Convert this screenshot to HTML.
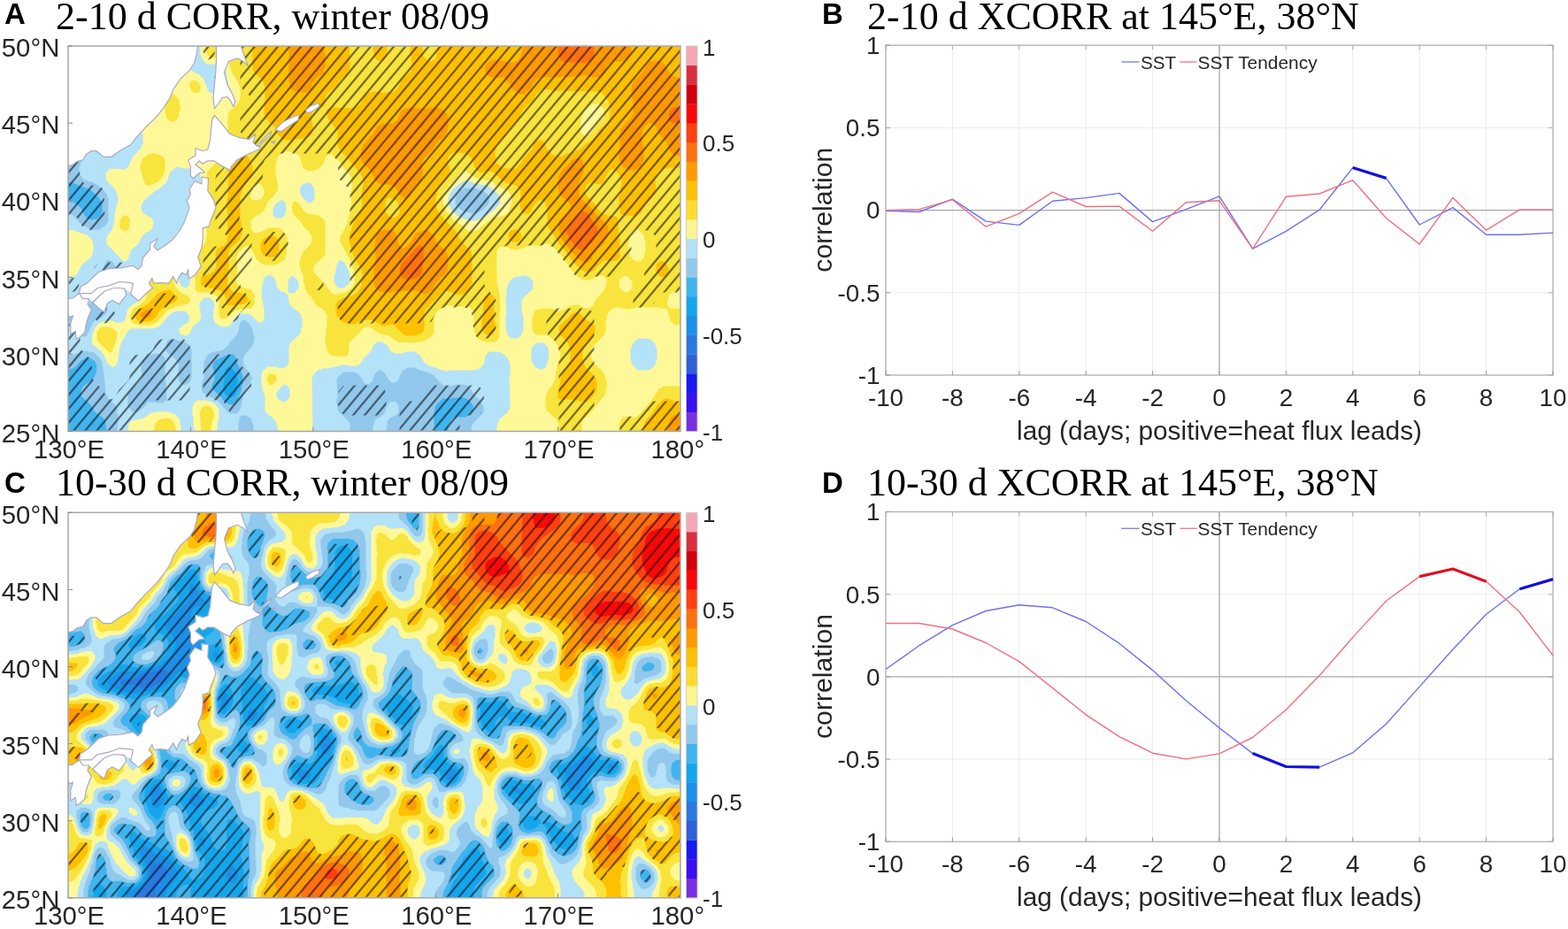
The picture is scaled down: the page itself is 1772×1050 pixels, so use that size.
<!DOCTYPE html><html><head><meta charset="utf-8"><style>html,body{margin:0;padding:0;background:#fff;}svg{display:block}</style></head><body>
<svg width="1772" height="1050" viewBox="0 0 1772 1050">
<rect width="100%" height="100%" fill="#fff"/>
<text x="5" y="27.0" font-family="Liberation Sans, Arial, sans-serif" font-weight="bold" font-size="33" fill="#000">A</text>
<text x="63" y="32.5" font-family="Liberation Serif, Times New Roman, serif" font-size="44" fill="#000">2-10 d CORR, winter 08/09</text>
<clipPath id="clipA"><rect x="77.0" y="52.0" width="692.0" height="435.5"/></clipPath>
<g clip-path="url(#clipA)">
<rect x="77.0" y="52.0" width="692.0" height="435.5" fill="#14a6ec"/>
<path d="M257.5,414.5 261.5,415.5 266.5,421.5 268.5,426.5 268.5,430.5 269.5,431.5 268.5,432.5 268.5,439.5 267.5,440.5 267.5,442.5 265.5,446.5 261.5,449.5 257.5,448.5 254.5,445.5 252.5,441.5 252.5,432.5 253.5,431.5 253.5,427.5 254.5,426.5 254.5,418.5ZM77.5,52.5 77.5,487.5 768.5,487.5 768.5,52.5Z" fill="#40b4ee" fill-rule="evenodd"/>
<path d="M258.5,400.5 263.5,400.5 266.5,403.5 268.5,411.5 274.5,424.5 274.5,433.5 273.5,434.5 272.5,441.5 268.5,452.5 263.5,457.5 259.5,457.5 254.5,454.5 250.5,450.5 250.5,449.5 241.5,441.5 239.5,437.5 239.5,435.5 242.5,428.5 242.5,422.5 241.5,421.5 241.5,417.5 240.5,416.5 240.5,412.5 242.5,408.5 244.5,406.5ZM77.5,52.5 77.5,206.5 81.5,206.5 102.5,214.5 112.5,224.5 115.5,230.5 115.5,240.5 113.5,244.5 109.5,247.5 102.5,248.5 101.5,247.5 99.5,247.5 95.5,243.5 91.5,235.5 86.5,230.5 82.5,228.5 78.5,228.5 77.5,227.5 77.5,417.5 82.5,416.5 85.5,414.5 91.5,407.5 97.5,404.5 101.5,404.5 107.5,408.5 109.5,413.5 108.5,422.5 104.5,429.5 96.5,434.5 92.5,438.5 92.5,440.5 91.5,441.5 91.5,446.5 92.5,448.5 103.5,458.5 106.5,464.5 111.5,469.5 114.5,470.5 118.5,474.5 119.5,476.5 119.5,481.5 120.5,482.5 120.5,487.5 490.5,487.5 490.5,465.5 491.5,464.5 491.5,460.5 493.5,456.5 500.5,450.5 510.5,450.5 511.5,449.5 518.5,449.5 519.5,448.5 527.5,450.5 533.5,456.5 534.5,458.5 534.5,463.5 533.5,465.5 526.5,471.5 514.5,471.5 510.5,473.5 506.5,481.5 506.5,487.5 768.5,487.5 768.5,52.5Z" fill="#92c8ec" fill-rule="evenodd"/>
<path d="M447.5,454.5 445.5,453.5 440.5,454.5 436.5,460.5 434.5,467.5 429.5,471.5 426.5,472.5 423.5,475.5 422.5,480.5 421.5,481.5 421.5,487.5 436.5,487.5 436.5,482.5 437.5,481.5 437.5,476.5 440.5,472.5 448.5,468.5 450.5,465.5 450.5,458.5ZM182.5,400.5 186.5,404.5 186.5,430.5 187.5,431.5 188.5,451.5 184.5,455.5 168.5,454.5 166.5,455.5 163.5,459.5 156.5,465.5 150.5,465.5 148.5,464.5 144.5,458.5 144.5,445.5 146.5,441.5 152.5,435.5 153.5,435.5 159.5,428.5 159.5,424.5 160.5,423.5 160.5,421.5 159.5,420.5 159.5,412.5 160.5,411.5 161.5,406.5 168.5,400.5 172.5,400.5 173.5,399.5ZM191.5,383.5 198.5,383.5 199.5,384.5 210.5,387.5 214.5,390.5 216.5,394.5 216.5,426.5 214.5,431.5 211.5,434.5 209.5,434.5 208.5,435.5 204.5,433.5 201.5,429.5 201.5,426.5 200.5,425.5 200.5,421.5 201.5,420.5 201.5,411.5 200.5,410.5 200.5,408.5 194.5,402.5 191.5,401.5 187.5,396.5 188.5,386.5ZM276.5,361.5 282.5,366.5 285.5,372.5 286.5,378.5 287.5,379.5 286.5,388.5 284.5,392.5 277.5,399.5 274.5,405.5 275.5,412.5 277.5,416.5 282.5,421.5 284.5,425.5 284.5,429.5 276.5,441.5 276.5,443.5 274.5,447.5 274.5,451.5 273.5,452.5 272.5,459.5 271.5,460.5 271.5,463.5 267.5,467.5 260.5,467.5 256.5,465.5 250.5,457.5 244.5,451.5 231.5,445.5 228.5,442.5 227.5,435.5 230.5,427.5 230.5,409.5 233.5,402.5 236.5,399.5 241.5,397.5 249.5,396.5 253.5,394.5 258.5,389.5 258.5,388.5 267.5,378.5 269.5,374.5 270.5,367.5 272.5,363.5ZM514.5,222.5 521.5,214.5 525.5,212.5 536.5,212.5 547.5,216.5 551.5,220.5 553.5,226.5 551.5,231.5 545.5,237.5 539.5,240.5 532.5,241.5 531.5,240.5 524.5,239.5 516.5,233.5 514.5,229.5ZM243.5,84.5 245.5,87.5 242.5,89.5 241.5,88.5 241.5,86.5ZM92.5,52.5 92.5,65.5 91.5,66.5 91.5,183.5 89.5,188.5 89.5,196.5 95.5,203.5 97.5,203.5 101.5,205.5 104.5,205.5 112.5,210.5 120.5,219.5 122.5,224.5 122.5,249.5 119.5,254.5 112.5,259.5 104.5,259.5 94.5,255.5 91.5,253.5 81.5,242.5 78.5,242.5 77.5,241.5 77.5,346.5 83.5,346.5 91.5,349.5 96.5,348.5 99.5,345.5 103.5,338.5 108.5,333.5 114.5,330.5 116.5,328.5 117.5,300.5 120.5,294.5 124.5,294.5 126.5,295.5 133.5,303.5 135.5,308.5 135.5,316.5 132.5,323.5 126.5,329.5 120.5,332.5 121.5,352.5 115.5,358.5 108.5,361.5 104.5,365.5 99.5,377.5 96.5,380.5 92.5,380.5 89.5,377.5 84.5,368.5 81.5,366.5 77.5,366.5 77.5,401.5 82.5,401.5 85.5,399.5 87.5,399.5 91.5,397.5 98.5,396.5 99.5,397.5 106.5,398.5 113.5,405.5 115.5,410.5 115.5,413.5 116.5,414.5 116.5,419.5 117.5,420.5 119.5,444.5 122.5,450.5 129.5,456.5 132.5,462.5 132.5,467.5 133.5,468.5 132.5,487.5 269.5,487.5 269.5,477.5 270.5,476.5 270.5,472.5 273.5,469.5 278.5,469.5 283.5,472.5 286.5,480.5 286.5,487.5 395.5,487.5 395.5,479.5 393.5,475.5 383.5,466.5 381.5,462.5 381.5,458.5 380.5,457.5 380.5,451.5 381.5,450.5 380.5,429.5 382.5,425.5 388.5,420.5 399.5,420.5 404.5,422.5 407.5,425.5 410.5,431.5 412.5,433.5 416.5,434.5 420.5,431.5 423.5,422.5 427.5,418.5 430.5,418.5 435.5,422.5 438.5,428.5 442.5,432.5 446.5,432.5 449.5,430.5 454.5,419.5 460.5,415.5 468.5,415.5 474.5,418.5 485.5,421.5 490.5,424.5 499.5,434.5 504.5,436.5 513.5,435.5 514.5,434.5 524.5,434.5 525.5,435.5 527.5,435.5 532.5,440.5 535.5,445.5 542.5,452.5 546.5,459.5 546.5,464.5 544.5,468.5 534.5,478.5 532.5,483.5 532.5,487.5 768.5,487.5 768.5,52.5Z" fill="#b4e2f8" fill-rule="evenodd"/>
<path d="M204.5,480.5 203.5,479.5 203.5,475.5 201.5,471.5 198.5,468.5 190.5,465.5 176.5,465.5 175.5,466.5 171.5,466.5 160.5,473.5 156.5,473.5 155.5,474.5 148.5,475.5 145.5,479.5 144.5,487.5 204.5,487.5ZM221.5,453.5 218.5,456.5 218.5,458.5 217.5,459.5 217.5,470.5 218.5,471.5 218.5,483.5 219.5,484.5 219.5,487.5 245.5,487.5 245.5,479.5 246.5,478.5 246.5,474.5 247.5,473.5 247.5,463.5 245.5,459.5 241.5,455.5 237.5,453.5 234.5,453.5 233.5,452.5 223.5,452.5ZM322.5,434.5 324.5,435.5 327.5,439.5 327.5,448.5 323.5,453.5 319.5,454.5 313.5,450.5 312.5,448.5 312.5,443.5 319.5,435.5ZM606.5,387.5 614.5,387.5 618.5,391.5 620.5,396.5 619.5,408.5 618.5,409.5 617.5,414.5 613.5,417.5 609.5,417.5 605.5,415.5 603.5,413.5 600.5,407.5 600.5,394.5 602.5,390.5ZM722.5,382.5 732.5,382.5 736.5,384.5 739.5,387.5 742.5,394.5 742.5,406.5 741.5,407.5 740.5,412.5 736.5,416.5 732.5,418.5 721.5,418.5 719.5,417.5 713.5,410.5 713.5,407.5 712.5,406.5 712.5,394.5 715.5,387.5 718.5,384.5ZM594.5,311.5 595.5,312.5 597.5,312.5 601.5,316.5 602.5,318.5 602.5,325.5 601.5,327.5 592.5,335.5 589.5,340.5 589.5,352.5 591.5,357.5 591.5,373.5 588.5,379.5 584.5,382.5 577.5,382.5 573.5,378.5 572.5,373.5 571.5,372.5 571.5,357.5 572.5,356.5 571.5,334.5 572.5,333.5 572.5,326.5 575.5,318.5 579.5,314.5 584.5,312.5 587.5,312.5 588.5,311.5ZM330.5,311.5 336.5,316.5 336.5,318.5 337.5,319.5 337.5,325.5 333.5,330.5 331.5,331.5 326.5,331.5 325.5,330.5 325.5,317.5 326.5,316.5 326.5,314.5ZM383.5,294.5 386.5,294.5 389.5,297.5 394.5,306.5 394.5,309.5 395.5,310.5 395.5,316.5 394.5,317.5 394.5,319.5 393.5,321.5 388.5,325.5 383.5,325.5 381.5,324.5 378.5,321.5 378.5,319.5 377.5,318.5 377.5,311.5 378.5,310.5 380.5,299.5ZM77.5,259.5 77.5,313.5 80.5,313.5 86.5,310.5 92.5,299.5 96.5,295.5 102.5,291.5 105.5,284.5 105.5,275.5 103.5,270.5 98.5,265.5 85.5,261.5 84.5,260.5ZM316.5,226.5 319.5,226.5 322.5,229.5 323.5,238.5 322.5,239.5 322.5,242.5 318.5,246.5 312.5,246.5 308.5,243.5 308.5,236.5 311.5,230.5ZM342.5,207.5 349.5,206.5 351.5,207.5 354.5,211.5 354.5,214.5 355.5,215.5 355.5,224.5 351.5,229.5 348.5,229.5 341.5,222.5 339.5,218.5 338.5,213.5ZM506.5,224.5 509.5,216.5 516.5,209.5 524.5,204.5 529.5,204.5 537.5,207.5 549.5,209.5 555.5,212.5 559.5,216.5 560.5,216.5 565.5,222.5 565.5,229.5 558.5,237.5 549.5,243.5 546.5,244.5 544.5,246.5 537.5,249.5 529.5,249.5 523.5,246.5 521.5,246.5 519.5,244.5 516.5,243.5 510.5,237.5 507.5,231.5ZM103.5,52.5 103.5,58.5 104.5,59.5 105.5,64.5 108.5,67.5 112.5,69.5 117.5,74.5 122.5,83.5 130.5,91.5 136.5,101.5 143.5,107.5 149.5,117.5 158.5,126.5 160.5,131.5 160.5,150.5 161.5,151.5 161.5,162.5 160.5,163.5 160.5,165.5 149.5,178.5 145.5,187.5 142.5,190.5 140.5,191.5 125.5,190.5 123.5,191.5 119.5,196.5 120.5,203.5 130.5,214.5 133.5,222.5 133.5,227.5 132.5,228.5 132.5,231.5 130.5,235.5 130.5,240.5 129.5,241.5 129.5,250.5 128.5,251.5 128.5,254.5 126.5,259.5 120.5,268.5 120.5,274.5 121.5,276.5 138.5,294.5 140.5,295.5 143.5,294.5 145.5,291.5 145.5,289.5 148.5,282.5 156.5,275.5 160.5,267.5 165.5,262.5 169.5,260.5 172.5,257.5 172.5,255.5 173.5,254.5 173.5,250.5 171.5,246.5 162.5,241.5 159.5,236.5 159.5,232.5 162.5,226.5 174.5,216.5 182.5,211.5 188.5,205.5 192.5,194.5 199.5,188.5 205.5,189.5 206.5,190.5 220.5,190.5 224.5,193.5 226.5,198.5 226.5,257.5 227.5,258.5 227.5,265.5 226.5,266.5 225.5,271.5 214.5,280.5 212.5,285.5 212.5,302.5 214.5,307.5 214.5,321.5 210.5,325.5 206.5,324.5 203.5,321.5 202.5,319.5 202.5,301.5 199.5,295.5 193.5,291.5 182.5,291.5 177.5,293.5 174.5,296.5 171.5,304.5 165.5,310.5 162.5,311.5 158.5,315.5 157.5,317.5 157.5,323.5 158.5,324.5 158.5,328.5 159.5,329.5 159.5,335.5 154.5,341.5 145.5,347.5 143.5,351.5 142.5,358.5 140.5,362.5 138.5,364.5 131.5,364.5 127.5,362.5 120.5,362.5 119.5,363.5 116.5,363.5 110.5,366.5 106.5,371.5 106.5,373.5 104.5,377.5 103.5,386.5 105.5,390.5 106.5,390.5 114.5,397.5 118.5,403.5 121.5,410.5 125.5,414.5 127.5,415.5 132.5,411.5 132.5,409.5 133.5,408.5 133.5,402.5 134.5,401.5 134.5,394.5 135.5,393.5 136.5,388.5 144.5,374.5 148.5,371.5 173.5,371.5 174.5,370.5 179.5,369.5 186.5,362.5 188.5,358.5 194.5,353.5 199.5,351.5 208.5,351.5 212.5,354.5 214.5,360.5 213.5,361.5 213.5,363.5 211.5,365.5 208.5,366.5 202.5,371.5 202.5,375.5 205.5,378.5 207.5,378.5 208.5,379.5 212.5,378.5 214.5,376.5 217.5,369.5 226.5,361.5 227.5,354.5 226.5,353.5 226.5,349.5 225.5,348.5 225.5,342.5 230.5,336.5 236.5,336.5 241.5,340.5 242.5,347.5 241.5,348.5 240.5,358.5 241.5,359.5 242.5,364.5 248.5,368.5 256.5,369.5 260.5,367.5 263.5,363.5 264.5,360.5 271.5,354.5 280.5,354.5 284.5,356.5 289.5,361.5 289.5,362.5 292.5,364.5 295.5,364.5 297.5,362.5 297.5,360.5 298.5,359.5 298.5,347.5 297.5,346.5 296.5,337.5 295.5,336.5 296.5,321.5 297.5,320.5 297.5,316.5 298.5,314.5 301.5,311.5 304.5,310.5 305.5,311.5 307.5,311.5 309.5,313.5 311.5,317.5 313.5,325.5 317.5,329.5 322.5,330.5 325.5,333.5 326.5,341.5 328.5,345.5 339.5,354.5 340.5,359.5 341.5,360.5 341.5,369.5 340.5,370.5 339.5,376.5 327.5,388.5 327.5,390.5 326.5,391.5 326.5,410.5 325.5,412.5 320.5,416.5 313.5,415.5 312.5,414.5 302.5,414.5 296.5,419.5 296.5,421.5 295.5,422.5 295.5,435.5 296.5,436.5 296.5,439.5 299.5,447.5 299.5,463.5 302.5,468.5 307.5,471.5 312.5,477.5 314.5,487.5 353.5,487.5 352.5,427.5 354.5,422.5 360.5,417.5 363.5,417.5 364.5,416.5 372.5,416.5 373.5,415.5 383.5,413.5 384.5,412.5 392.5,412.5 393.5,413.5 402.5,413.5 403.5,412.5 405.5,412.5 408.5,409.5 410.5,405.5 419.5,396.5 422.5,389.5 426.5,386.5 432.5,386.5 437.5,390.5 442.5,397.5 446.5,399.5 454.5,399.5 459.5,397.5 469.5,397.5 475.5,402.5 478.5,408.5 481.5,411.5 487.5,414.5 489.5,414.5 499.5,418.5 502.5,418.5 503.5,419.5 506.5,419.5 507.5,418.5 535.5,418.5 536.5,417.5 540.5,417.5 545.5,413.5 547.5,409.5 548.5,402.5 551.5,398.5 553.5,397.5 563.5,397.5 569.5,400.5 573.5,404.5 576.5,411.5 576.5,423.5 575.5,424.5 576.5,460.5 573.5,466.5 564.5,473.5 561.5,481.5 561.5,487.5 768.5,487.5 768.5,52.5 225.5,52.5 226.5,61.5 228.5,66.5 231.5,70.5 234.5,72.5 247.5,72.5 253.5,77.5 255.5,81.5 256.5,89.5 257.5,90.5 257.5,99.5 253.5,103.5 246.5,104.5 245.5,105.5 239.5,105.5 237.5,104.5 234.5,101.5 232.5,94.5 229.5,88.5 224.5,83.5 220.5,82.5 217.5,80.5 208.5,70.5 206.5,69.5 194.5,69.5 192.5,68.5 187.5,62.5 187.5,60.5 186.5,59.5 186.5,52.5Z" fill="#fff898" fill-rule="evenodd"/>
<path d="M198.5,482.5 195.5,475.5 192.5,473.5 186.5,472.5 185.5,473.5 181.5,473.5 179.5,474.5 175.5,478.5 173.5,487.5 198.5,487.5ZM232.5,458.5 231.5,459.5 229.5,459.5 227.5,461.5 225.5,466.5 227.5,487.5 238.5,487.5 238.5,482.5 239.5,481.5 239.5,477.5 241.5,472.5 241.5,464.5 237.5,459.5ZM768.5,436.5 750.5,436.5 744.5,439.5 736.5,452.5 721.5,469.5 717.5,471.5 707.5,470.5 706.5,471.5 704.5,471.5 701.5,474.5 700.5,479.5 699.5,480.5 699.5,487.5 768.5,487.5ZM309.5,422.5 304.5,422.5 302.5,424.5 302.5,426.5 301.5,427.5 303.5,434.5 305.5,435.5 308.5,434.5 312.5,429.5 312.5,425.5 311.5,423.5ZM115.5,369.5 113.5,370.5 109.5,375.5 109.5,383.5 110.5,385.5 123.5,398.5 125.5,398.5 127.5,396.5 127.5,394.5 131.5,384.5 132.5,376.5 131.5,374.5 126.5,370.5 124.5,370.5 123.5,369.5ZM706.5,311.5 707.5,312.5 709.5,312.5 714.5,318.5 714.5,325.5 709.5,330.5 705.5,330.5 700.5,325.5 700.5,323.5 699.5,322.5 699.5,317.5 700.5,315.5 703.5,312.5 705.5,312.5ZM193.5,299.5 191.5,298.5 183.5,298.5 180.5,300.5 175.5,310.5 164.5,320.5 165.5,336.5 159.5,343.5 152.5,347.5 149.5,350.5 147.5,355.5 147.5,361.5 150.5,365.5 155.5,366.5 156.5,367.5 169.5,367.5 170.5,366.5 172.5,366.5 176.5,364.5 189.5,350.5 201.5,345.5 205.5,345.5 206.5,344.5 212.5,343.5 214.5,341.5 214.5,336.5 210.5,333.5 205.5,331.5 198.5,324.5 196.5,319.5 196.5,310.5 197.5,308.5 196.5,307.5 196.5,303.5ZM717.5,259.5 722.5,260.5 727.5,265.5 728.5,271.5 729.5,272.5 729.5,284.5 728.5,285.5 728.5,288.5 727.5,289.5 727.5,291.5 723.5,295.5 719.5,295.5 715.5,293.5 711.5,288.5 711.5,286.5 710.5,285.5 710.5,273.5 711.5,272.5 711.5,266.5 712.5,265.5 712.5,263.5ZM139.5,243.5 136.5,246.5 136.5,248.5 135.5,249.5 135.5,257.5 138.5,260.5 143.5,260.5 146.5,257.5 146.5,247.5 143.5,243.5ZM292.5,207.5 296.5,210.5 298.5,215.5 298.5,219.5 295.5,224.5 291.5,226.5 286.5,226.5 284.5,225.5 282.5,222.5 282.5,215.5 288.5,208.5ZM500.5,222.5 503.5,214.5 507.5,210.5 507.5,209.5 514.5,203.5 519.5,195.5 522.5,192.5 525.5,192.5 537.5,201.5 539.5,201.5 540.5,202.5 546.5,202.5 547.5,203.5 553.5,203.5 565.5,211.5 573.5,215.5 576.5,218.5 578.5,222.5 578.5,228.5 577.5,229.5 577.5,232.5 576.5,233.5 575.5,238.5 571.5,242.5 563.5,245.5 560.5,245.5 553.5,248.5 538.5,260.5 536.5,260.5 535.5,261.5 529.5,261.5 521.5,254.5 512.5,248.5 504.5,239.5 500.5,230.5ZM176.5,173.5 169.5,173.5 163.5,177.5 160.5,181.5 158.5,186.5 158.5,191.5 159.5,192.5 159.5,195.5 160.5,196.5 160.5,199.5 161.5,200.5 163.5,207.5 166.5,209.5 169.5,209.5 178.5,205.5 183.5,200.5 186.5,192.5 186.5,180.5 183.5,176.5ZM677.5,117.5 682.5,123.5 682.5,131.5 681.5,133.5 673.5,141.5 671.5,145.5 666.5,151.5 661.5,153.5 658.5,152.5 655.5,146.5 655.5,142.5 656.5,141.5 657.5,131.5 660.5,125.5 666.5,119.5 670.5,117.5ZM191.5,106.5 188.5,109.5 186.5,114.5 186.5,127.5 187.5,128.5 188.5,133.5 192.5,137.5 196.5,137.5 198.5,136.5 201.5,132.5 202.5,125.5 203.5,124.5 203.5,118.5 202.5,117.5 202.5,113.5 201.5,111.5 196.5,106.5ZM217.5,90.5 214.5,93.5 214.5,98.5 215.5,99.5 215.5,101.5 218.5,104.5 222.5,105.5 225.5,103.5 226.5,97.5 225.5,96.5 225.5,94.5 222.5,91.5ZM231.5,52.5 232.5,53.5 232.5,59.5 237.5,65.5 252.5,65.5 256.5,68.5 259.5,73.5 261.5,81.5 267.5,90.5 271.5,99.5 271.5,111.5 270.5,112.5 270.5,114.5 268.5,117.5 258.5,126.5 258.5,128.5 257.5,129.5 257.5,148.5 256.5,149.5 256.5,153.5 255.5,154.5 255.5,158.5 254.5,159.5 254.5,163.5 253.5,164.5 252.5,169.5 249.5,175.5 245.5,180.5 244.5,183.5 236.5,191.5 233.5,196.5 233.5,200.5 232.5,201.5 232.5,221.5 233.5,222.5 233.5,228.5 232.5,229.5 232.5,253.5 233.5,254.5 233.5,267.5 232.5,268.5 232.5,272.5 230.5,276.5 225.5,281.5 224.5,281.5 218.5,288.5 218.5,299.5 219.5,300.5 219.5,307.5 220.5,308.5 220.5,327.5 223.5,330.5 236.5,330.5 241.5,332.5 245.5,335.5 247.5,339.5 247.5,351.5 246.5,353.5 247.5,354.5 247.5,357.5 250.5,360.5 255.5,360.5 263.5,352.5 267.5,350.5 269.5,350.5 270.5,349.5 276.5,349.5 277.5,348.5 282.5,348.5 284.5,347.5 287.5,343.5 287.5,333.5 285.5,329.5 283.5,327.5 272.5,324.5 267.5,319.5 267.5,316.5 266.5,315.5 267.5,313.5 267.5,308.5 268.5,307.5 267.5,290.5 269.5,285.5 275.5,279.5 277.5,278.5 281.5,278.5 284.5,281.5 289.5,292.5 294.5,297.5 299.5,299.5 310.5,299.5 311.5,298.5 313.5,298.5 317.5,296.5 321.5,292.5 323.5,288.5 324.5,279.5 325.5,278.5 325.5,273.5 324.5,272.5 324.5,268.5 321.5,262.5 318.5,259.5 314.5,257.5 304.5,257.5 293.5,262.5 288.5,263.5 286.5,262.5 283.5,258.5 283.5,249.5 288.5,244.5 293.5,242.5 298.5,237.5 302.5,228.5 309.5,221.5 313.5,215.5 314.5,209.5 313.5,208.5 313.5,204.5 312.5,203.5 312.5,199.5 311.5,198.5 311.5,185.5 312.5,184.5 312.5,181.5 314.5,176.5 320.5,171.5 332.5,171.5 338.5,176.5 342.5,189.5 344.5,191.5 349.5,193.5 353.5,193.5 354.5,192.5 359.5,191.5 364.5,186.5 368.5,177.5 370.5,175.5 374.5,174.5 384.5,183.5 386.5,187.5 394.5,196.5 397.5,202.5 397.5,215.5 396.5,216.5 397.5,231.5 396.5,232.5 396.5,236.5 395.5,237.5 395.5,241.5 394.5,242.5 392.5,252.5 384.5,267.5 384.5,273.5 396.5,295.5 396.5,297.5 398.5,300.5 398.5,302.5 400.5,306.5 400.5,311.5 401.5,312.5 401.5,314.5 400.5,315.5 400.5,320.5 398.5,324.5 394.5,328.5 388.5,331.5 384.5,331.5 383.5,332.5 377.5,332.5 375.5,331.5 370.5,326.5 367.5,320.5 363.5,317.5 354.5,307.5 354.5,301.5 355.5,299.5 360.5,294.5 361.5,294.5 367.5,287.5 367.5,251.5 365.5,247.5 359.5,243.5 347.5,241.5 342.5,237.5 338.5,230.5 334.5,227.5 331.5,227.5 330.5,232.5 329.5,233.5 330.5,235.5 330.5,239.5 332.5,243.5 340.5,251.5 342.5,255.5 349.5,262.5 352.5,267.5 352.5,272.5 350.5,276.5 343.5,283.5 340.5,288.5 340.5,290.5 338.5,294.5 338.5,301.5 342.5,311.5 343.5,319.5 344.5,320.5 344.5,324.5 347.5,331.5 351.5,335.5 356.5,343.5 359.5,346.5 363.5,348.5 367.5,352.5 369.5,356.5 369.5,369.5 368.5,370.5 368.5,377.5 367.5,378.5 367.5,386.5 368.5,387.5 368.5,393.5 369.5,394.5 369.5,396.5 370.5,398.5 374.5,401.5 376.5,401.5 377.5,402.5 391.5,402.5 393.5,400.5 393.5,398.5 394.5,397.5 394.5,388.5 395.5,386.5 401.5,380.5 402.5,380.5 410.5,371.5 413.5,369.5 417.5,369.5 429.5,377.5 439.5,379.5 449.5,386.5 469.5,387.5 470.5,386.5 476.5,386.5 477.5,385.5 479.5,385.5 488.5,379.5 490.5,375.5 490.5,357.5 491.5,356.5 491.5,354.5 501.5,345.5 511.5,345.5 512.5,346.5 530.5,346.5 535.5,352.5 535.5,373.5 538.5,380.5 541.5,383.5 547.5,386.5 559.5,386.5 561.5,385.5 564.5,380.5 564.5,353.5 565.5,352.5 564.5,330.5 563.5,329.5 563.5,325.5 561.5,320.5 561.5,283.5 562.5,281.5 565.5,278.5 570.5,278.5 577.5,281.5 584.5,282.5 585.5,281.5 589.5,281.5 597.5,277.5 611.5,277.5 616.5,275.5 620.5,275.5 622.5,276.5 633.5,287.5 645.5,304.5 653.5,313.5 659.5,316.5 666.5,316.5 677.5,311.5 682.5,311.5 685.5,315.5 685.5,321.5 682.5,328.5 674.5,336.5 670.5,344.5 666.5,348.5 662.5,348.5 652.5,344.5 644.5,345.5 634.5,351.5 630.5,351.5 622.5,348.5 613.5,348.5 612.5,349.5 607.5,349.5 603.5,352.5 602.5,357.5 601.5,358.5 601.5,372.5 603.5,376.5 608.5,378.5 616.5,378.5 621.5,380.5 627.5,386.5 631.5,392.5 632.5,397.5 633.5,398.5 632.5,405.5 629.5,413.5 629.5,418.5 628.5,419.5 627.5,428.5 623.5,436.5 620.5,439.5 617.5,445.5 617.5,448.5 616.5,449.5 616.5,459.5 617.5,460.5 617.5,462.5 618.5,464.5 630.5,475.5 630.5,477.5 631.5,478.5 631.5,487.5 657.5,487.5 657.5,477.5 658.5,476.5 658.5,474.5 670.5,463.5 673.5,458.5 683.5,446.5 684.5,441.5 685.5,440.5 685.5,430.5 684.5,429.5 684.5,426.5 681.5,420.5 670.5,409.5 668.5,405.5 667.5,398.5 670.5,391.5 683.5,377.5 683.5,375.5 684.5,374.5 684.5,363.5 685.5,362.5 685.5,357.5 688.5,351.5 693.5,347.5 701.5,347.5 702.5,348.5 706.5,348.5 707.5,349.5 717.5,348.5 718.5,347.5 725.5,347.5 726.5,346.5 728.5,346.5 729.5,347.5 745.5,347.5 746.5,348.5 752.5,348.5 755.5,352.5 755.5,356.5 756.5,357.5 757.5,362.5 761.5,366.5 768.5,367.5 768.5,348.5 757.5,348.5 754.5,345.5 754.5,338.5 755.5,337.5 756.5,332.5 762.5,328.5 768.5,328.5 768.5,52.5Z" fill="#f8e43c" fill-rule="evenodd"/>
<path d="M768.5,453.5 762.5,453.5 755.5,450.5 751.5,450.5 749.5,451.5 742.5,458.5 737.5,466.5 729.5,475.5 727.5,480.5 726.5,487.5 768.5,487.5ZM648.5,353.5 646.5,354.5 636.5,364.5 635.5,364.5 631.5,369.5 631.5,374.5 632.5,375.5 632.5,377.5 641.5,387.5 643.5,391.5 643.5,393.5 644.5,394.5 644.5,406.5 640.5,415.5 637.5,418.5 633.5,428.5 633.5,431.5 632.5,432.5 632.5,435.5 630.5,440.5 630.5,449.5 632.5,451.5 649.5,451.5 650.5,452.5 661.5,454.5 665.5,452.5 670.5,447.5 674.5,440.5 674.5,430.5 673.5,429.5 673.5,427.5 661.5,414.5 659.5,409.5 659.5,406.5 658.5,405.5 658.5,395.5 659.5,394.5 659.5,391.5 661.5,387.5 670.5,378.5 672.5,374.5 672.5,369.5 670.5,366.5 663.5,362.5 655.5,354.5 653.5,353.5ZM552.5,331.5 548.5,334.5 546.5,338.5 545.5,360.5 544.5,361.5 544.5,371.5 546.5,375.5 550.5,378.5 554.5,378.5 556.5,377.5 558.5,374.5 558.5,370.5 559.5,369.5 559.5,364.5 558.5,363.5 558.5,337.5 556.5,333.5ZM200.5,335.5 191.5,327.5 185.5,328.5 177.5,332.5 167.5,343.5 156.5,349.5 152.5,354.5 152.5,359.5 157.5,363.5 168.5,363.5 169.5,362.5 171.5,362.5 175.5,359.5 178.5,355.5 179.5,352.5 186.5,345.5 197.5,341.5 200.5,338.5ZM745.5,295.5 743.5,296.5 741.5,299.5 741.5,307.5 745.5,312.5 750.5,313.5 752.5,312.5 755.5,308.5 755.5,302.5 751.5,296.5 749.5,295.5ZM309.5,266.5 303.5,266.5 299.5,268.5 296.5,271.5 294.5,276.5 294.5,281.5 296.5,286.5 299.5,289.5 304.5,290.5 305.5,291.5 306.5,290.5 309.5,290.5 312.5,288.5 315.5,283.5 315.5,274.5 314.5,273.5 314.5,271.5 313.5,269.5ZM577.5,260.5 574.5,263.5 574.5,268.5 575.5,270.5 579.5,273.5 585.5,273.5 589.5,268.5 588.5,263.5 585.5,260.5 583.5,260.5 582.5,259.5ZM439.5,223.5 444.5,224.5 448.5,228.5 451.5,233.5 451.5,240.5 450.5,242.5 446.5,245.5 440.5,245.5 435.5,239.5 435.5,227.5 436.5,225.5ZM268.5,158.5 264.5,158.5 261.5,161.5 259.5,166.5 259.5,170.5 258.5,171.5 258.5,175.5 257.5,176.5 257.5,180.5 256.5,181.5 256.5,189.5 257.5,190.5 257.5,197.5 258.5,198.5 257.5,224.5 256.5,225.5 256.5,240.5 257.5,241.5 257.5,269.5 256.5,270.5 256.5,273.5 253.5,277.5 246.5,280.5 244.5,282.5 244.5,284.5 243.5,285.5 243.5,293.5 244.5,294.5 244.5,301.5 243.5,302.5 243.5,304.5 238.5,309.5 233.5,310.5 232.5,311.5 229.5,311.5 227.5,313.5 227.5,315.5 226.5,316.5 227.5,321.5 229.5,323.5 235.5,324.5 236.5,325.5 240.5,325.5 241.5,326.5 249.5,328.5 254.5,333.5 254.5,335.5 255.5,336.5 255.5,341.5 256.5,342.5 256.5,344.5 258.5,345.5 277.5,343.5 280.5,339.5 280.5,336.5 276.5,332.5 263.5,329.5 261.5,328.5 257.5,323.5 257.5,309.5 258.5,308.5 258.5,284.5 259.5,283.5 259.5,281.5 270.5,271.5 273.5,264.5 273.5,257.5 272.5,256.5 272.5,250.5 271.5,249.5 271.5,221.5 272.5,220.5 273.5,214.5 276.5,208.5 285.5,196.5 285.5,187.5 284.5,186.5 284.5,184.5 280.5,177.5 275.5,172.5ZM686.5,112.5 688.5,117.5 688.5,120.5 689.5,121.5 689.5,132.5 688.5,133.5 688.5,135.5 686.5,138.5 676.5,147.5 673.5,153.5 666.5,160.5 663.5,161.5 655.5,168.5 651.5,170.5 640.5,173.5 635.5,176.5 628.5,176.5 622.5,173.5 618.5,168.5 615.5,161.5 612.5,158.5 610.5,158.5 609.5,157.5 608.5,158.5 606.5,158.5 604.5,160.5 600.5,169.5 591.5,178.5 588.5,184.5 582.5,190.5 571.5,190.5 570.5,189.5 567.5,189.5 561.5,184.5 560.5,182.5 560.5,177.5 559.5,176.5 559.5,170.5 560.5,169.5 560.5,165.5 562.5,161.5 572.5,152.5 576.5,144.5 587.5,133.5 591.5,123.5 602.5,113.5 605.5,107.5 611.5,101.5 617.5,100.5 618.5,101.5 622.5,101.5 623.5,102.5 675.5,103.5 680.5,105.5ZM369.5,123.5 368.5,127.5 369.5,128.5 370.5,134.5 381.5,147.5 381.5,164.5 383.5,168.5 407.5,196.5 410.5,202.5 410.5,209.5 409.5,210.5 409.5,215.5 408.5,216.5 409.5,232.5 408.5,233.5 408.5,236.5 402.5,244.5 399.5,250.5 399.5,252.5 397.5,256.5 397.5,259.5 395.5,263.5 395.5,266.5 394.5,267.5 394.5,273.5 395.5,274.5 395.5,277.5 396.5,278.5 399.5,289.5 404.5,298.5 406.5,300.5 409.5,308.5 409.5,317.5 408.5,318.5 408.5,322.5 405.5,328.5 401.5,332.5 391.5,336.5 388.5,336.5 381.5,340.5 379.5,343.5 379.5,353.5 380.5,354.5 380.5,356.5 385.5,362.5 394.5,366.5 401.5,366.5 405.5,363.5 410.5,361.5 420.5,361.5 431.5,368.5 435.5,368.5 436.5,367.5 440.5,367.5 441.5,366.5 445.5,367.5 456.5,378.5 458.5,378.5 459.5,379.5 469.5,379.5 477.5,375.5 479.5,372.5 479.5,368.5 480.5,367.5 479.5,366.5 479.5,352.5 480.5,350.5 499.5,330.5 504.5,328.5 505.5,329.5 511.5,330.5 514.5,332.5 519.5,332.5 520.5,333.5 521.5,332.5 524.5,332.5 529.5,329.5 532.5,324.5 532.5,321.5 533.5,320.5 533.5,287.5 532.5,286.5 532.5,284.5 531.5,282.5 521.5,273.5 520.5,270.5 518.5,268.5 516.5,263.5 513.5,259.5 497.5,242.5 493.5,235.5 493.5,231.5 492.5,230.5 492.5,223.5 493.5,222.5 493.5,217.5 494.5,216.5 494.5,214.5 497.5,209.5 506.5,200.5 508.5,195.5 507.5,187.5 506.5,186.5 506.5,177.5 510.5,173.5 512.5,173.5 513.5,172.5 521.5,172.5 522.5,173.5 525.5,173.5 531.5,177.5 534.5,182.5 536.5,189.5 539.5,193.5 544.5,195.5 546.5,194.5 552.5,194.5 553.5,193.5 557.5,194.5 567.5,204.5 584.5,210.5 588.5,215.5 587.5,234.5 590.5,240.5 592.5,241.5 597.5,241.5 600.5,238.5 602.5,233.5 607.5,227.5 609.5,226.5 613.5,226.5 616.5,229.5 617.5,234.5 618.5,235.5 618.5,255.5 624.5,263.5 631.5,275.5 639.5,284.5 645.5,293.5 657.5,305.5 661.5,307.5 667.5,307.5 672.5,304.5 673.5,302.5 682.5,294.5 694.5,295.5 695.5,294.5 697.5,294.5 700.5,290.5 700.5,270.5 699.5,269.5 699.5,262.5 698.5,261.5 698.5,247.5 696.5,244.5 686.5,243.5 681.5,241.5 674.5,234.5 672.5,230.5 662.5,220.5 661.5,218.5 661.5,211.5 662.5,209.5 666.5,206.5 671.5,206.5 676.5,208.5 680.5,207.5 682.5,205.5 686.5,195.5 689.5,192.5 692.5,191.5 696.5,193.5 700.5,198.5 701.5,203.5 702.5,204.5 702.5,209.5 701.5,210.5 700.5,220.5 699.5,221.5 699.5,233.5 700.5,234.5 700.5,240.5 702.5,242.5 705.5,242.5 706.5,243.5 719.5,244.5 724.5,240.5 728.5,231.5 735.5,224.5 736.5,224.5 740.5,219.5 740.5,215.5 741.5,214.5 740.5,201.5 741.5,200.5 742.5,195.5 745.5,192.5 750.5,190.5 754.5,190.5 755.5,189.5 768.5,189.5 768.5,52.5 494.5,52.5 494.5,58.5 493.5,59.5 492.5,65.5 487.5,69.5 483.5,68.5 478.5,63.5 478.5,61.5 477.5,60.5 477.5,52.5 463.5,52.5 463.5,62.5 464.5,63.5 464.5,69.5 465.5,70.5 465.5,76.5 464.5,77.5 464.5,79.5 463.5,81.5 454.5,89.5 449.5,99.5 445.5,103.5 443.5,104.5 429.5,104.5 428.5,103.5 420.5,103.5 419.5,104.5 416.5,104.5 412.5,107.5 407.5,117.5 401.5,122.5 376.5,121.5 375.5,122.5 370.5,122.5ZM421.5,52.5 422.5,62.5 424.5,66.5 427.5,68.5 432.5,68.5 434.5,67.5 437.5,62.5 437.5,53.5 438.5,52.5ZM285.5,52.5 285.5,65.5 284.5,66.5 285.5,77.5 287.5,82.5 295.5,89.5 299.5,97.5 299.5,113.5 298.5,114.5 298.5,129.5 299.5,130.5 299.5,132.5 301.5,135.5 310.5,143.5 312.5,146.5 312.5,148.5 314.5,152.5 319.5,157.5 321.5,157.5 322.5,158.5 328.5,158.5 329.5,157.5 344.5,156.5 349.5,154.5 352.5,151.5 352.5,149.5 353.5,148.5 353.5,139.5 352.5,138.5 352.5,128.5 353.5,126.5 356.5,123.5 360.5,121.5 363.5,121.5 366.5,119.5 366.5,115.5 367.5,114.5 368.5,107.5 381.5,95.5 383.5,91.5 389.5,85.5 390.5,85.5 394.5,80.5 394.5,78.5 395.5,77.5 395.5,52.5Z" fill="#ffc000" fill-rule="evenodd"/>
<path d="M761.5,469.5 758.5,471.5 756.5,475.5 756.5,478.5 755.5,479.5 755.5,487.5 768.5,487.5 768.5,469.5ZM171.5,352.5 169.5,350.5 164.5,350.5 158.5,354.5 158.5,357.5 161.5,359.5 165.5,359.5 170.5,356.5ZM428.5,262.5 426.5,264.5 423.5,271.5 423.5,285.5 424.5,286.5 424.5,293.5 423.5,294.5 423.5,302.5 422.5,303.5 422.5,320.5 424.5,325.5 428.5,329.5 430.5,329.5 431.5,330.5 442.5,330.5 443.5,329.5 453.5,329.5 454.5,328.5 470.5,328.5 473.5,330.5 475.5,330.5 479.5,332.5 484.5,331.5 489.5,326.5 493.5,318.5 503.5,309.5 505.5,305.5 505.5,301.5 506.5,300.5 506.5,290.5 503.5,282.5 494.5,276.5 491.5,271.5 491.5,269.5 489.5,265.5 485.5,261.5 478.5,260.5 477.5,261.5 472.5,262.5 469.5,264.5 462.5,275.5 456.5,280.5 454.5,280.5 450.5,276.5 448.5,266.5 444.5,260.5 442.5,259.5 434.5,259.5ZM651.5,178.5 646.5,180.5 633.5,194.5 631.5,198.5 631.5,202.5 630.5,203.5 630.5,213.5 631.5,214.5 631.5,217.5 634.5,222.5 639.5,225.5 645.5,232.5 644.5,238.5 641.5,242.5 635.5,246.5 631.5,250.5 631.5,260.5 632.5,261.5 632.5,264.5 634.5,267.5 634.5,269.5 645.5,284.5 657.5,295.5 664.5,296.5 668.5,292.5 670.5,287.5 674.5,283.5 674.5,282.5 682.5,275.5 687.5,263.5 687.5,256.5 686.5,254.5 672.5,241.5 670.5,237.5 655.5,223.5 655.5,221.5 654.5,220.5 654.5,206.5 659.5,194.5 659.5,185.5 658.5,184.5 658.5,181.5 656.5,179.5ZM498.5,122.5 496.5,122.5 495.5,121.5 485.5,121.5 484.5,122.5 469.5,122.5 468.5,121.5 461.5,121.5 460.5,122.5 457.5,122.5 453.5,125.5 449.5,134.5 444.5,139.5 441.5,139.5 440.5,140.5 438.5,139.5 432.5,139.5 426.5,142.5 421.5,151.5 410.5,163.5 408.5,168.5 408.5,171.5 407.5,172.5 407.5,178.5 409.5,183.5 418.5,192.5 423.5,202.5 426.5,206.5 430.5,208.5 439.5,208.5 444.5,210.5 448.5,214.5 451.5,219.5 457.5,224.5 460.5,224.5 463.5,221.5 466.5,213.5 476.5,203.5 476.5,201.5 477.5,200.5 477.5,182.5 479.5,178.5 489.5,169.5 493.5,161.5 503.5,152.5 505.5,148.5 505.5,145.5 506.5,144.5 506.5,133.5 505.5,132.5 505.5,129.5 504.5,127.5ZM744.5,68.5 737.5,68.5 733.5,70.5 729.5,75.5 726.5,81.5 715.5,92.5 713.5,97.5 713.5,110.5 714.5,111.5 714.5,115.5 715.5,116.5 715.5,128.5 712.5,134.5 708.5,137.5 701.5,145.5 701.5,150.5 700.5,151.5 700.5,167.5 699.5,168.5 699.5,179.5 700.5,180.5 700.5,182.5 704.5,188.5 709.5,192.5 717.5,192.5 721.5,190.5 725.5,186.5 725.5,184.5 727.5,180.5 727.5,166.5 726.5,165.5 726.5,160.5 725.5,159.5 725.5,148.5 727.5,143.5 732.5,139.5 736.5,139.5 740.5,142.5 744.5,151.5 753.5,160.5 757.5,171.5 762.5,175.5 768.5,175.5 768.5,87.5 764.5,87.5 759.5,85.5 755.5,80.5 751.5,72.5 747.5,69.5 745.5,69.5ZM548.5,81.5 549.5,83.5 554.5,87.5 567.5,87.5 569.5,88.5 575.5,94.5 577.5,98.5 582.5,103.5 588.5,106.5 592.5,106.5 599.5,100.5 604.5,91.5 610.5,87.5 655.5,86.5 656.5,85.5 663.5,85.5 664.5,86.5 669.5,86.5 670.5,87.5 677.5,87.5 678.5,86.5 680.5,86.5 684.5,81.5 686.5,74.5 691.5,69.5 704.5,69.5 705.5,68.5 707.5,68.5 711.5,64.5 713.5,59.5 713.5,52.5 590.5,52.5 589.5,62.5 585.5,68.5 581.5,70.5 574.5,70.5 573.5,69.5 564.5,68.5 563.5,67.5 554.5,68.5 549.5,72.5 549.5,74.5 548.5,75.5ZM366.5,52.5 326.5,52.5 326.5,93.5 327.5,94.5 328.5,99.5 332.5,103.5 334.5,104.5 345.5,104.5 349.5,102.5 352.5,97.5 352.5,95.5 354.5,91.5 359.5,86.5 362.5,85.5 365.5,82.5 366.5,77.5 367.5,76.5 367.5,61.5 366.5,60.5Z" fill="#ff9a00" fill-rule="evenodd"/>
<path d="M476.5,277.5 471.5,278.5 453.5,298.5 451.5,307.5 454.5,313.5 459.5,315.5 466.5,315.5 467.5,314.5 472.5,313.5 475.5,310.5 477.5,305.5 477.5,297.5 478.5,296.5 478.5,280.5ZM659.5,238.5 656.5,239.5 649.5,246.5 649.5,247.5 643.5,253.5 640.5,259.5 640.5,263.5 643.5,270.5 647.5,274.5 647.5,275.5 655.5,282.5 659.5,282.5 661.5,281.5 670.5,272.5 674.5,265.5 674.5,262.5 675.5,261.5 674.5,256.5 667.5,246.5 666.5,243.5 662.5,239.5 660.5,239.5ZM768.5,120.5 761.5,121.5 759.5,122.5 756.5,126.5 755.5,134.5 756.5,136.5 760.5,139.5 768.5,139.5ZM630.5,52.5 630.5,59.5 631.5,60.5 631.5,63.5 634.5,68.5 639.5,70.5 663.5,70.5 664.5,69.5 667.5,69.5 671.5,64.5 671.5,52.5Z" fill="#ff7010" fill-rule="evenodd"/>
<clipPath id="hclipA"><path d="M768.5,453.5 734.5,453.5 730.5,456.5 726.5,464.5 721.5,469.5 705.5,471.5 700.5,478.5 700.5,486.5 768.5,486.5ZM451.5,486.5 519.5,486.5 519.5,478.5 524.5,471.5 528.5,469.5 539.5,469.5 543.5,467.5 545.5,464.5 547.5,457.5 546.5,442.5 541.5,436.5 537.5,435.5 488.5,435.5 484.5,436.5 480.5,440.5 478.5,445.5 473.5,451.5 467.5,453.5 458.5,453.5 454.5,455.5 451.5,460.5ZM382.5,442.5 382.5,448.5 381.5,449.5 382.5,462.5 389.5,469.5 428.5,469.5 432.5,467.5 435.5,463.5 436.5,460.5 436.5,445.5 434.5,440.5 430.5,436.5 427.5,435.5 391.5,435.5 387.5,436.5ZM236.5,401.5 231.5,405.5 229.5,410.5 229.5,442.5 230.5,445.5 235.5,451.5 251.5,453.5 255.5,457.5 259.5,465.5 261.5,467.5 265.5,467.5 267.5,466.5 273.5,455.5 283.5,445.5 284.5,440.5 283.5,425.5 281.5,421.5 272.5,413.5 268.5,405.5 265.5,402.5 259.5,400.5 240.5,400.5ZM77.5,366.5 77.5,486.5 145.5,486.5 146.5,476.5 157.5,465.5 160.5,458.5 167.5,452.5 205.5,452.5 212.5,448.5 214.5,444.5 214.5,390.5 209.5,384.5 207.5,383.5 182.5,383.5 179.5,384.5 176.5,387.5 172.5,395.5 168.5,399.5 152.5,401.5 148.5,405.5 146.5,410.5 146.5,426.5 145.5,429.5 134.5,440.5 130.5,448.5 128.5,450.5 124.5,451.5 119.5,447.5 116.5,440.5 107.5,432.5 104.5,427.5 103.5,407.5 91.5,394.5 90.5,391.5 90.5,375.5 88.5,370.5 83.5,366.5ZM625.5,348.5 621.5,350.5 617.5,356.5 617.5,374.5 619.5,378.5 628.5,386.5 631.5,395.5 631.5,486.5 657.5,486.5 657.5,481.5 660.5,473.5 669.5,465.5 671.5,461.5 671.5,356.5 669.5,352.5 663.5,348.5ZM106.5,354.5 106.5,359.5 111.5,364.5 116.5,365.5 125.5,364.5 130.5,359.5 129.5,352.5 126.5,349.5 123.5,348.5 110.5,349.5ZM199.5,336.5 194.5,331.5 181.5,331.5 176.5,335.5 174.5,339.5 174.5,347.5 173.5,348.5 155.5,348.5 152.5,349.5 147.5,355.5 148.5,360.5 153.5,364.5 158.5,365.5 166.5,364.5 172.5,358.5 173.5,348.5 174.5,347.5 193.5,347.5 197.5,345.5 199.5,342.5ZM359.5,315.5 355.5,319.5 355.5,324.5 357.5,327.5 361.5,328.5 365.5,325.5 365.5,318.5 363.5,316.5ZM77.5,313.5 77.5,330.5 84.5,329.5 88.5,325.5 89.5,320.5 84.5,314.5ZM106.5,302.5 106.5,307.5 112.5,312.5 138.5,312.5 144.5,306.5 143.5,300.5 138.5,296.5 112.5,296.5ZM304.5,262.5 300.5,266.5 298.5,273.5 299.5,288.5 304.5,294.5 317.5,295.5 321.5,293.5 325.5,287.5 325.5,269.5 320.5,262.5 317.5,261.5ZM77.5,174.5 77.5,243.5 85.5,244.5 89.5,248.5 92.5,255.5 96.5,259.5 110.5,260.5 117.5,253.5 117.5,247.5 118.5,246.5 117.5,216.5 115.5,212.5 110.5,209.5 100.5,209.5 95.5,207.5 92.5,204.5 90.5,200.5 89.5,180.5 86.5,176.5 82.5,174.5ZM271.5,52.5 271.5,95.5 274.5,101.5 283.5,109.5 283.5,116.5 274.5,124.5 271.5,130.5 271.5,148.5 273.5,152.5 282.5,160.5 283.5,168.5 278.5,173.5 262.5,175.5 257.5,181.5 255.5,186.5 244.5,197.5 243.5,201.5 243.5,251.5 245.5,256.5 254.5,264.5 256.5,268.5 256.5,271.5 249.5,278.5 241.5,278.5 234.5,280.5 231.5,283.5 229.5,289.5 229.5,320.5 233.5,328.5 242.5,336.5 245.5,343.5 255.5,352.5 258.5,359.5 262.5,363.5 264.5,363.5 268.5,360.5 271.5,353.5 282.5,342.5 282.5,336.5 272.5,326.5 271.5,319.5 281.5,309.5 284.5,301.5 284.5,273.5 283.5,268.5 280.5,263.5 271.5,255.5 270.5,252.5 270.5,234.5 272.5,230.5 281.5,222.5 286.5,212.5 296.5,203.5 298.5,181.5 306.5,173.5 373.5,173.5 381.5,181.5 382.5,201.5 392.5,211.5 395.5,216.5 395.5,322.5 393.5,326.5 384.5,334.5 382.5,338.5 382.5,344.5 381.5,345.5 383.5,360.5 388.5,364.5 393.5,365.5 480.5,365.5 487.5,363.5 494.5,351.5 498.5,348.5 501.5,347.5 524.5,347.5 527.5,348.5 533.5,355.5 535.5,377.5 539.5,381.5 542.5,382.5 552.5,382.5 555.5,381.5 560.5,375.5 560.5,338.5 558.5,334.5 548.5,325.5 547.5,322.5 547.5,303.5 550.5,298.5 559.5,290.5 562.5,283.5 566.5,279.5 573.5,277.5 618.5,277.5 623.5,278.5 629.5,283.5 632.5,290.5 641.5,298.5 647.5,309.5 651.5,312.5 692.5,312.5 697.5,308.5 700.5,301.5 711.5,290.5 713.5,284.5 713.5,269.5 714.5,266.5 719.5,261.5 722.5,260.5 732.5,260.5 735.5,261.5 740.5,266.5 741.5,269.5 741.5,287.5 740.5,290.5 730.5,299.5 728.5,303.5 727.5,323.5 715.5,336.5 715.5,342.5 721.5,347.5 733.5,347.5 739.5,342.5 742.5,335.5 748.5,330.5 768.5,330.5 768.5,52.5ZM229.5,52.5 229.5,58.5 231.5,64.5 235.5,67.5 238.5,66.5 241.5,63.5 242.5,60.5 242.5,52.5Z" clip-rule="evenodd"/></clipPath>
<path d="M80.4,50.0L-285.9,489.5M93.5,50.0L-272.8,489.5M106.6,50.0L-259.7,489.5M119.7,50.0L-246.6,489.5M132.8,50.0L-233.5,489.5M145.9,50.0L-220.4,489.5M159.0,50.0L-207.3,489.5M172.1,50.0L-194.2,489.5M185.2,50.0L-181.1,489.5M198.3,50.0L-168.0,489.5M211.4,50.0L-154.9,489.5M224.5,50.0L-141.8,489.5M237.6,50.0L-128.7,489.5M250.7,50.0L-115.6,489.5M263.8,50.0L-102.5,489.5M276.9,50.0L-89.4,489.5M290.0,50.0L-76.3,489.5M303.1,50.0L-63.2,489.5M316.2,50.0L-50.1,489.5M329.3,50.0L-37.0,489.5M342.4,50.0L-23.9,489.5M355.5,50.0L-10.8,489.5M368.6,50.0L2.3,489.5M381.7,50.0L15.4,489.5M394.8,50.0L28.5,489.5M407.9,50.0L41.6,489.5M421.0,50.0L54.7,489.5M434.1,50.0L67.8,489.5M447.2,50.0L80.9,489.5M460.3,50.0L94.0,489.5M473.4,50.0L107.1,489.5M486.5,50.0L120.2,489.5M499.6,50.0L133.3,489.5M512.7,50.0L146.4,489.5M525.8,50.0L159.5,489.5M538.9,50.0L172.6,489.5M552.0,50.0L185.7,489.5M565.1,50.0L198.8,489.5M578.2,50.0L211.9,489.5M591.3,50.0L225.0,489.5M604.4,50.0L238.1,489.5M617.5,50.0L251.2,489.5M630.6,50.0L264.3,489.5M643.7,50.0L277.4,489.5M656.8,50.0L290.5,489.5M669.9,50.0L303.6,489.5M683.0,50.0L316.7,489.5M696.1,50.0L329.8,489.5M709.2,50.0L342.9,489.5M722.3,50.0L356.0,489.5M735.4,50.0L369.1,489.5M748.5,50.0L382.2,489.5M761.6,50.0L395.3,489.5M774.7,50.0L408.4,489.5M787.8,50.0L421.5,489.5M800.9,50.0L434.6,489.5M814.0,50.0L447.7,489.5M827.1,50.0L460.8,489.5M840.2,50.0L473.9,489.5M853.3,50.0L487.0,489.5M866.4,50.0L500.1,489.5M879.5,50.0L513.2,489.5M892.6,50.0L526.3,489.5M905.7,50.0L539.4,489.5M918.8,50.0L552.5,489.5M931.9,50.0L565.6,489.5M945.0,50.0L578.7,489.5M958.1,50.0L591.8,489.5M971.2,50.0L604.9,489.5M984.3,50.0L618.0,489.5M997.4,50.0L631.1,489.5M1010.5,50.0L644.2,489.5M1023.6,50.0L657.3,489.5M1036.7,50.0L670.4,489.5M1049.8,50.0L683.5,489.5M1062.9,50.0L696.6,489.5M1076.0,50.0L709.7,489.5M1089.1,50.0L722.8,489.5M1102.2,50.0L735.9,489.5M1115.3,50.0L749.0,489.5M1128.4,50.0L762.1,489.5" clip-path="url(#hclipA)" stroke="#000" stroke-width="2.3" stroke-opacity="0.52" fill="none"/>
<path d="M70.1,43.3 L75.6,187.9 L82.5,186.1 L86.7,182.7 L93.6,180.9 L97.8,173.9 L103.3,170.5 L108.8,170.5 L117.1,177.4 L125.4,177.4 L135.1,170.5 L147.6,163.5 L154.5,154.8 L164.2,144.3 L176.6,132.1 L185.0,121.7 L191.9,111.2 L196.0,100.8 L204.3,88.6 L214.0,79.9 L219.6,71.2 L222.3,60.7 L223.7,51.1 Z" fill="#ffffff" stroke="none"/>
<path d="M75.6,187.9 L82.5,186.1 L86.7,182.7 L93.6,180.9 L97.8,173.9 L103.3,170.5 L108.8,170.5 L117.1,177.4 L125.4,177.4 L135.1,170.5 L147.6,163.5 L154.5,154.8 L164.2,144.3 L176.6,132.1 L185.0,121.7 L191.9,111.2 L196.0,100.8 L204.3,88.6 L214.0,79.9 L219.6,71.2 L222.3,60.7 L223.7,51.1" fill="none" stroke="#a9a9c4" stroke-width="1.2" stroke-linejoin="round"/>
<path d="M244.5,51.1 L244.5,65.9 L243.8,81.6 L242.4,95.6 L241.0,111.2 L242.4,122.6 L247.2,116.5 L251.4,110.4 L256.9,109.5 L261.1,114.7 L263.8,120.8 L265.9,114.7 L262.5,106.0 L256.9,95.6 L253.5,81.6 L258.3,69.4 L268.0,65.9 L274.9,69.4 L280.4,74.6 L276.3,64.2 L273.5,55.5 L272.1,51.1 Z" fill="#ffffff" stroke="none"/>
<path d="M244.5,51.1 L244.5,65.9 L243.8,81.6 L242.4,95.6 L241.0,111.2 L242.4,122.6 L247.2,116.5 L251.4,110.4 L256.9,109.5 L261.1,114.7 L263.8,120.8 L265.9,114.7 L262.5,106.0 L256.9,95.6 L253.5,81.6 L258.3,69.4 L268.0,65.9 L274.9,69.4 L280.4,74.6 L276.3,64.2 L273.5,55.5 L272.1,51.1" fill="none" stroke="#a9a9c4" stroke-width="1.2" stroke-linejoin="round"/>
<path d="M89.5,331.6 L103.3,331.6 L110.2,325.5 L122.7,322.9 L135.1,318.5 L146.2,319.4 L150.4,320.3 L147.6,330.7 L140.7,326.4 L128.2,325.5 L118.5,329.0 L114.4,332.5 L104.7,341.2 L100.5,337.7 L93.6,337.7 Z" fill="#ffffff" stroke="none"/>
<path d="M242.4,130.4 L250.0,139.1 L259.7,151.3 L270.8,155.6 L281.8,157.4 L288.8,151.3 L286.0,160.9 L289.4,164.4 L295.7,167.3 L288.8,170.5 L279.1,174.8 L268.0,180.9 L261.1,188.7 L260.4,192.6 L251.4,187.9 L241.7,181.8 L234.8,181.8 L229.2,185.3 L225.1,181.8 L220.9,186.1 L227.9,191.4 L231.3,194.8 L225.1,195.7 L218.2,201.8 L215.4,198.3 L215.4,187.9 L212.6,180.9 L220.9,175.7 L220.9,167.8 L229.2,170.5 L234.8,168.7 L237.5,158.3 L238.2,149.6 L239.6,135.6 L242.4,130.4 Z" fill="#ffffff" stroke="#a9a9c4" stroke-width="1.2" stroke-linejoin="round"/>
<path d="M220.2,204.4 L227.9,207.9 L227.9,200.1 L235.5,201.3 L234.8,215.7 L241.7,226.2 L243.8,234.9 L237.5,250.6 L236.2,255.8 L229.2,257.6 L229.2,269.8 L227.9,280.2 L223.7,290.7 L227.2,301.1 L219.6,311.6 L213.3,315.0 L212.6,304.6 L210.6,310.7 L205.7,308.1 L201.6,314.2 L199.5,320.3 L196.0,312.4 L190.5,320.3 L180.8,319.4 L173.9,320.3 L171.8,314.2 L168.3,320.3 L172.5,325.5 L164.2,332.5 L156.6,340.3 L147.6,332.5 L150.4,320.3 L146.2,319.4 L135.1,318.5 L122.7,322.9 L110.2,325.5 L103.3,331.6 L89.5,331.6 L90.8,324.6 L99.1,319.4 L111.6,307.2 L122.7,303.7 L136.5,302.8 L150.4,300.2 L155.9,304.6 L160.0,300.2 L161.4,291.5 L169.7,281.9 L169.7,275.0 L178.0,269.8 L173.9,278.5 L178.0,282.8 L185.0,278.5 L194.6,271.5 L202.9,261.0 L208.5,250.6 L214.0,234.9 L211.2,227.1 L215.4,219.2 L214.0,214.0 L219.6,205.3 L220.2,204.4 Z" fill="#ffffff" stroke="#a9a9c4" stroke-width="1.2" stroke-linejoin="round"/>
<path d="M140.7,326.4 L142.7,333.3 L134.4,343.8 L126.8,339.4 L121.3,342.9 L117.8,353.0 L111.6,348.1 L104.7,342.0 L114.4,332.5 L118.5,329.0 L128.2,325.5 L135.1,325.5 L140.7,326.4 Z" fill="#ffffff" stroke="#a9a9c4" stroke-width="1.2" stroke-linejoin="round"/>
<path d="M75.6,337.7 L82.5,336.8 L89.5,331.6 L93.6,337.7 L100.5,337.7 L99.1,343.8 L103.3,349.9 L99.1,360.3 L97.1,367.3 L95.7,376.0 L90.1,381.2 L86.0,383.0 L85.3,374.3 L79.8,377.8 L79.8,365.6 L82.5,356.8 L78.4,358.6 L75.6,353.4 L75.6,342.9 Z" fill="#ffffff" stroke="#a9a9c4" stroke-width="1.2" stroke-linejoin="round"/>
<path d="M291.5,163.5 L298.4,156.5 L306.7,148.7 L305.4,153.0 L297.1,160.0 L292.9,165.2 Z" fill="#ffffff" stroke="#a9a9c4" stroke-width="1.2" stroke-linejoin="round"/>
<path d="M310.9,146.9 L319.2,138.2 L328.9,133.0 L337.9,129.5 L337.2,135.6 L327.5,141.7 L317.8,148.7 Z" fill="#ffffff" stroke="#a9a9c4" stroke-width="1.2" stroke-linejoin="round"/>
<path d="M345.5,124.3 L352.4,119.1 L360.7,116.5 L360.7,120.8 L352.4,126.0 L346.9,127.8 Z" fill="#ffffff" stroke="#a9a9c4" stroke-width="1.2" stroke-linejoin="round"/>
<path d="M306.7,160.9 L310.9,159.1 L309.5,161.7 Z" fill="#ffffff" stroke="#a9a9c4" stroke-width="1.2" stroke-linejoin="round"/>
</g>
<rect x="77.0" y="52.0" width="692.0" height="435.5" fill="none" stroke="#a8a8a8" stroke-width="1.5"/>
<text x="67.3" y="64.2" text-anchor="end" font-family="Liberation Sans, Arial, sans-serif" font-size="29.3" fill="#262626">50°N</text>
<line x1="77.0" y1="52.0" x2="82.0" y2="52.0" stroke="#888" stroke-width="1"/>
<text x="67.3" y="151.3" text-anchor="end" font-family="Liberation Sans, Arial, sans-serif" font-size="29.3" fill="#262626">45°N</text>
<line x1="77.0" y1="139.1" x2="82.0" y2="139.1" stroke="#888" stroke-width="1"/>
<text x="67.3" y="238.4" text-anchor="end" font-family="Liberation Sans, Arial, sans-serif" font-size="29.3" fill="#262626">40°N</text>
<line x1="77.0" y1="226.2" x2="82.0" y2="226.2" stroke="#888" stroke-width="1"/>
<text x="67.3" y="325.5" text-anchor="end" font-family="Liberation Sans, Arial, sans-serif" font-size="29.3" fill="#262626">35°N</text>
<line x1="77.0" y1="313.3" x2="82.0" y2="313.3" stroke="#888" stroke-width="1"/>
<text x="67.3" y="412.6" text-anchor="end" font-family="Liberation Sans, Arial, sans-serif" font-size="29.3" fill="#262626">30°N</text>
<line x1="77.0" y1="400.4" x2="82.0" y2="400.4" stroke="#888" stroke-width="1"/>
<text x="67.3" y="499.7" text-anchor="end" font-family="Liberation Sans, Arial, sans-serif" font-size="29.3" fill="#262626">25°N</text>
<line x1="77.0" y1="487.5" x2="82.0" y2="487.5" stroke="#888" stroke-width="1"/>
<line x1="215.4" y1="487.5" x2="215.4" y2="482.5" stroke="#888" stroke-width="1"/>
<line x1="353.8" y1="487.5" x2="353.8" y2="482.5" stroke="#888" stroke-width="1"/>
<line x1="492.2" y1="487.5" x2="492.2" y2="482.5" stroke="#888" stroke-width="1"/>
<line x1="630.6" y1="487.5" x2="630.6" y2="482.5" stroke="#888" stroke-width="1"/>
<text x="78.0" y="518.1" text-anchor="middle" font-family="Liberation Sans, Arial, sans-serif" font-size="29.3" fill="#262626">130°E</text>
<text x="216.4" y="518.1" text-anchor="middle" font-family="Liberation Sans, Arial, sans-serif" font-size="29.3" fill="#262626">140°E</text>
<text x="354.8" y="518.1" text-anchor="middle" font-family="Liberation Sans, Arial, sans-serif" font-size="29.3" fill="#262626">150°E</text>
<text x="493.2" y="518.1" text-anchor="middle" font-family="Liberation Sans, Arial, sans-serif" font-size="29.3" fill="#262626">160°E</text>
<text x="631.6" y="518.1" text-anchor="middle" font-family="Liberation Sans, Arial, sans-serif" font-size="29.3" fill="#262626">170°E</text>
<text x="735.5" y="518.1" font-family="Liberation Sans, Arial, sans-serif" font-size="29.3" fill="#262626">180°</text>
<rect x="775.5" y="465.73" width="12.5" height="22.07" fill="#7a30e0"/>
<rect x="775.5" y="443.95" width="12.5" height="22.07" fill="#3a10f0"/>
<rect x="775.5" y="422.18" width="12.5" height="22.07" fill="#1a1af0"/>
<rect x="775.5" y="400.40" width="12.5" height="22.07" fill="#2e60d8"/>
<rect x="775.5" y="378.62" width="12.5" height="22.07" fill="#2a78e0"/>
<rect x="775.5" y="356.85" width="12.5" height="22.07" fill="#1c90e8"/>
<rect x="775.5" y="335.08" width="12.5" height="22.07" fill="#14a6ec"/>
<rect x="775.5" y="313.30" width="12.5" height="22.07" fill="#40b4ee"/>
<rect x="775.5" y="291.52" width="12.5" height="22.07" fill="#92c8ec"/>
<rect x="775.5" y="269.75" width="12.5" height="22.07" fill="#b2e0f4"/>
<rect x="775.5" y="247.98" width="12.5" height="22.07" fill="#fff594"/>
<rect x="775.5" y="226.20" width="12.5" height="22.07" fill="#ffdc30"/>
<rect x="775.5" y="204.43" width="12.5" height="22.07" fill="#ffc000"/>
<rect x="775.5" y="182.65" width="12.5" height="22.07" fill="#ff9a00"/>
<rect x="775.5" y="160.88" width="12.5" height="22.07" fill="#ff7010"/>
<rect x="775.5" y="139.10" width="12.5" height="22.07" fill="#ff4010"/>
<rect x="775.5" y="117.33" width="12.5" height="22.07" fill="#f80808"/>
<rect x="775.5" y="95.55" width="12.5" height="22.07" fill="#d0000c"/>
<rect x="775.5" y="73.78" width="12.5" height="22.07" fill="#d83040"/>
<rect x="775.5" y="52.00" width="12.5" height="22.07" fill="#f4a8b4"/>
<rect x="775.5" y="52.0" width="12.5" height="435.5" fill="none" stroke="#c8c8c8" stroke-width="0.8"/>
<text x="794" y="62.5" font-family="Liberation Sans, Arial, sans-serif" font-size="26" fill="#262626">1</text>
<text x="794" y="171.4" font-family="Liberation Sans, Arial, sans-serif" font-size="26" fill="#262626">0.5</text>
<text x="794" y="280.2" font-family="Liberation Sans, Arial, sans-serif" font-size="26" fill="#262626">0</text>
<text x="794" y="389.1" font-family="Liberation Sans, Arial, sans-serif" font-size="26" fill="#262626">-0.5</text>
<text x="794" y="498.0" font-family="Liberation Sans, Arial, sans-serif" font-size="26" fill="#262626">-1</text>
<text x="5" y="557.1" font-family="Liberation Sans, Arial, sans-serif" font-weight="bold" font-size="33" fill="#000">C</text>
<text x="63" y="559.8" font-family="Liberation Serif, Times New Roman, serif" font-size="44" fill="#000">10-30 d CORR, winter 08/09</text>
<clipPath id="clipC"><rect x="77.0" y="579.3" width="692.0" height="435.5"/></clipPath>
<g clip-path="url(#clipC)">
<rect x="77.0" y="579.3" width="692.0" height="435.5" fill="#2a78e0"/>
<path d="M189.5,759.8 187.5,764.8 180.5,771.8 171.5,776.8 168.5,776.8 167.5,777.8 161.5,777.8 160.5,776.8 155.5,775.8 152.5,773.8 138.5,774.8 136.5,772.8 136.5,769.8 139.5,767.8 146.5,767.8 147.5,768.8 150.5,768.8 155.5,764.8 163.5,760.8 166.5,760.8 167.5,759.8 171.5,759.8 172.5,758.8 176.5,758.8 177.5,757.8 183.5,757.8 184.5,756.8 186.5,756.8ZM77.5,579.8 77.5,1014.8 151.5,1014.8 152.5,1011.8 166.5,999.8 168.5,994.8 168.5,990.8 169.5,989.8 169.5,983.8 171.5,978.8 174.5,975.8 180.5,975.8 184.5,977.8 188.5,983.8 187.5,990.8 178.5,1000.8 175.5,1006.8 175.5,1014.8 768.5,1014.8 768.5,579.8Z" fill="#1c90e8" fill-rule="evenodd"/>
<path d="M259.5,978.8 263.5,978.8 268.5,984.8 268.5,993.8 265.5,997.8 260.5,997.8 255.5,991.8 255.5,983.8ZM226.5,945.8 228.5,945.8 231.5,949.8 231.5,955.8 230.5,956.8 228.5,956.8 225.5,953.8 224.5,948.8ZM212.5,903.8 218.5,896.8 223.5,896.8 231.5,903.8 231.5,906.8 229.5,909.8 223.5,912.8 219.5,912.8 212.5,906.8ZM578.5,889.8 579.5,888.8 581.5,888.8 585.5,890.8 588.5,893.8 588.5,895.8 587.5,896.8 582.5,895.8 578.5,891.8ZM175.5,885.8 178.5,886.8 180.5,888.8 184.5,899.8 184.5,903.8 182.5,908.8 180.5,911.8 176.5,914.8 173.5,912.8 171.5,908.8 170.5,900.8 169.5,899.8 169.5,891.8 170.5,889.8ZM335.5,872.8 338.5,869.8 344.5,869.8 345.5,870.8 347.5,870.8 351.5,874.8 351.5,875.8 348.5,879.8 343.5,880.8 338.5,878.8 336.5,876.8ZM508.5,868.8 512.5,869.8 515.5,872.8 515.5,876.8 511.5,881.8 506.5,881.8 504.5,879.8 504.5,877.8 503.5,876.8 504.5,871.8ZM685.5,866.8 688.5,863.8 691.5,863.8 694.5,867.8 691.5,870.8 688.5,870.8ZM664.5,853.8 670.5,859.8 670.5,865.8 659.5,876.8 656.5,883.8 655.5,890.8 652.5,893.8 646.5,893.8 642.5,890.8 640.5,886.8 639.5,876.8 638.5,875.8 639.5,871.8 641.5,868.8 651.5,861.8 658.5,854.8 660.5,853.8ZM366.5,830.8 370.5,831.8 373.5,835.8 373.5,845.8 371.5,849.8 368.5,852.8 365.5,852.8 363.5,849.8 363.5,845.8 362.5,844.8 362.5,836.8 363.5,835.8 363.5,833.8ZM160.5,818.8 162.5,817.8 164.5,819.8 162.5,821.8ZM283.5,800.8 287.5,800.8 291.5,805.8 290.5,810.8 285.5,814.8 283.5,814.8 279.5,809.8 280.5,803.8ZM252.5,782.8 254.5,782.8 257.5,785.8 257.5,787.8 258.5,788.8 258.5,794.8 256.5,798.8 253.5,801.8 249.5,798.8 249.5,786.8ZM242.5,736.8 244.5,736.8 246.5,738.8 246.5,741.8 244.5,743.8 240.5,741.8 240.5,738.8ZM237.5,681.8 237.5,680.8 241.5,677.8 244.5,677.8 245.5,678.8 242.5,682.8 238.5,682.8ZM218.5,660.8 227.5,674.8 232.5,680.8 227.5,684.8 219.5,686.8 217.5,688.8 216.5,693.8 215.5,694.8 215.5,700.8 214.5,701.8 215.5,709.8 223.5,719.8 225.5,724.8 225.5,727.8 229.5,737.8 229.5,741.8 225.5,746.8 220.5,757.8 220.5,759.8 218.5,761.8 215.5,762.8 209.5,758.8 203.5,758.8 200.5,760.8 189.5,772.8 183.5,776.8 181.5,776.8 178.5,778.8 176.5,778.8 172.5,780.8 169.5,780.8 168.5,781.8 156.5,782.8 155.5,783.8 147.5,783.8 146.5,782.8 137.5,781.8 125.5,776.8 122.5,773.8 121.5,770.8 132.5,760.8 137.5,758.8 157.5,758.8 158.5,757.8 163.5,757.8 164.5,756.8 171.5,755.8 181.5,751.8 192.5,741.8 198.5,731.8 198.5,723.8 194.5,717.8 187.5,710.8 187.5,705.8 189.5,702.8 207.5,684.8 210.5,682.8 212.5,678.8 212.5,671.8 213.5,670.8 213.5,664.8 214.5,663.8 214.5,661.8 216.5,659.8ZM77.5,579.8 77.5,1014.8 140.5,1014.8 141.5,1013.8 141.5,1010.8 144.5,1006.8 156.5,1002.8 161.5,998.8 164.5,993.8 164.5,990.8 165.5,989.8 165.5,979.8 164.5,978.8 164.5,975.8 158.5,966.8 158.5,964.8 157.5,963.8 157.5,960.8 160.5,956.8 164.5,956.8 168.5,958.8 173.5,963.8 177.5,965.8 183.5,966.8 188.5,968.8 192.5,972.8 201.5,986.8 201.5,990.8 199.5,993.8 188.5,1005.8 186.5,1010.8 186.5,1014.8 768.5,1014.8 768.5,579.8Z" fill="#14a6ec" fill-rule="evenodd"/>
<path d="M212.5,999.8 210.5,999.8 203.5,1002.8 199.5,1008.8 199.5,1012.8 198.5,1014.8 216.5,1014.8 215.5,1012.8 215.5,1003.8ZM567.5,934.8 571.5,934.8 575.5,939.8 575.5,949.8 570.5,955.8 567.5,955.8 565.5,953.8 563.5,948.8 563.5,941.8 565.5,936.8ZM615.5,929.8 616.5,928.8 620.5,928.8 627.5,932.8 636.5,939.8 645.5,941.8 648.5,944.8 648.5,947.8 649.5,948.8 647.5,955.8 642.5,959.8 636.5,959.8 631.5,957.8 623.5,948.8 615.5,932.8ZM95.5,926.8 96.5,925.8 97.5,927.8 96.5,928.8ZM611.5,927.8 611.5,929.8 606.5,934.8 600.5,937.8 595.5,937.8 591.5,933.8 591.5,928.8 592.5,926.8 595.5,923.8 600.5,921.8 607.5,923.8ZM569.5,886.8 574.5,881.8 582.5,881.8 583.5,882.8 588.5,883.8 591.5,885.8 601.5,886.8 604.5,888.8 604.5,893.8 600.5,902.8 595.5,907.8 588.5,908.8 583.5,906.8 579.5,903.8 571.5,895.8 569.5,891.8ZM175.5,880.8 180.5,880.8 182.5,882.8 183.5,886.8 185.5,889.8 185.5,891.8 190.5,900.8 190.5,905.8 186.5,911.8 181.5,923.8 179.5,925.8 176.5,925.8 170.5,920.8 166.5,913.8 166.5,911.8 164.5,907.8 164.5,904.8 163.5,903.8 163.5,893.8 165.5,888.8 169.5,883.8ZM186.5,861.8 189.5,858.8 190.5,859.8 193.5,859.8 198.5,861.8 200.5,863.8 200.5,865.8 197.5,868.8 190.5,869.8 187.5,867.8 186.5,865.8ZM441.5,849.8 441.5,847.8 445.5,845.8 451.5,845.8 452.5,846.8 452.5,848.8 448.5,851.8 444.5,851.8ZM664.5,843.8 670.5,848.8 673.5,853.8 678.5,858.8 690.5,858.8 691.5,859.8 693.5,859.8 698.5,863.8 699.5,867.8 698.5,868.8 698.5,870.8 692.5,875.8 688.5,875.8 687.5,874.8 682.5,873.8 679.5,871.8 674.5,871.8 670.5,873.8 663.5,881.8 663.5,887.8 667.5,895.8 667.5,901.8 663.5,906.8 653.5,909.8 652.5,908.8 650.5,908.8 639.5,899.8 636.5,892.8 636.5,888.8 635.5,887.8 635.5,883.8 634.5,882.8 633.5,877.8 629.5,871.8 629.5,866.8 633.5,863.8 638.5,862.8 644.5,859.8 657.5,845.8 660.5,843.8ZM497.5,841.8 499.5,841.8 500.5,842.8 501.5,854.8 504.5,861.8 508.5,863.8 516.5,865.8 520.5,870.8 520.5,874.8 519.5,875.8 518.5,880.8 513.5,885.8 511.5,885.8 510.5,886.8 505.5,886.8 503.5,885.8 500.5,882.8 498.5,878.8 498.5,876.8 495.5,871.8 490.5,870.8 489.5,869.8 482.5,869.8 478.5,867.8 478.5,864.8 480.5,861.8 488.5,854.8 493.5,845.8ZM272.5,834.8 274.5,834.8 278.5,838.8 281.5,843.8 281.5,848.8 279.5,850.8 271.5,850.8 268.5,846.8 268.5,840.8 269.5,839.8 269.5,837.8ZM370.5,824.8 375.5,829.8 377.5,833.8 377.5,835.8 378.5,836.8 377.5,845.8 373.5,856.8 365.5,867.8 359.5,880.8 354.5,885.8 341.5,885.8 334.5,882.8 329.5,876.8 329.5,867.8 330.5,865.8 336.5,860.8 338.5,861.8 342.5,861.8 343.5,862.8 351.5,862.8 355.5,859.8 358.5,851.8 358.5,829.8 363.5,823.8 368.5,823.8ZM321.5,822.8 321.5,816.8 326.5,812.8 336.5,812.8 337.5,813.8 339.5,813.8 341.5,816.8 341.5,818.8 338.5,823.8 332.5,828.8 327.5,828.8 325.5,827.8ZM665.5,806.8 666.5,806.8 670.5,811.8 670.5,818.8 669.5,820.8 666.5,822.8 662.5,817.8 662.5,811.8 663.5,810.8 663.5,808.8ZM147.5,810.8 152.5,806.8 157.5,806.8 162.5,808.8 169.5,814.8 172.5,820.8 172.5,826.8 168.5,829.8 164.5,829.8 163.5,830.8 159.5,830.8 157.5,829.8 153.5,825.8 146.5,814.8ZM542.5,798.8 546.5,793.8 556.5,793.8 557.5,792.8 566.5,791.8 571.5,795.8 574.5,801.8 578.5,804.8 591.5,805.8 599.5,809.8 612.5,812.8 617.5,816.8 617.5,820.8 616.5,821.8 608.5,821.8 599.5,817.8 594.5,817.8 593.5,816.8 590.5,816.8 589.5,817.8 580.5,816.8 576.5,814.8 572.5,810.8 568.5,809.8 567.5,810.8 564.5,810.8 560.5,814.8 560.5,816.8 559.5,817.8 559.5,823.8 556.5,827.8 553.5,827.8 545.5,820.8 543.5,816.8 543.5,814.8 542.5,813.8ZM449.5,783.8 452.5,784.8 455.5,787.8 459.5,789.8 466.5,797.8 466.5,801.8 465.5,802.8 465.5,805.8 464.5,806.8 463.5,811.8 461.5,814.8 461.5,816.8 457.5,820.8 449.5,816.8 441.5,808.8 435.5,799.8 435.5,795.8ZM257.5,773.8 259.5,775.8 262.5,782.8 262.5,785.8 263.5,786.8 263.5,793.8 260.5,800.8 253.5,807.8 251.5,807.8 247.5,803.8 247.5,800.8 246.5,799.8 246.5,786.8 247.5,785.8 247.5,782.8 249.5,777.8 253.5,773.8ZM405.5,785.8 402.5,791.8 399.5,794.8 397.5,795.8 391.5,795.8 390.5,794.8 384.5,793.8 378.5,789.8 369.5,785.8 356.5,784.8 354.5,783.8 352.5,780.8 354.5,777.8 358.5,775.8 363.5,775.8 364.5,774.8 381.5,774.8 382.5,773.8 388.5,772.8 391.5,770.8 397.5,770.8 403.5,775.8 405.5,779.8ZM286.5,765.8 300.5,779.8 303.5,784.8 303.5,790.8 298.5,797.8 297.5,805.8 296.5,806.8 295.5,811.8 289.5,817.8 279.5,820.8 276.5,817.8 275.5,812.8 274.5,811.8 274.5,801.8 273.5,800.8 273.5,793.8 272.5,792.8 272.5,777.8 273.5,776.8 274.5,771.8 280.5,765.8ZM670.5,750.8 673.5,750.8 676.5,754.8 676.5,758.8 673.5,764.8 670.5,764.8 669.5,763.8 668.5,758.8 667.5,757.8 667.5,754.8ZM378.5,747.8 379.5,746.8 383.5,746.8 386.5,749.8 386.5,751.8 384.5,753.8 381.5,753.8 378.5,750.8ZM164.5,718.8 165.5,721.8 163.5,725.8 158.5,729.8 153.5,731.8 150.5,731.8 149.5,732.8 147.5,732.8 144.5,729.8 146.5,725.8 154.5,717.8 159.5,715.8 160.5,716.8 162.5,716.8ZM251.5,675.8 251.5,680.8 249.5,684.8 243.5,690.8 241.5,694.8 241.5,712.8 237.5,716.8 234.5,717.8 232.5,719.8 232.5,722.8 231.5,723.8 232.5,727.8 234.5,729.8 238.5,729.8 244.5,726.8 246.5,727.8 249.5,731.8 251.5,743.8 250.5,744.8 250.5,746.8 247.5,749.8 244.5,749.8 240.5,747.8 232.5,747.8 227.5,751.8 224.5,757.8 223.5,762.8 219.5,768.8 216.5,769.8 208.5,765.8 204.5,765.8 202.5,766.8 190.5,779.8 186.5,781.8 177.5,782.8 176.5,783.8 172.5,783.8 171.5,784.8 167.5,784.8 166.5,785.8 161.5,786.8 158.5,788.8 156.5,788.8 153.5,790.8 148.5,789.8 137.5,784.8 134.5,784.8 127.5,781.8 117.5,779.8 112.5,776.8 110.5,773.8 110.5,768.8 112.5,765.8 117.5,761.8 128.5,756.8 135.5,751.8 142.5,750.8 143.5,751.8 145.5,751.8 149.5,753.8 153.5,753.8 154.5,754.8 167.5,753.8 168.5,752.8 173.5,751.8 178.5,748.8 186.5,740.8 190.5,732.8 190.5,725.8 188.5,721.8 185.5,718.8 178.5,714.8 175.5,711.8 174.5,709.8 174.5,704.8 180.5,697.8 184.5,695.8 199.5,680.8 201.5,676.8 201.5,672.8 196.5,665.8 196.5,661.8 197.5,659.8 201.5,655.8 206.5,652.8 213.5,644.8 215.5,643.8 219.5,643.8 222.5,646.8 224.5,660.8 227.5,666.8 232.5,671.8 234.5,671.8 235.5,672.8 247.5,671.8ZM390.5,616.8 394.5,618.8 398.5,624.8 397.5,655.8 395.5,660.8 386.5,669.8 384.5,673.8 381.5,676.8 379.5,676.8 378.5,677.8 373.5,677.8 372.5,676.8 370.5,676.8 366.5,672.8 364.5,662.8 365.5,661.8 365.5,659.8 374.5,650.8 377.5,645.8 377.5,643.8 378.5,642.8 378.5,624.8 380.5,619.8 385.5,616.8ZM77.5,579.8 77.5,1014.8 105.5,1014.8 105.5,1006.8 106.5,1005.8 106.5,1003.8 108.5,1000.8 111.5,998.8 113.5,998.8 118.5,1003.8 120.5,1008.8 120.5,1014.8 132.5,1014.8 132.5,1008.8 137.5,1002.8 139.5,1001.8 147.5,1001.8 148.5,1000.8 152.5,1000.8 156.5,998.8 160.5,994.8 162.5,989.8 162.5,982.8 159.5,975.8 153.5,968.8 150.5,962.8 150.5,959.8 145.5,947.8 145.5,941.8 147.5,939.8 152.5,940.8 159.5,947.8 165.5,950.8 170.5,951.8 179.5,957.8 188.5,959.8 193.5,964.8 198.5,973.8 211.5,985.8 216.5,993.8 218.5,994.8 224.5,993.8 229.5,988.8 231.5,983.8 231.5,971.8 229.5,967.8 225.5,963.8 222.5,958.8 218.5,938.8 214.5,930.8 212.5,920.8 203.5,905.8 204.5,901.8 219.5,888.8 223.5,889.8 231.5,896.8 242.5,901.8 246.5,905.8 246.5,908.8 242.5,912.8 238.5,914.8 236.5,914.8 230.5,918.8 227.5,922.8 227.5,929.8 229.5,933.8 236.5,942.8 238.5,946.8 238.5,948.8 240.5,951.8 240.5,953.8 244.5,959.8 250.5,961.8 251.5,960.8 253.5,960.8 255.5,957.8 255.5,955.8 256.5,954.8 255.5,932.8 257.5,927.8 259.5,925.8 263.5,926.8 274.5,938.8 274.5,940.8 275.5,941.8 275.5,947.8 274.5,948.8 273.5,958.8 272.5,959.8 272.5,969.8 273.5,970.8 274.5,981.8 275.5,982.8 274.5,1014.8 507.5,1014.8 508.5,1005.8 513.5,994.8 515.5,992.8 518.5,986.8 523.5,970.8 534.5,958.8 536.5,958.8 537.5,957.8 539.5,958.8 542.5,962.8 542.5,964.8 544.5,968.8 544.5,971.8 549.5,983.8 549.5,986.8 547.5,990.8 537.5,1000.8 535.5,1004.8 534.5,1014.8 768.5,1014.8 768.5,579.8Z" fill="#40b4ee" fill-rule="evenodd"/>
<path d="M726.5,982.8 730.5,982.8 732.5,983.8 735.5,987.8 735.5,989.8 736.5,990.8 735.5,991.8 735.5,993.8 731.5,997.8 728.5,997.8 723.5,991.8 723.5,985.8ZM489.5,972.8 490.5,970.8 495.5,966.8 500.5,966.8 504.5,970.8 504.5,973.8 499.5,977.8 494.5,977.8 492.5,976.8ZM573.5,928.8 578.5,933.8 578.5,935.8 579.5,936.8 579.5,948.8 578.5,949.8 577.5,954.8 571.5,960.8 566.5,961.8 561.5,956.8 561.5,953.8 560.5,952.8 560.5,939.8 561.5,938.8 561.5,935.8 565.5,929.8 567.5,928.8ZM93.5,917.8 98.5,917.8 101.5,920.8 101.5,924.8 102.5,925.8 101.5,927.8 101.5,932.8 98.5,936.8 95.5,936.8 91.5,932.8 91.5,930.8 90.5,929.8 90.5,920.8ZM194.5,910.8 190.5,913.8 187.5,918.8 187.5,921.8 186.5,922.8 186.5,942.8 187.5,943.8 187.5,945.8 191.5,951.8 198.5,967.8 201.5,971.8 207.5,976.8 212.5,978.8 214.5,980.8 216.5,980.8 217.5,981.8 222.5,981.8 224.5,979.8 224.5,976.8 225.5,975.8 224.5,974.8 224.5,970.8 220.5,962.8 217.5,946.8 215.5,943.8 215.5,941.8 209.5,934.8 207.5,930.8 206.5,921.8 204.5,916.8 202.5,913.8 198.5,910.8ZM115.5,900.8 120.5,896.8 124.5,896.8 127.5,898.8 127.5,902.8 124.5,904.8 118.5,904.8ZM389.5,886.8 393.5,881.8 395.5,880.8 400.5,880.8 404.5,884.8 406.5,888.8 406.5,890.8 411.5,896.8 415.5,897.8 422.5,901.8 422.5,905.8 417.5,909.8 408.5,909.8 397.5,904.8 389.5,895.8ZM209.5,871.8 203.5,871.8 202.5,872.8 194.5,873.8 189.5,875.8 186.5,879.8 186.5,884.8 187.5,885.8 188.5,890.8 194.5,897.8 196.5,897.8 197.5,898.8 198.5,897.8 201.5,897.8 206.5,894.8 212.5,888.8 215.5,881.8 215.5,878.8 214.5,877.8 214.5,875.8ZM105.5,828.8 111.5,828.8 115.5,830.8 119.5,836.8 119.5,838.8 120.5,839.8 120.5,846.8 116.5,851.8 112.5,851.8 109.5,848.8 101.5,834.8 101.5,832.8ZM502.5,824.8 509.5,825.8 515.5,830.8 515.5,833.8 507.5,840.8 505.5,844.8 505.5,853.8 506.5,854.8 506.5,856.8 511.5,860.8 521.5,862.8 524.5,866.8 524.5,874.8 520.5,883.8 514.5,888.8 512.5,888.8 511.5,889.8 506.5,889.8 505.5,890.8 501.5,889.8 497.5,885.8 494.5,878.8 489.5,874.8 480.5,874.8 470.5,880.8 466.5,879.8 464.5,876.8 464.5,872.8 467.5,864.8 471.5,860.8 480.5,855.8 487.5,848.8 494.5,831.8 498.5,826.8ZM367.5,817.8 369.5,818.8 379.5,829.8 381.5,833.8 381.5,840.8 380.5,841.8 380.5,844.8 379.5,845.8 379.5,848.8 377.5,852.8 376.5,858.8 363.5,885.8 358.5,890.8 349.5,890.8 348.5,889.8 344.5,889.8 343.5,888.8 340.5,888.8 339.5,887.8 336.5,887.8 331.5,885.8 326.5,880.8 325.5,875.8 324.5,874.8 324.5,869.8 328.5,860.8 330.5,857.8 335.5,853.8 339.5,854.8 342.5,856.8 349.5,856.8 353.5,852.8 353.5,850.8 354.5,849.8 354.5,827.8 353.5,826.8 353.5,819.8 356.5,817.8ZM350.5,808.8 352.5,813.8 352.5,818.8 345.5,822.8 336.5,831.8 335.5,833.8 331.5,835.8 327.5,834.8 325.5,832.8 319.5,829.8 316.5,825.8 316.5,823.8 315.5,822.8 315.5,816.8 316.5,815.8 316.5,812.8 319.5,809.8 321.5,808.8 335.5,809.8 336.5,808.8 340.5,808.8 344.5,806.8 348.5,806.8ZM539.5,790.8 542.5,787.8 557.5,788.8 558.5,787.8 562.5,787.8 563.5,786.8 570.5,786.8 574.5,789.8 576.5,793.8 581.5,798.8 586.5,799.8 587.5,800.8 591.5,800.8 605.5,807.8 617.5,807.8 620.5,803.8 622.5,793.8 626.5,790.8 630.5,792.8 638.5,801.8 640.5,806.8 640.5,814.8 638.5,818.8 630.5,826.8 627.5,832.8 624.5,834.8 619.5,833.8 614.5,828.8 604.5,823.8 602.5,823.8 598.5,821.8 594.5,821.8 593.5,820.8 570.5,820.8 568.5,821.8 565.5,831.8 562.5,834.8 556.5,834.8 549.5,831.8 540.5,821.8 540.5,819.8 539.5,818.8 539.5,813.8 538.5,812.8 538.5,798.8 539.5,797.8ZM457.5,752.8 464.5,758.8 466.5,762.8 465.5,779.8 473.5,789.8 475.5,793.8 475.5,800.8 474.5,801.8 474.5,803.8 466.5,819.8 466.5,822.8 464.5,827.8 464.5,831.8 463.5,832.8 463.5,836.8 462.5,837.8 461.5,848.8 459.5,852.8 454.5,855.8 441.5,855.8 440.5,854.8 435.5,854.8 434.5,853.8 426.5,853.8 420.5,856.8 415.5,856.8 412.5,853.8 408.5,843.8 399.5,833.8 399.5,828.8 404.5,822.8 408.5,827.8 408.5,830.8 409.5,831.8 409.5,834.8 411.5,839.8 417.5,843.8 423.5,844.8 424.5,845.8 431.5,845.8 432.5,844.8 443.5,842.8 451.5,838.8 454.5,833.8 454.5,828.8 450.5,821.8 448.5,820.8 428.5,799.8 427.5,794.8 438.5,784.8 441.5,778.8 443.5,770.8 448.5,760.8 454.5,753.8ZM725.5,756.8 725.5,753.8 731.5,748.8 735.5,748.8 739.5,751.8 739.5,754.8 736.5,757.8 734.5,757.8 733.5,758.8 727.5,758.8ZM675.5,744.8 680.5,750.8 680.5,752.8 681.5,753.8 681.5,762.8 680.5,763.8 680.5,768.8 679.5,769.8 678.5,774.8 674.5,780.8 670.5,790.8 671.5,798.8 672.5,799.8 672.5,801.8 675.5,808.8 676.5,815.8 677.5,816.8 677.5,823.8 676.5,824.8 676.5,827.8 674.5,832.8 674.5,843.8 678.5,851.8 682.5,854.8 691.5,855.8 692.5,856.8 697.5,857.8 702.5,863.8 702.5,869.8 700.5,873.8 694.5,878.8 684.5,878.8 683.5,877.8 677.5,876.8 672.5,878.8 669.5,881.8 668.5,885.8 669.5,886.8 669.5,889.8 672.5,897.8 672.5,902.8 671.5,903.8 671.5,905.8 667.5,909.8 660.5,913.8 657.5,917.8 657.5,919.8 656.5,920.8 657.5,936.8 655.5,940.8 652.5,956.8 650.5,960.8 645.5,965.8 640.5,966.8 639.5,967.8 636.5,967.8 629.5,964.8 624.5,959.8 616.5,943.8 613.5,940.8 611.5,939.8 605.5,939.8 604.5,940.8 600.5,940.8 599.5,941.8 594.5,941.8 593.5,940.8 591.5,940.8 587.5,937.8 585.5,933.8 587.5,919.8 586.5,917.8 567.5,897.8 566.5,892.8 565.5,891.8 565.5,887.8 567.5,882.8 570.5,879.8 574.5,877.8 581.5,877.8 592.5,881.8 600.5,881.8 601.5,880.8 609.5,879.8 612.5,882.8 612.5,888.8 607.5,901.8 607.5,909.8 608.5,911.8 614.5,916.8 622.5,920.8 628.5,926.8 635.5,931.8 642.5,931.8 645.5,929.8 646.5,927.8 646.5,917.8 643.5,911.8 635.5,902.8 630.5,881.8 627.5,877.8 626.5,877.8 621.5,872.8 620.5,867.8 623.5,861.8 627.5,858.8 636.5,857.8 641.5,855.8 648.5,848.8 650.5,844.8 652.5,837.8 656.5,830.8 656.5,826.8 657.5,825.8 657.5,812.8 658.5,811.8 658.5,804.8 659.5,803.8 659.5,798.8 660.5,797.8 659.5,779.8 660.5,778.8 660.5,775.8 662.5,770.8 662.5,754.8 663.5,753.8 664.5,748.8 667.5,745.8 669.5,744.8ZM375.5,741.8 378.5,741.8 379.5,740.8 387.5,741.8 394.5,747.8 396.5,752.8 397.5,759.8 404.5,768.8 409.5,777.8 409.5,779.8 410.5,780.8 410.5,786.8 404.5,799.8 401.5,801.8 397.5,801.8 389.5,798.8 380.5,797.8 367.5,790.8 357.5,790.8 356.5,791.8 351.5,792.8 348.5,790.8 344.5,783.8 343.5,776.8 345.5,773.8 349.5,771.8 369.5,769.8 374.5,767.8 377.5,764.8 377.5,760.8 372.5,751.8 372.5,744.8ZM291.5,735.8 295.5,739.8 296.5,744.8 297.5,745.8 296.5,747.8 295.5,760.8 298.5,767.8 306.5,775.8 310.5,781.8 310.5,783.8 311.5,784.8 311.5,795.8 310.5,797.8 303.5,803.8 298.5,813.8 293.5,818.8 283.5,823.8 280.5,827.8 280.5,834.8 287.5,847.8 287.5,851.8 285.5,853.8 283.5,853.8 282.5,854.8 276.5,854.8 275.5,855.8 270.5,856.8 268.5,858.8 265.5,866.8 264.5,867.8 262.5,867.8 257.5,857.8 254.5,855.8 248.5,849.8 248.5,848.8 251.5,844.8 260.5,842.8 262.5,840.8 263.5,836.8 266.5,831.8 266.5,829.8 269.5,825.8 269.5,823.8 270.5,822.8 270.5,818.8 271.5,817.8 270.5,807.8 267.5,802.8 264.5,802.8 254.5,811.8 249.5,811.8 246.5,808.8 245.5,806.8 245.5,802.8 244.5,801.8 244.5,785.8 245.5,784.8 245.5,780.8 248.5,774.8 248.5,772.8 252.5,764.8 254.5,762.8 257.5,762.8 260.5,764.8 266.5,765.8 273.5,761.8 282.5,751.8 284.5,741.8 286.5,737.8 288.5,735.8ZM541.5,732.8 543.5,732.8 545.5,734.8 544.5,737.8 542.5,739.8 540.5,737.8 540.5,733.8ZM342.5,726.8 346.5,722.8 351.5,722.8 357.5,727.8 357.5,729.8 353.5,733.8 346.5,734.8 342.5,731.8ZM184.5,727.8 180.5,723.8 176.5,723.8 164.5,732.8 154.5,737.8 150.5,741.8 150.5,746.8 154.5,749.8 156.5,749.8 157.5,750.8 166.5,750.8 173.5,747.8 176.5,745.8 181.5,739.8 184.5,733.8ZM287.5,654.8 290.5,651.8 294.5,651.8 301.5,657.8 303.5,662.8 302.5,670.8 301.5,671.8 301.5,681.8 302.5,683.8 311.5,691.8 318.5,695.8 323.5,695.8 333.5,687.8 340.5,687.8 348.5,690.8 350.5,692.8 349.5,696.8 344.5,701.8 331.5,705.8 323.5,711.8 321.5,711.8 317.5,713.8 304.5,714.8 300.5,712.8 296.5,706.8 296.5,688.8 295.5,686.8 287.5,679.8 284.5,671.8 284.5,663.8 285.5,662.8 285.5,658.8ZM450.5,651.8 451.5,650.8 452.5,652.8 451.5,653.8ZM236.5,628.8 239.5,624.8 246.5,624.8 249.5,627.8 249.5,629.8 247.5,631.8 239.5,631.8ZM376.5,608.8 395.5,608.8 396.5,609.8 398.5,609.8 404.5,614.8 405.5,619.8 406.5,620.8 406.5,643.8 407.5,644.8 407.5,655.8 406.5,656.8 406.5,660.8 402.5,669.8 393.5,678.8 390.5,684.8 387.5,686.8 377.5,682.8 369.5,681.8 365.5,679.8 362.5,675.8 361.5,670.8 358.5,664.8 355.5,661.8 353.5,660.8 341.5,660.8 340.5,661.8 334.5,661.8 329.5,657.8 328.5,652.8 327.5,651.8 327.5,649.8 328.5,648.8 328.5,643.8 332.5,638.8 335.5,638.8 338.5,642.8 348.5,651.8 350.5,651.8 351.5,652.8 358.5,652.8 362.5,650.8 369.5,642.8 369.5,640.8 370.5,639.8 370.5,620.8 369.5,619.8 369.5,617.8 370.5,616.8 370.5,613.8ZM294.5,597.8 298.5,600.8 299.5,605.8 298.5,606.8 298.5,608.8 294.5,618.8 294.5,621.8 291.5,628.8 289.5,630.8 286.5,630.8 282.5,626.8 280.5,622.8 280.5,620.8 279.5,619.8 279.5,609.8 281.5,604.8 285.5,599.8 288.5,597.8ZM77.5,579.8 77.5,714.8 84.5,714.8 85.5,713.8 89.5,713.8 90.5,712.8 95.5,716.8 95.5,718.8 96.5,719.8 95.5,723.8 91.5,727.8 83.5,730.8 77.5,730.8 77.5,1014.8 99.5,1014.8 99.5,1005.8 100.5,1004.8 100.5,1001.8 107.5,984.8 108.5,972.8 110.5,967.8 112.5,965.8 114.5,965.8 118.5,970.8 118.5,972.8 119.5,973.8 119.5,980.8 120.5,981.8 120.5,987.8 121.5,988.8 121.5,990.8 124.5,994.8 129.5,996.8 130.5,995.8 137.5,995.8 138.5,996.8 142.5,996.8 143.5,997.8 152.5,997.8 154.5,996.8 159.5,990.8 159.5,982.8 157.5,978.8 149.5,969.8 139.5,949.8 129.5,940.8 128.5,937.8 133.5,931.8 135.5,931.8 136.5,930.8 142.5,930.8 143.5,931.8 148.5,931.8 153.5,933.8 161.5,942.8 166.5,945.8 173.5,945.8 175.5,944.8 176.5,942.8 176.5,936.8 175.5,935.8 175.5,933.8 171.5,927.8 166.5,922.8 162.5,914.8 162.5,912.8 159.5,906.8 157.5,904.8 156.5,899.8 163.5,885.8 168.5,880.8 178.5,875.8 181.5,872.8 181.5,869.8 182.5,868.8 182.5,861.8 181.5,860.8 181.5,853.8 180.5,852.8 180.5,849.8 175.5,837.8 171.5,834.8 165.5,833.8 164.5,834.8 159.5,835.8 156.5,838.8 152.5,852.8 151.5,853.8 149.5,853.8 147.5,850.8 147.5,845.8 148.5,844.8 148.5,841.8 150.5,836.8 149.5,828.8 143.5,821.8 139.5,819.8 136.5,816.8 136.5,812.8 137.5,810.8 144.5,803.8 146.5,799.8 145.5,794.8 138.5,788.8 136.5,788.8 129.5,785.8 126.5,785.8 125.5,784.8 116.5,783.8 111.5,781.8 106.5,777.8 104.5,774.8 103.5,769.8 104.5,768.8 104.5,765.8 110.5,758.8 116.5,754.8 123.5,751.8 128.5,747.8 130.5,743.8 130.5,739.8 128.5,734.8 129.5,730.8 133.5,726.8 143.5,721.8 153.5,711.8 159.5,708.8 164.5,703.8 167.5,696.8 179.5,684.8 181.5,679.8 188.5,670.8 192.5,657.8 199.5,650.8 204.5,647.8 211.5,639.8 215.5,637.8 223.5,637.8 226.5,640.8 226.5,655.8 227.5,656.8 227.5,659.8 231.5,666.8 234.5,668.8 249.5,668.8 254.5,674.8 254.5,680.8 253.5,681.8 253.5,683.8 250.5,689.8 248.5,691.8 246.5,696.8 246.5,703.8 247.5,704.8 248.5,715.8 249.5,716.8 249.5,720.8 250.5,721.8 250.5,725.8 251.5,726.8 251.5,730.8 252.5,731.8 252.5,735.8 253.5,736.8 253.5,752.8 250.5,755.8 239.5,750.8 233.5,750.8 229.5,753.8 226.5,759.8 223.5,770.8 220.5,773.8 216.5,774.8 210.5,771.8 204.5,771.8 199.5,776.8 197.5,781.8 197.5,788.8 202.5,799.8 202.5,810.8 200.5,815.8 197.5,818.8 194.5,818.8 190.5,813.8 189.5,794.8 187.5,790.8 184.5,788.8 182.5,788.8 181.5,787.8 170.5,787.8 169.5,788.8 166.5,788.8 161.5,791.8 159.5,794.8 159.5,799.8 160.5,801.8 172.5,812.8 176.5,820.8 184.5,830.8 188.5,849.8 195.5,855.8 203.5,856.8 207.5,858.8 215.5,866.8 216.5,866.8 221.5,871.8 224.5,883.8 230.5,891.8 240.5,896.8 249.5,897.8 250.5,898.8 255.5,899.8 260.5,904.8 271.5,925.8 281.5,934.8 283.5,938.8 283.5,944.8 282.5,945.8 282.5,950.8 281.5,951.8 282.5,985.8 281.5,986.8 281.5,992.8 280.5,993.8 279.5,1014.8 500.5,1014.8 501.5,1006.8 506.5,997.8 506.5,995.8 509.5,988.8 510.5,981.8 512.5,977.8 522.5,962.8 526.5,958.8 530.5,952.8 534.5,949.8 538.5,949.8 540.5,950.8 545.5,955.8 547.5,959.8 549.5,967.8 552.5,973.8 557.5,979.8 558.5,984.8 559.5,985.8 558.5,986.8 558.5,989.8 546.5,1002.8 544.5,1007.8 544.5,1013.8 543.5,1014.8 768.5,1014.8 768.5,881.8 764.5,881.8 762.5,880.8 759.5,877.8 759.5,875.8 758.5,874.8 758.5,865.8 759.5,864.8 759.5,862.8 764.5,858.8 768.5,858.8 768.5,579.8 473.5,579.8 473.5,595.8 470.5,598.8 469.5,598.8 465.5,594.8 460.5,587.8 458.5,579.8Z" fill="#92c8ec" fill-rule="evenodd"/>
<path d="M722.5,975.8 725.5,975.8 730.5,977.8 733.5,979.8 739.5,986.8 739.5,995.8 737.5,999.8 734.5,1002.8 730.5,1004.8 725.5,1004.8 721.5,1000.8 718.5,993.8 718.5,980.8ZM194.5,917.8 191.5,920.8 191.5,922.8 190.5,923.8 190.5,930.8 191.5,931.8 192.5,938.8 194.5,942.8 195.5,951.8 196.5,952.8 196.5,955.8 197.5,956.8 198.5,961.8 201.5,966.8 205.5,970.8 211.5,973.8 215.5,973.8 217.5,972.8 218.5,970.8 218.5,963.8 217.5,962.8 217.5,956.8 216.5,955.8 216.5,951.8 215.5,950.8 214.5,945.8 212.5,942.8 203.5,934.8 200.5,919.8 198.5,917.8ZM91.5,912.8 97.5,912.8 98.5,913.8 100.5,913.8 104.5,918.8 104.5,929.8 103.5,930.8 103.5,934.8 99.5,940.8 94.5,940.8 90.5,936.8 87.5,928.8 87.5,925.8 86.5,924.8 86.5,916.8ZM491.5,900.8 493.5,900.8 495.5,903.8 495.5,911.8 493.5,913.8 492.5,913.8 488.5,908.8 488.5,904.8ZM109.5,900.8 110.5,899.8 110.5,897.8 113.5,894.8 118.5,892.8 133.5,892.8 136.5,896.8 135.5,902.8 128.5,908.8 114.5,908.8 110.5,905.8ZM620.5,882.8 618.5,884.8 613.5,896.8 613.5,900.8 612.5,901.8 613.5,906.8 616.5,910.8 625.5,915.8 632.5,922.8 634.5,923.8 638.5,923.8 639.5,922.8 639.5,916.8 631.5,904.8 628.5,887.8 624.5,882.8ZM382.5,888.8 384.5,883.8 389.5,878.8 396.5,875.8 402.5,875.8 405.5,878.8 409.5,888.8 413.5,892.8 415.5,893.8 423.5,893.8 429.5,888.8 434.5,887.8 439.5,891.8 440.5,893.8 440.5,899.8 425.5,915.8 423.5,915.8 422.5,916.8 401.5,915.8 400.5,914.8 396.5,914.8 391.5,912.8 387.5,912.8 386.5,911.8 384.5,911.8 382.5,909.8ZM205.5,876.8 196.5,876.8 191.5,879.8 190.5,881.8 190.5,887.8 194.5,892.8 196.5,893.8 200.5,893.8 204.5,891.8 208.5,887.8 209.5,885.8 209.5,880.8 208.5,878.8ZM347.5,829.8 344.5,830.8 340.5,834.8 338.5,839.8 338.5,844.8 343.5,850.8 347.5,850.8 350.5,847.8 350.5,844.8 351.5,843.8 350.5,833.8ZM100.5,825.8 102.5,824.8 118.5,824.8 122.5,828.8 122.5,830.8 123.5,831.8 123.5,836.8 124.5,837.8 124.5,847.8 122.5,852.8 118.5,856.8 113.5,856.8 111.5,855.8 108.5,852.8 105.5,846.8 96.5,834.8 96.5,829.8ZM168.5,792.8 165.5,795.8 166.5,800.8 173.5,807.8 173.5,808.8 180.5,816.8 183.5,816.8 185.5,811.8 185.5,804.8 184.5,803.8 184.5,799.8 182.5,795.8 180.5,793.8 175.5,791.8ZM500.5,770.8 504.5,765.8 508.5,764.8 517.5,770.8 520.5,771.8 522.5,773.8 527.5,775.8 529.5,777.8 538.5,781.8 541.5,781.8 542.5,782.8 545.5,782.8 550.5,784.8 557.5,784.8 558.5,783.8 561.5,783.8 566.5,781.8 575.5,781.8 579.5,785.8 581.5,790.8 585.5,794.8 590.5,795.8 596.5,798.8 601.5,802.8 606.5,804.8 613.5,804.8 616.5,801.8 617.5,796.8 618.5,795.8 618.5,788.8 617.5,787.8 617.5,785.8 619.5,782.8 623.5,782.8 638.5,793.8 643.5,799.8 645.5,804.8 645.5,809.8 646.5,810.8 646.5,819.8 645.5,820.8 645.5,822.8 641.5,826.8 638.5,827.8 634.5,831.8 632.5,835.8 626.5,841.8 621.5,841.8 610.5,830.8 603.5,826.8 601.5,826.8 597.5,824.8 593.5,824.8 592.5,823.8 577.5,824.8 572.5,827.8 568.5,841.8 567.5,842.8 563.5,842.8 561.5,840.8 544.5,832.8 540.5,829.8 537.5,825.8 537.5,823.8 536.5,822.8 536.5,796.8 535.5,795.8 535.5,791.8 533.5,787.8 530.5,784.8 528.5,784.8 527.5,783.8 512.5,783.8 508.5,781.8 501.5,774.8ZM234.5,753.8 230.5,756.8 226.5,766.8 225.5,772.8 221.5,777.8 219.5,778.8 206.5,777.8 204.5,779.8 204.5,782.8 203.5,783.8 204.5,784.8 204.5,788.8 206.5,793.8 206.5,799.8 207.5,800.8 206.5,819.8 205.5,820.8 205.5,823.8 203.5,826.8 198.5,827.8 197.5,828.8 193.5,828.8 191.5,830.8 191.5,832.8 190.5,833.8 190.5,841.8 191.5,842.8 192.5,847.8 195.5,850.8 197.5,851.8 206.5,851.8 208.5,852.8 214.5,858.8 222.5,863.8 225.5,866.8 227.5,871.8 227.5,879.8 228.5,880.8 228.5,883.8 235.5,891.8 240.5,892.8 241.5,893.8 249.5,893.8 254.5,891.8 257.5,888.8 258.5,883.8 259.5,882.8 259.5,874.8 258.5,873.8 258.5,868.8 257.5,867.8 256.5,862.8 253.5,858.8 249.5,856.8 245.5,852.8 244.5,850.8 244.5,845.8 248.5,841.8 256.5,838.8 259.5,835.8 262.5,829.8 263.5,824.8 265.5,821.8 266.5,814.8 264.5,811.8 262.5,811.8 256.5,815.8 251.5,816.8 250.5,815.8 248.5,815.8 244.5,811.8 243.5,809.8 243.5,799.8 242.5,798.8 242.5,787.8 243.5,786.8 243.5,779.8 247.5,769.8 248.5,762.8 247.5,761.8 247.5,759.8 242.5,754.8 240.5,753.8ZM743.5,743.8 747.5,748.8 747.5,757.8 746.5,759.8 740.5,763.8 737.5,763.8 736.5,764.8 733.5,764.8 730.5,766.8 728.5,766.8 720.5,772.8 718.5,772.8 716.5,770.8 716.5,768.8 717.5,767.8 717.5,758.8 718.5,757.8 718.5,753.8 720.5,748.8 725.5,743.8 727.5,743.8 728.5,742.8 734.5,742.8 735.5,741.8 737.5,741.8 738.5,742.8ZM174.5,737.8 172.5,735.8 167.5,736.8 161.5,739.8 159.5,743.8 161.5,745.8 168.5,745.8 172.5,742.8ZM622.5,732.8 625.5,735.8 625.5,743.8 622.5,748.8 620.5,749.8 616.5,749.8 612.5,745.8 612.5,743.8 614.5,739.8ZM548.5,721.8 551.5,725.8 551.5,735.8 549.5,740.8 546.5,744.8 544.5,745.8 540.5,745.8 535.5,739.8 535.5,732.8 537.5,727.8 541.5,723.8ZM460.5,636.8 466.5,640.8 467.5,644.8 461.5,656.8 461.5,659.8 460.5,660.8 459.5,665.8 456.5,668.8 452.5,669.8 446.5,666.8 442.5,661.8 442.5,659.8 441.5,658.8 441.5,649.8 443.5,644.8 449.5,638.8 453.5,636.8ZM411.5,602.8 411.5,604.8 412.5,605.8 412.5,610.8 413.5,611.8 413.5,643.8 414.5,644.8 414.5,654.8 413.5,655.8 412.5,661.8 407.5,671.8 397.5,683.8 394.5,689.8 390.5,693.8 386.5,694.8 379.5,688.8 372.5,685.8 359.5,685.8 358.5,684.8 358.5,674.8 357.5,673.8 357.5,671.8 352.5,665.8 350.5,665.8 349.5,664.8 342.5,664.8 341.5,665.8 338.5,665.8 337.5,666.8 329.5,668.8 324.5,664.8 322.5,659.8 323.5,650.8 324.5,649.8 324.5,645.8 325.5,644.8 326.5,638.8 330.5,632.8 332.5,631.8 335.5,632.8 339.5,636.8 341.5,640.8 346.5,645.8 348.5,645.8 349.5,646.8 356.5,646.8 362.5,641.8 364.5,636.8 364.5,627.8 363.5,626.8 363.5,621.8 362.5,620.8 362.5,609.8 367.5,603.8 373.5,602.8 374.5,601.8 388.5,601.8 389.5,600.8 397.5,599.8 401.5,597.8 406.5,597.8ZM300.5,579.8 300.5,585.8 304.5,592.8 311.5,600.8 312.5,604.8 309.5,607.8 305.5,609.8 300.5,614.8 298.5,618.8 296.5,628.8 295.5,629.8 295.5,635.8 294.5,636.8 295.5,641.8 297.5,645.8 310.5,658.8 312.5,662.8 311.5,677.8 313.5,681.8 316.5,684.8 320.5,685.8 327.5,680.8 333.5,680.8 341.5,684.8 345.5,684.8 346.5,685.8 357.5,685.8 358.5,686.8 358.5,690.8 355.5,696.8 342.5,710.8 342.5,713.8 345.5,715.8 347.5,715.8 350.5,717.8 352.5,717.8 356.5,719.8 362.5,726.8 362.5,733.8 358.5,737.8 350.5,739.8 344.5,742.8 339.5,742.8 336.5,739.8 336.5,736.8 335.5,735.8 335.5,718.8 333.5,716.8 321.5,716.8 320.5,717.8 312.5,718.8 309.5,720.8 307.5,720.8 302.5,724.8 301.5,726.8 301.5,734.8 302.5,735.8 302.5,740.8 303.5,741.8 302.5,761.8 304.5,765.8 312.5,773.8 316.5,780.8 316.5,791.8 317.5,792.8 317.5,798.8 319.5,802.8 327.5,806.8 335.5,806.8 341.5,803.8 344.5,798.8 344.5,792.8 340.5,783.8 333.5,774.8 333.5,770.8 335.5,767.8 340.5,764.8 344.5,764.8 345.5,765.8 349.5,765.8 350.5,766.8 364.5,766.8 365.5,765.8 367.5,765.8 370.5,762.8 370.5,755.8 368.5,751.8 368.5,746.8 367.5,745.8 368.5,741.8 372.5,738.8 376.5,738.8 377.5,737.8 385.5,737.8 386.5,738.8 390.5,738.8 397.5,742.8 400.5,746.8 402.5,751.8 402.5,755.8 403.5,756.8 404.5,761.8 410.5,772.8 412.5,774.8 415.5,782.8 415.5,790.8 410.5,799.8 410.5,802.8 409.5,803.8 409.5,813.8 410.5,814.8 410.5,818.8 411.5,819.8 411.5,822.8 412.5,823.8 412.5,826.8 413.5,827.8 414.5,832.8 419.5,838.8 427.5,841.8 435.5,841.8 436.5,840.8 443.5,839.8 445.5,838.8 450.5,832.8 449.5,825.8 434.5,809.8 428.5,805.8 422.5,799.8 421.5,797.8 421.5,792.8 423.5,789.8 432.5,784.8 436.5,779.8 437.5,772.8 438.5,771.8 439.5,761.8 449.5,741.8 455.5,735.8 457.5,734.8 461.5,734.8 463.5,736.8 464.5,742.8 468.5,749.8 476.5,756.8 477.5,758.8 477.5,777.8 479.5,780.8 479.5,782.8 481.5,785.8 481.5,788.8 482.5,789.8 482.5,802.8 481.5,803.8 481.5,806.8 472.5,820.8 472.5,822.8 470.5,826.8 470.5,829.8 469.5,830.8 469.5,833.8 468.5,834.8 467.5,848.8 470.5,852.8 474.5,852.8 479.5,850.8 483.5,846.8 485.5,842.8 490.5,822.8 496.5,817.8 500.5,817.8 501.5,818.8 506.5,819.8 517.5,825.8 523.5,832.8 523.5,836.8 521.5,838.8 516.5,839.8 512.5,841.8 509.5,844.8 508.5,846.8 508.5,851.8 510.5,855.8 514.5,857.8 524.5,856.8 528.5,861.8 528.5,863.8 529.5,864.8 529.5,871.8 528.5,872.8 528.5,875.8 527.5,876.8 526.5,881.8 521.5,888.8 514.5,891.8 511.5,891.8 510.5,892.8 507.5,892.8 503.5,894.8 497.5,895.8 494.5,891.8 494.5,888.8 493.5,887.8 492.5,882.8 488.5,878.8 482.5,878.8 470.5,886.8 465.5,886.8 463.5,885.8 459.5,881.8 459.5,864.8 458.5,862.8 454.5,859.8 444.5,858.8 443.5,857.8 429.5,857.8 424.5,859.8 418.5,863.8 413.5,863.8 410.5,861.8 403.5,847.8 393.5,835.8 393.5,830.8 399.5,818.8 399.5,809.8 398.5,807.8 395.5,804.8 391.5,802.8 388.5,802.8 387.5,801.8 376.5,801.8 375.5,800.8 373.5,800.8 370.5,797.8 366.5,795.8 359.5,795.8 356.5,798.8 356.5,804.8 357.5,806.8 362.5,810.8 365.5,810.8 370.5,812.8 385.5,832.8 385.5,838.8 381.5,847.8 381.5,850.8 380.5,851.8 377.5,866.8 376.5,867.8 373.5,878.8 369.5,886.8 368.5,891.8 364.5,896.8 359.5,897.8 340.5,890.8 336.5,890.8 335.5,889.8 328.5,888.8 322.5,883.8 320.5,879.8 319.5,871.8 320.5,870.8 320.5,867.8 329.5,851.8 330.5,845.8 329.5,844.8 329.5,842.8 323.5,836.8 319.5,834.8 313.5,833.8 310.5,831.8 309.5,829.8 310.5,813.8 308.5,810.8 306.5,810.8 299.5,818.8 287.5,824.8 283.5,829.8 283.5,833.8 286.5,840.8 292.5,846.8 296.5,847.8 300.5,850.8 301.5,852.8 301.5,861.8 300.5,863.8 297.5,866.8 291.5,861.8 284.5,857.8 276.5,857.8 274.5,858.8 270.5,862.8 268.5,867.8 267.5,877.8 266.5,878.8 266.5,885.8 265.5,886.8 266.5,888.8 266.5,894.8 271.5,905.8 273.5,917.8 277.5,922.8 281.5,924.8 283.5,924.8 287.5,927.8 288.5,929.8 288.5,933.8 289.5,934.8 289.5,946.8 288.5,947.8 288.5,971.8 289.5,972.8 289.5,986.8 284.5,997.8 284.5,1001.8 283.5,1002.8 283.5,1014.8 491.5,1014.8 492.5,1007.8 495.5,1002.8 499.5,998.8 502.5,991.8 502.5,988.8 501.5,986.8 498.5,984.8 488.5,984.8 486.5,983.8 483.5,980.8 481.5,976.8 481.5,971.8 482.5,969.8 487.5,964.8 496.5,960.8 505.5,960.8 509.5,962.8 513.5,962.8 519.5,955.8 519.5,949.8 515.5,942.8 517.5,935.8 525.5,928.8 527.5,928.8 529.5,930.8 532.5,938.8 537.5,943.8 540.5,944.8 544.5,947.8 551.5,955.8 551.5,956.8 555.5,959.8 555.5,957.8 556.5,956.8 556.5,948.8 557.5,947.8 557.5,940.8 558.5,939.8 558.5,934.8 559.5,933.8 559.5,931.8 561.5,927.8 565.5,923.8 573.5,919.8 573.5,914.8 570.5,908.8 565.5,902.8 562.5,895.8 562.5,886.8 566.5,878.8 570.5,875.8 572.5,875.8 573.5,874.8 582.5,874.8 590.5,877.8 601.5,877.8 602.5,876.8 604.5,876.8 610.5,873.8 614.5,869.8 618.5,860.8 624.5,853.8 626.5,852.8 630.5,852.8 631.5,851.8 637.5,851.8 643.5,846.8 645.5,841.8 645.5,838.8 646.5,837.8 646.5,830.8 647.5,829.8 647.5,826.8 651.5,820.8 651.5,818.8 653.5,814.8 654.5,797.8 653.5,796.8 652.5,783.8 653.5,782.8 653.5,778.8 655.5,775.8 655.5,773.8 657.5,770.8 658.5,764.8 659.5,763.8 659.5,752.8 660.5,751.8 660.5,748.8 665.5,742.8 670.5,740.8 677.5,741.8 682.5,746.8 684.5,751.8 684.5,772.8 683.5,773.8 682.5,779.8 677.5,790.8 677.5,800.8 678.5,801.8 678.5,803.8 682.5,808.8 693.5,808.8 697.5,813.8 697.5,815.8 695.5,819.8 687.5,824.8 684.5,827.8 680.5,837.8 680.5,844.8 681.5,845.8 681.5,847.8 684.5,850.8 688.5,852.8 698.5,854.8 704.5,859.8 704.5,861.8 705.5,862.8 705.5,869.8 704.5,870.8 704.5,872.8 697.5,880.8 693.5,882.8 682.5,882.8 680.5,881.8 675.5,883.8 674.5,885.8 674.5,890.8 676.5,895.8 676.5,900.8 677.5,901.8 677.5,903.8 675.5,908.8 670.5,913.8 667.5,914.8 662.5,920.8 663.5,935.8 658.5,944.8 653.5,964.8 648.5,970.8 638.5,976.8 633.5,976.8 630.5,974.8 623.5,966.8 620.5,961.8 620.5,959.8 615.5,948.8 610.5,943.8 598.5,943.8 597.5,944.8 587.5,943.8 583.5,946.8 581.5,953.8 577.5,960.8 570.5,966.8 563.5,969.8 563.5,975.8 565.5,979.8 565.5,989.8 552.5,1004.8 550.5,1009.8 550.5,1014.8 768.5,1014.8 768.5,886.8 760.5,886.8 756.5,884.8 753.5,881.8 753.5,879.8 752.5,878.8 752.5,866.8 751.5,865.8 751.5,863.8 748.5,861.8 745.5,862.8 743.5,864.8 742.5,870.8 741.5,871.8 741.5,875.8 738.5,878.8 736.5,878.8 734.5,876.8 731.5,869.8 731.5,860.8 733.5,855.8 738.5,849.8 744.5,845.8 750.5,845.8 757.5,850.8 759.5,850.8 760.5,851.8 768.5,851.8 768.5,579.8 477.5,579.8 477.5,600.8 476.5,601.8 476.5,603.8 473.5,606.8 468.5,605.8 460.5,594.8 451.5,586.8 450.5,584.8 450.5,579.8ZM283.5,579.8 86.5,579.8 86.5,605.8 87.5,606.8 87.5,609.8 89.5,613.8 95.5,617.8 101.5,624.8 101.5,637.8 100.5,638.8 100.5,710.8 101.5,711.8 101.5,714.8 103.5,719.8 103.5,725.8 101.5,728.8 93.5,732.8 91.5,732.8 87.5,734.8 83.5,734.8 82.5,735.8 77.5,735.8 77.5,773.8 84.5,773.8 88.5,776.8 88.5,779.8 85.5,782.8 77.5,784.8 77.5,1014.8 94.5,1014.8 94.5,1003.8 95.5,1002.8 95.5,999.8 102.5,982.8 102.5,979.8 104.5,975.8 106.5,965.8 109.5,959.8 111.5,957.8 115.5,957.8 119.5,961.8 123.5,969.8 126.5,980.8 129.5,985.8 137.5,989.8 139.5,991.8 146.5,994.8 151.5,994.8 156.5,990.8 156.5,982.8 155.5,980.8 146.5,971.8 136.5,953.8 124.5,942.8 124.5,934.8 126.5,931.8 133.5,925.8 137.5,923.8 141.5,923.8 144.5,925.8 146.5,925.8 149.5,927.8 156.5,929.8 159.5,931.8 165.5,938.8 168.5,938.8 169.5,937.8 169.5,934.8 163.5,926.8 158.5,913.8 149.5,902.8 149.5,897.8 156.5,890.8 158.5,886.8 166.5,878.8 171.5,876.8 177.5,871.8 179.5,866.8 179.5,857.8 178.5,856.8 177.5,848.8 175.5,845.8 174.5,841.8 169.5,837.8 163.5,837.8 160.5,839.8 158.5,842.8 158.5,844.8 156.5,848.8 155.5,856.8 153.5,860.8 151.5,862.8 147.5,860.8 145.5,857.8 144.5,851.8 143.5,850.8 143.5,845.8 144.5,844.8 144.5,840.8 145.5,839.8 145.5,830.8 141.5,825.8 129.5,821.8 127.5,818.8 127.5,816.8 129.5,812.8 138.5,803.8 140.5,799.8 140.5,795.8 136.5,791.8 132.5,789.8 126.5,788.8 125.5,787.8 121.5,787.8 120.5,786.8 115.5,786.8 107.5,783.8 97.5,774.8 96.5,772.8 97.5,767.8 100.5,761.8 116.5,744.8 117.5,742.8 117.5,730.8 119.5,727.8 126.5,722.8 137.5,720.8 141.5,718.8 158.5,702.8 165.5,690.8 174.5,681.8 177.5,675.8 184.5,667.8 190.5,654.8 210.5,635.8 214.5,633.8 222.5,632.8 227.5,630.8 236.5,620.8 238.5,620.8 239.5,619.8 245.5,619.8 246.5,620.8 253.5,621.8 257.5,623.8 262.5,629.8 262.5,632.8 256.5,637.8 237.5,637.8 236.5,638.8 234.5,638.8 231.5,641.8 231.5,643.8 229.5,647.8 229.5,656.8 231.5,661.8 235.5,665.8 249.5,665.8 251.5,666.8 256.5,672.8 256.5,675.8 257.5,676.8 256.5,683.8 251.5,694.8 251.5,707.8 252.5,708.8 253.5,728.8 254.5,729.8 254.5,736.8 255.5,737.8 256.5,750.8 257.5,751.8 257.5,753.8 263.5,758.8 268.5,758.8 275.5,753.8 277.5,750.8 277.5,748.8 279.5,744.8 279.5,735.8 280.5,734.8 280.5,716.8 281.5,715.8 281.5,710.8 282.5,709.8 282.5,705.8 283.5,704.8 283.5,695.8 282.5,694.8 282.5,691.8 280.5,686.8 280.5,680.8 279.5,679.8 279.5,657.8 280.5,656.8 280.5,651.8 281.5,650.8 281.5,639.8 280.5,638.8 280.5,636.8 276.5,631.8 273.5,625.8 272.5,616.8 273.5,615.8 273.5,608.8 274.5,607.8 275.5,600.8 281.5,589.8Z" fill="#b4e2f8" fill-rule="evenodd"/>
<path d="M594.5,981.8 597.5,981.8 600.5,984.8 600.5,989.8 598.5,992.8 594.5,992.8 592.5,990.8 591.5,986.8ZM587.5,948.8 584.5,952.8 584.5,954.8 581.5,960.8 571.5,972.8 571.5,975.8 570.5,976.8 570.5,979.8 571.5,980.8 571.5,987.8 570.5,988.8 570.5,990.8 568.5,994.8 558.5,1005.8 557.5,1010.8 556.5,1011.8 556.5,1014.8 633.5,1014.8 633.5,1002.8 632.5,1001.8 632.5,997.8 625.5,984.8 625.5,982.8 617.5,965.8 615.5,955.8 611.5,948.8 608.5,946.8 594.5,946.8 593.5,947.8 589.5,947.8ZM201.5,941.8 199.5,944.8 199.5,956.8 200.5,957.8 200.5,959.8 205.5,966.8 209.5,968.8 211.5,968.8 213.5,967.8 214.5,962.8 215.5,961.8 213.5,949.8 210.5,944.8 205.5,941.8ZM745.5,932.8 747.5,932.8 750.5,935.8 750.5,937.8 747.5,940.8 743.5,937.8 743.5,934.8ZM466.5,931.8 471.5,932.8 473.5,934.8 473.5,936.8 474.5,937.8 474.5,940.8 472.5,945.8 468.5,948.8 465.5,947.8 461.5,943.8 461.5,941.8 460.5,940.8 461.5,935.8ZM146.5,912.8 145.5,913.8 146.5,918.8 150.5,921.8 154.5,921.8 155.5,920.8 154.5,916.8 151.5,913.8ZM131.5,913.8 129.5,913.8 128.5,912.8 110.5,912.8 107.5,916.8 106.5,930.8 105.5,931.8 105.5,936.8 104.5,937.8 104.5,939.8 103.5,941.8 99.5,944.8 92.5,943.8 89.5,940.8 86.5,934.8 83.5,924.8 80.5,921.8 77.5,920.8 77.5,1014.8 87.5,1014.8 87.5,1007.8 88.5,1006.8 88.5,1002.8 89.5,1001.8 90.5,996.8 100.5,976.8 107.5,954.8 112.5,950.8 118.5,950.8 121.5,953.8 122.5,958.8 130.5,974.8 142.5,987.8 147.5,990.8 152.5,989.8 153.5,987.8 152.5,982.8 143.5,974.8 134.5,958.8 128.5,952.8 123.5,950.8 120.5,947.8 120.5,937.8 121.5,936.8 121.5,934.8 123.5,930.8 131.5,921.8 133.5,917.8 133.5,915.8ZM622.5,890.8 619.5,893.8 619.5,895.8 618.5,896.8 618.5,902.8 621.5,905.8 624.5,905.8 625.5,904.8 625.5,893.8 624.5,891.8ZM195.5,881.8 194.5,886.8 196.5,888.8 201.5,888.8 204.5,884.8 203.5,881.8 201.5,880.8 197.5,880.8ZM523.5,896.8 521.5,894.8 510.5,894.8 505.5,896.8 502.5,899.8 501.5,904.8 500.5,905.8 500.5,909.8 501.5,910.8 501.5,919.8 498.5,923.8 494.5,923.8 487.5,918.8 483.5,911.8 483.5,908.8 482.5,907.8 482.5,900.8 483.5,899.8 483.5,897.8 486.5,894.8 488.5,890.8 488.5,885.8 486.5,883.8 482.5,883.8 478.5,887.8 473.5,890.8 464.5,890.8 463.5,889.8 457.5,888.8 453.5,884.8 454.5,875.8 455.5,874.8 455.5,867.8 454.5,865.8 451.5,862.8 446.5,860.8 440.5,860.8 439.5,859.8 430.5,860.8 426.5,862.8 420.5,867.8 409.5,871.8 409.5,879.8 410.5,880.8 411.5,885.8 415.5,889.8 420.5,889.8 429.5,881.8 434.5,881.8 444.5,886.8 448.5,890.8 448.5,895.8 445.5,903.8 436.5,914.8 431.5,926.8 426.5,931.8 422.5,931.8 414.5,924.8 412.5,924.8 411.5,923.8 387.5,923.8 386.5,924.8 376.5,924.8 371.5,920.8 366.5,909.8 364.5,907.8 348.5,896.8 344.5,895.8 341.5,893.8 329.5,892.8 325.5,894.8 323.5,897.8 321.5,904.8 318.5,906.8 315.5,903.8 310.5,891.8 306.5,889.8 297.5,889.8 295.5,887.8 292.5,872.8 288.5,864.8 283.5,860.8 276.5,860.8 272.5,864.8 270.5,869.8 270.5,876.8 269.5,877.8 270.5,888.8 272.5,892.8 277.5,896.8 282.5,896.8 290.5,893.8 294.5,896.8 293.5,937.8 294.5,938.8 295.5,948.8 298.5,955.8 297.5,961.8 295.5,965.8 295.5,983.8 294.5,984.8 293.5,990.8 287.5,1001.8 287.5,1004.8 286.5,1005.8 286.5,1014.8 475.5,1014.8 475.5,1008.8 480.5,998.8 481.5,991.8 474.5,973.8 474.5,968.8 479.5,962.8 483.5,961.8 486.5,959.8 497.5,956.8 500.5,954.8 502.5,954.8 506.5,951.8 507.5,949.8 508.5,937.8 510.5,933.8 520.5,925.8 524.5,918.8 524.5,915.8 525.5,914.8 525.5,906.8 524.5,905.8 524.5,899.8 523.5,898.8ZM518.5,846.8 514.5,846.8 512.5,849.8 513.5,851.8 515.5,852.8 519.5,849.8 519.5,847.8ZM392.5,841.8 388.5,841.8 386.5,843.8 382.5,853.8 382.5,857.8 381.5,858.8 381.5,871.8 382.5,873.8 384.5,874.8 391.5,873.8 392.5,872.8 403.5,869.8 405.5,867.8 405.5,863.8 404.5,862.8 404.5,859.8 403.5,858.8 402.5,853.8 397.5,845.8ZM318.5,839.8 313.5,840.8 309.5,844.8 309.5,846.8 308.5,847.8 308.5,858.8 309.5,859.8 309.5,861.8 312.5,864.8 316.5,863.8 322.5,857.8 325.5,850.8 325.5,846.8 323.5,842.8 321.5,840.8 319.5,840.8ZM197.5,839.8 196.5,840.8 196.5,842.8 197.5,843.8 199.5,843.8 200.5,842.8 200.5,840.8 199.5,839.8ZM717.5,825.8 722.5,827.8 725.5,833.8 725.5,838.8 721.5,843.8 717.5,843.8 715.5,842.8 711.5,837.8 711.5,830.8 714.5,826.8 716.5,826.8ZM600.5,828.8 594.5,827.8 593.5,826.8 584.5,826.8 583.5,827.8 578.5,828.8 574.5,833.8 573.5,845.8 571.5,849.8 568.5,851.8 564.5,849.8 556.5,841.8 543.5,835.8 541.5,835.8 540.5,834.8 534.5,834.8 532.5,837.8 531.5,844.8 530.5,845.8 530.5,850.8 531.5,851.8 531.5,856.8 532.5,857.8 532.5,861.8 533.5,862.8 534.5,870.8 535.5,871.8 535.5,873.8 543.5,882.8 543.5,884.8 545.5,888.8 545.5,903.8 542.5,909.8 540.5,911.8 536.5,920.8 536.5,931.8 538.5,936.8 544.5,942.8 549.5,945.8 552.5,945.8 554.5,941.8 556.5,927.8 557.5,926.8 558.5,921.8 562.5,915.8 562.5,911.8 558.5,901.8 558.5,891.8 559.5,890.8 559.5,885.8 562.5,878.8 567.5,873.8 571.5,871.8 576.5,871.8 577.5,870.8 578.5,871.8 583.5,871.8 590.5,874.8 600.5,874.8 606.5,871.8 611.5,866.8 616.5,856.8 616.5,854.8 618.5,851.8 618.5,847.8 616.5,843.8 607.5,832.8ZM300.5,824.8 295.5,824.8 294.5,825.8 292.5,825.8 290.5,826.8 286.5,831.8 287.5,836.8 292.5,841.8 297.5,841.8 301.5,837.8 301.5,835.8 302.5,834.8 302.5,827.8ZM416.5,805.8 414.5,810.8 414.5,818.8 415.5,819.8 415.5,824.8 418.5,831.8 423.5,836.8 428.5,838.8 438.5,838.8 443.5,836.8 447.5,831.8 447.5,828.8 445.5,824.8 432.5,811.8 426.5,807.8 421.5,805.8ZM383.5,804.8 377.5,807.8 376.5,809.8 376.5,813.8 380.5,821.8 385.5,826.8 387.5,826.8 388.5,827.8 393.5,823.8 396.5,816.8 396.5,812.8 392.5,806.8 387.5,804.8ZM490.5,786.8 489.5,791.8 488.5,792.8 488.5,800.8 490.5,805.8 493.5,808.8 504.5,813.8 509.5,817.8 519.5,822.8 521.5,824.8 529.5,827.8 532.5,823.8 532.5,819.8 533.5,818.8 533.5,809.8 534.5,808.8 534.5,800.8 533.5,799.8 533.5,795.8 531.5,791.8 527.5,788.8 515.5,788.8 514.5,789.8 512.5,789.8 511.5,788.8 508.5,788.8 498.5,783.8 494.5,783.8ZM95.5,783.8 86.5,787.8 77.5,788.8 77.5,880.8 82.5,880.8 83.5,879.8 94.5,877.8 95.5,878.8 97.5,878.8 100.5,881.8 101.5,883.8 100.5,887.8 92.5,891.8 89.5,894.8 87.5,898.8 87.5,903.8 90.5,907.8 92.5,907.8 93.5,908.8 102.5,908.8 104.5,906.8 104.5,904.8 105.5,903.8 105.5,896.8 106.5,895.8 106.5,893.8 110.5,890.8 114.5,890.8 115.5,889.8 122.5,889.8 123.5,888.8 129.5,887.8 138.5,880.8 143.5,880.8 148.5,886.8 152.5,886.8 160.5,878.8 171.5,873.8 176.5,868.8 176.5,865.8 177.5,864.8 177.5,857.8 176.5,856.8 176.5,852.8 173.5,844.8 169.5,840.8 164.5,840.8 161.5,842.8 159.5,846.8 155.5,865.8 151.5,870.8 149.5,870.8 145.5,866.8 141.5,856.8 141.5,853.8 140.5,852.8 141.5,833.8 138.5,829.8 133.5,828.8 131.5,829.8 128.5,833.8 128.5,848.8 127.5,849.8 126.5,854.8 120.5,860.8 117.5,860.8 116.5,861.8 115.5,860.8 112.5,860.8 106.5,854.8 101.5,844.8 92.5,835.8 91.5,833.8 91.5,829.8 96.5,823.8 100.5,821.8 110.5,820.8 111.5,819.8 117.5,818.8 132.5,803.8 134.5,800.8 134.5,795.8 130.5,792.8 128.5,792.8 124.5,790.8 110.5,788.8 104.5,785.8 102.5,785.8 98.5,783.8ZM326.5,780.8 322.5,783.8 322.5,785.8 321.5,786.8 321.5,790.8 320.5,791.8 321.5,793.8 321.5,797.8 322.5,799.8 327.5,803.8 335.5,803.8 337.5,802.8 340.5,798.8 340.5,790.8 338.5,786.8 335.5,783.8 331.5,781.8ZM236.5,755.8 232.5,757.8 230.5,760.8 229.5,766.8 228.5,767.8 228.5,771.8 226.5,776.8 221.5,781.8 217.5,783.8 212.5,784.8 210.5,787.8 210.5,803.8 211.5,804.8 211.5,817.8 212.5,818.8 212.5,822.8 211.5,823.8 211.5,831.8 210.5,832.8 210.5,837.8 209.5,838.8 209.5,844.8 213.5,851.8 219.5,857.8 226.5,861.8 229.5,864.8 230.5,866.8 230.5,878.8 231.5,879.8 231.5,882.8 234.5,887.8 240.5,890.8 246.5,890.8 247.5,889.8 249.5,889.8 253.5,886.8 256.5,878.8 256.5,870.8 253.5,862.8 250.5,859.8 247.5,858.8 242.5,854.8 240.5,850.8 240.5,846.8 241.5,845.8 241.5,843.8 246.5,838.8 250.5,836.8 252.5,836.8 256.5,832.8 258.5,828.8 258.5,823.8 257.5,821.8 255.5,820.8 250.5,820.8 245.5,818.8 241.5,813.8 241.5,779.8 242.5,778.8 242.5,775.8 245.5,767.8 245.5,762.8 243.5,758.8 240.5,756.8ZM353.5,743.8 349.5,746.8 347.5,750.8 347.5,755.8 349.5,759.8 354.5,762.8 362.5,762.8 365.5,760.8 366.5,755.8 365.5,754.8 365.5,750.8 362.5,743.8 360.5,742.8ZM562.5,740.8 564.5,738.8 568.5,738.8 570.5,739.8 573.5,743.8 573.5,748.8 570.5,750.8 569.5,749.8 567.5,749.8 563.5,745.8ZM745.5,737.8 749.5,741.8 752.5,749.8 752.5,757.8 750.5,762.8 746.5,766.8 739.5,767.8 738.5,768.8 735.5,768.8 730.5,770.8 725.5,775.8 721.5,782.8 715.5,788.8 711.5,790.8 707.5,790.8 705.5,789.8 701.5,784.8 701.5,780.8 703.5,776.8 709.5,769.8 712.5,763.8 715.5,748.8 717.5,744.8 720.5,741.8 726.5,738.8 731.5,738.8 732.5,737.8ZM104.5,736.8 102.5,735.8 96.5,735.8 95.5,736.8 92.5,736.8 87.5,738.8 77.5,739.8 77.5,768.8 88.5,767.8 91.5,765.8 101.5,754.8 107.5,745.8 107.5,740.8ZM625.5,724.8 627.5,726.8 628.5,731.8 629.5,732.8 629.5,739.8 628.5,740.8 628.5,745.8 627.5,746.8 627.5,748.8 622.5,753.8 620.5,753.8 619.5,754.8 613.5,753.8 611.5,752.8 607.5,747.8 608.5,742.8 621.5,724.8ZM316.5,721.8 312.5,723.8 308.5,727.8 308.5,729.8 307.5,730.8 308.5,758.8 312.5,764.8 317.5,767.8 321.5,767.8 325.5,763.8 328.5,757.8 328.5,753.8 329.5,752.8 329.5,741.8 330.5,740.8 330.5,728.8 327.5,722.8 325.5,721.8ZM556.5,705.8 559.5,708.8 559.5,720.8 558.5,721.8 557.5,736.8 555.5,740.8 547.5,748.8 545.5,748.8 544.5,749.8 538.5,748.8 534.5,744.8 533.5,739.8 532.5,738.8 532.5,732.8 533.5,731.8 534.5,725.8 535.5,723.8 546.5,713.8 551.5,706.8ZM592.5,707.8 595.5,704.8 597.5,704.8 598.5,703.8 604.5,703.8 609.5,705.8 612.5,708.8 612.5,711.8 610.5,713.8 605.5,715.8 597.5,715.8 593.5,712.8ZM337.5,672.8 337.5,676.8 341.5,680.8 343.5,680.8 344.5,681.8 350.5,681.8 353.5,679.8 354.5,674.8 352.5,670.8 349.5,668.8 342.5,668.8ZM239.5,641.8 235.5,643.8 232.5,648.8 232.5,657.8 233.5,659.8 236.5,662.8 238.5,662.8 239.5,663.8 242.5,663.8 243.5,662.8 250.5,662.8 254.5,664.8 257.5,667.8 259.5,672.8 259.5,682.8 258.5,683.8 258.5,686.8 255.5,694.8 255.5,708.8 256.5,709.8 256.5,714.8 255.5,715.8 255.5,727.8 256.5,728.8 256.5,737.8 257.5,738.8 258.5,747.8 262.5,753.8 266.5,754.8 267.5,753.8 269.5,753.8 274.5,748.8 275.5,743.8 276.5,742.8 276.5,725.8 275.5,724.8 275.5,714.8 274.5,713.8 274.5,685.8 275.5,684.8 275.5,665.8 274.5,664.8 274.5,653.8 273.5,652.8 272.5,647.8 269.5,645.8 267.5,645.8 266.5,644.8 258.5,644.8 257.5,643.8 252.5,643.8 251.5,642.8 246.5,642.8 245.5,641.8ZM453.5,630.8 459.5,630.8 460.5,631.8 466.5,632.8 470.5,634.8 475.5,640.8 474.5,647.8 468.5,656.8 468.5,660.8 467.5,661.8 468.5,663.8 468.5,671.8 462.5,678.8 460.5,678.8 459.5,679.8 452.5,678.8 443.5,671.8 438.5,663.8 438.5,661.8 437.5,660.8 437.5,655.8 436.5,654.8 437.5,652.8 437.5,646.8 440.5,639.8 446.5,633.8ZM422.5,595.8 419.5,601.8 419.5,655.8 418.5,656.8 417.5,661.8 413.5,667.8 410.5,674.8 402.5,683.8 395.5,694.8 392.5,697.8 388.5,699.8 385.5,699.8 384.5,698.8 382.5,698.8 375.5,691.8 373.5,690.8 367.5,690.8 365.5,691.8 356.5,700.8 351.5,708.8 352.5,712.8 360.5,717.8 363.5,720.8 367.5,731.8 370.5,734.8 374.5,734.8 375.5,735.8 383.5,735.8 384.5,734.8 386.5,734.8 387.5,735.8 394.5,735.8 402.5,738.8 407.5,743.8 407.5,754.8 408.5,755.8 408.5,760.8 410.5,763.8 410.5,765.8 417.5,775.8 418.5,778.8 422.5,782.8 426.5,782.8 430.5,780.8 433.5,775.8 433.5,764.8 432.5,763.8 432.5,760.8 433.5,759.8 434.5,752.8 436.5,749.8 437.5,743.8 436.5,742.8 436.5,740.8 433.5,738.8 422.5,736.8 420.5,734.8 420.5,729.8 433.5,717.8 437.5,710.8 443.5,705.8 449.5,710.8 451.5,717.8 455.5,721.8 465.5,721.8 466.5,720.8 471.5,721.8 474.5,724.8 476.5,728.8 476.5,731.8 479.5,736.8 484.5,739.8 488.5,743.8 492.5,750.8 492.5,752.8 495.5,755.8 497.5,755.8 498.5,756.8 499.5,755.8 509.5,754.8 522.5,768.8 537.5,776.8 539.5,776.8 546.5,779.8 549.5,779.8 550.5,780.8 557.5,780.8 558.5,779.8 561.5,779.8 572.5,774.8 574.5,772.8 577.5,766.8 578.5,759.8 581.5,756.8 588.5,755.8 589.5,756.8 593.5,756.8 595.5,757.8 599.5,761.8 599.5,763.8 600.5,764.8 600.5,771.8 598.5,773.8 591.5,776.8 588.5,779.8 587.5,784.8 589.5,788.8 595.5,792.8 602.5,799.8 606.5,801.8 610.5,801.8 612.5,800.8 614.5,797.8 614.5,790.8 612.5,786.8 604.5,778.8 604.5,775.8 606.5,773.8 617.5,773.8 618.5,774.8 620.5,774.8 625.5,777.8 635.5,786.8 639.5,788.8 644.5,788.8 647.5,783.8 648.5,778.8 654.5,767.8 654.5,765.8 656.5,761.8 656.5,753.8 657.5,752.8 658.5,745.8 663.5,740.8 667.5,738.8 674.5,737.8 675.5,738.8 678.5,738.8 681.5,740.8 685.5,745.8 685.5,747.8 687.5,751.8 687.5,760.8 688.5,761.8 688.5,780.8 687.5,781.8 686.5,786.8 684.5,789.8 684.5,797.8 686.5,799.8 688.5,799.8 689.5,800.8 694.5,800.8 695.5,801.8 697.5,801.8 702.5,806.8 703.5,808.8 703.5,812.8 704.5,813.8 704.5,816.8 703.5,817.8 702.5,822.8 699.5,825.8 690.5,830.8 686.5,835.8 686.5,837.8 685.5,838.8 685.5,844.8 687.5,847.8 691.5,849.8 704.5,852.8 708.5,857.8 709.5,864.8 708.5,865.8 707.5,872.8 704.5,878.8 695.5,886.8 691.5,888.8 684.5,889.8 682.5,892.8 683.5,897.8 684.5,898.8 684.5,905.8 683.5,906.8 683.5,908.8 678.5,915.8 670.5,919.8 668.5,922.8 668.5,926.8 667.5,927.8 667.5,935.8 663.5,943.8 661.5,945.8 658.5,953.8 657.5,966.8 654.5,973.8 647.5,981.8 647.5,983.8 646.5,984.8 646.5,989.8 649.5,995.8 658.5,1005.8 660.5,1009.8 660.5,1014.8 716.5,1014.8 716.5,1005.8 715.5,1004.8 714.5,994.8 713.5,993.8 713.5,982.8 714.5,981.8 714.5,977.8 715.5,976.8 716.5,971.8 720.5,967.8 722.5,967.8 736.5,977.8 740.5,981.8 742.5,985.8 743.5,994.8 742.5,995.8 741.5,1001.8 737.5,1008.8 736.5,1014.8 768.5,1014.8 768.5,891.8 763.5,891.8 762.5,890.8 746.5,890.8 745.5,891.8 739.5,891.8 735.5,889.8 731.5,884.8 731.5,882.8 728.5,876.8 727.5,868.8 726.5,867.8 726.5,854.8 727.5,853.8 728.5,848.8 731.5,845.8 743.5,839.8 750.5,839.8 760.5,845.8 762.5,845.8 763.5,846.8 768.5,846.8 768.5,579.8 517.5,579.8 517.5,585.8 516.5,587.8 512.5,590.8 510.5,590.8 507.5,588.8 505.5,584.8 505.5,579.8 480.5,579.8 480.5,606.8 479.5,607.8 479.5,609.8 476.5,612.8 471.5,612.8 469.5,611.8 463.5,605.8 460.5,600.8 455.5,596.8 441.5,597.8 434.5,593.8 425.5,593.8ZM301.5,643.8 310.5,651.8 312.5,651.8 313.5,652.8 318.5,651.8 321.5,646.8 325.5,631.8 327.5,628.8 331.5,625.8 335.5,626.8 340.5,631.8 343.5,637.8 347.5,641.8 352.5,642.8 356.5,640.8 358.5,637.8 358.5,624.8 356.5,619.8 356.5,606.8 357.5,605.8 357.5,603.8 361.5,599.8 365.5,597.8 382.5,595.8 389.5,592.8 392.5,589.8 394.5,585.8 394.5,581.8 395.5,579.8 307.5,579.8 307.5,582.8 308.5,583.8 309.5,588.8 321.5,601.8 322.5,603.8 322.5,608.8 318.5,612.8 314.5,612.8 313.5,613.8 306.5,614.8 302.5,618.8 300.5,622.8 299.5,632.8 298.5,633.8 299.5,634.8 299.5,639.8ZM108.5,718.8 112.5,721.8 115.5,721.8 125.5,717.8 133.5,717.8 134.5,716.8 137.5,716.8 142.5,713.8 155.5,699.8 162.5,687.8 171.5,678.8 175.5,671.8 183.5,662.8 188.5,651.8 193.5,646.8 198.5,643.8 207.5,632.8 211.5,630.8 218.5,629.8 225.5,626.8 232.5,619.8 236.5,617.8 244.5,616.8 245.5,617.8 261.5,618.8 265.5,616.8 267.5,613.8 267.5,611.8 269.5,607.8 270.5,598.8 271.5,597.8 272.5,589.8 273.5,588.8 273.5,579.8 91.5,579.8 91.5,591.8 90.5,592.8 90.5,601.8 91.5,602.8 91.5,605.8 92.5,606.8 92.5,608.8 103.5,618.8 105.5,623.8 105.5,694.8 104.5,695.8 104.5,707.8Z" fill="#fff898" fill-rule="evenodd"/>
<path d="M594.5,973.8 598.5,973.8 603.5,975.8 605.5,977.8 607.5,982.8 607.5,989.8 606.5,990.8 605.5,997.8 601.5,1001.8 599.5,1001.8 598.5,1002.8 593.5,1000.8 587.5,994.8 585.5,989.8 585.5,983.8 587.5,978.8 591.5,974.8 593.5,974.8ZM591.5,950.8 587.5,954.8 586.5,958.8 582.5,966.8 577.5,973.8 577.5,976.8 576.5,977.8 576.5,989.8 571.5,998.8 565.5,1005.8 563.5,1009.8 563.5,1014.8 627.5,1014.8 626.5,1003.8 618.5,987.8 617.5,982.8 615.5,979.8 615.5,977.8 613.5,973.8 613.5,963.8 612.5,962.8 612.5,957.8 611.5,956.8 611.5,954.8 609.5,951.8 606.5,949.8 594.5,949.8 593.5,950.8ZM205.5,946.8 203.5,947.8 202.5,949.8 202.5,956.8 203.5,957.8 203.5,959.8 207.5,963.8 210.5,963.8 212.5,960.8 212.5,954.8 210.5,949.8 208.5,947.8ZM743.5,926.8 749.5,926.8 755.5,933.8 755.5,940.8 751.5,945.8 749.5,945.8 748.5,946.8 742.5,945.8 737.5,940.8 737.5,938.8 736.5,937.8 738.5,930.8ZM77.5,927.8 77.5,996.8 80.5,996.8 83.5,994.8 88.5,988.8 94.5,979.8 100.5,967.8 100.5,965.8 103.5,958.8 103.5,949.8 102.5,948.8 98.5,948.8 97.5,947.8 92.5,947.8 88.5,945.8 85.5,940.8 83.5,932.8 80.5,928.8ZM545.5,924.8 543.5,926.8 543.5,931.8 546.5,935.8 548.5,935.8 550.5,933.8 550.5,928.8 548.5,924.8ZM123.5,915.8 114.5,915.8 110.5,918.8 109.5,924.8 108.5,925.8 108.5,932.8 107.5,933.8 107.5,942.8 108.5,944.8 113.5,944.8 116.5,941.8 118.5,934.8 126.5,920.8 126.5,918.8ZM516.5,897.8 511.5,897.8 510.5,898.8 508.5,898.8 504.5,903.8 504.5,915.8 505.5,916.8 506.5,922.8 508.5,925.8 513.5,925.8 515.5,924.8 518.5,921.8 521.5,914.8 521.5,904.8 519.5,899.8ZM95.5,897.8 94.5,901.8 97.5,903.8 99.5,901.8 99.5,898.8 98.5,897.8ZM501.5,934.8 500.5,932.8 494.5,928.8 489.5,926.8 482.5,920.8 480.5,915.8 480.5,912.8 479.5,911.8 479.5,907.8 478.5,906.8 478.5,901.8 477.5,900.8 477.5,898.8 474.5,895.8 472.5,895.8 471.5,894.8 457.5,893.8 453.5,896.8 447.5,909.8 441.5,917.8 441.5,919.8 440.5,920.8 440.5,925.8 439.5,926.8 439.5,931.8 438.5,933.8 433.5,938.8 425.5,942.8 416.5,941.8 411.5,938.8 406.5,933.8 402.5,931.8 389.5,931.8 388.5,932.8 377.5,932.8 376.5,931.8 373.5,931.8 367.5,926.8 361.5,914.8 357.5,910.8 356.5,910.8 345.5,898.8 337.5,895.8 333.5,895.8 332.5,896.8 330.5,896.8 328.5,898.8 327.5,903.8 326.5,904.8 326.5,912.8 327.5,913.8 327.5,916.8 328.5,917.8 329.5,924.8 330.5,925.8 329.5,927.8 328.5,941.8 324.5,946.8 319.5,946.8 315.5,941.8 315.5,930.8 316.5,929.8 316.5,921.8 315.5,920.8 315.5,917.8 308.5,901.8 306.5,899.8 303.5,898.8 300.5,901.8 300.5,903.8 299.5,904.8 298.5,921.8 297.5,922.8 297.5,936.8 298.5,937.8 299.5,942.8 303.5,946.8 306.5,947.8 310.5,950.8 311.5,952.8 311.5,956.8 310.5,957.8 310.5,959.8 301.5,971.8 298.5,990.8 290.5,1004.8 289.5,1014.8 466.5,1014.8 467.5,1004.8 473.5,993.8 473.5,985.8 467.5,971.8 466.5,962.8 463.5,956.8 456.5,947.8 455.5,943.8 453.5,940.8 453.5,934.8 457.5,929.8 463.5,926.8 473.5,926.8 477.5,929.8 477.5,931.8 478.5,932.8 478.5,952.8 482.5,955.8 486.5,955.8 487.5,954.8 493.5,953.8 499.5,949.8 501.5,946.8 501.5,943.8 502.5,942.8ZM277.5,863.8 274.5,865.8 272.5,870.8 272.5,882.8 274.5,887.8 277.5,890.8 282.5,890.8 288.5,885.8 288.5,883.8 289.5,882.8 289.5,875.8 286.5,867.8 282.5,863.8ZM451.5,868.8 448.5,864.8 443.5,862.8 435.5,862.8 434.5,863.8 432.5,863.8 430.5,864.8 422.5,873.8 417.5,874.8 414.5,877.8 414.5,882.8 416.5,884.8 419.5,884.8 426.5,875.8 430.5,875.8 441.5,880.8 447.5,880.8 451.5,874.8ZM717.5,857.8 714.5,861.8 711.5,872.8 707.5,880.8 699.5,891.8 698.5,897.8 695.5,903.8 686.5,915.8 681.5,920.8 674.5,924.8 672.5,927.8 670.5,936.8 661.5,952.8 661.5,957.8 660.5,958.8 660.5,960.8 661.5,961.8 662.5,976.8 659.5,983.8 659.5,990.8 671.5,1003.8 673.5,1007.8 674.5,1014.8 709.5,1014.8 708.5,987.8 709.5,986.8 710.5,976.8 711.5,975.8 711.5,972.8 714.5,964.8 717.5,960.8 721.5,958.8 726.5,962.8 729.5,967.8 735.5,973.8 742.5,978.8 746.5,985.8 746.5,988.8 747.5,989.8 747.5,996.8 746.5,997.8 744.5,1014.8 768.5,1014.8 768.5,995.8 761.5,993.8 757.5,987.8 757.5,983.8 760.5,977.8 765.5,974.8 768.5,974.8 768.5,894.8 765.5,894.8 764.5,895.8 756.5,895.8 755.5,896.8 752.5,896.8 744.5,899.8 739.5,899.8 734.5,897.8 728.5,889.8 720.5,859.8ZM389.5,847.8 385.5,853.8 385.5,865.8 388.5,868.8 392.5,868.8 398.5,865.8 399.5,863.8 399.5,856.8 396.5,850.8 393.5,847.8ZM319.5,846.8 316.5,846.8 314.5,848.8 314.5,853.8 315.5,854.8 317.5,854.8 320.5,850.8ZM169.5,843.8 164.5,843.8 160.5,849.8 159.5,859.8 158.5,860.8 158.5,870.8 159.5,872.8 161.5,873.8 165.5,873.8 170.5,871.8 173.5,868.8 175.5,863.8 175.5,856.8 174.5,855.8 174.5,852.8 171.5,845.8ZM698.5,834.8 693.5,836.8 691.5,839.8 691.5,842.8 695.5,845.8 698.5,845.8 702.5,842.8 702.5,838.8 701.5,836.8ZM292.5,830.8 291.5,831.8 291.5,834.8 292.5,835.8 294.5,835.8 296.5,833.8 296.5,831.8 295.5,830.8ZM607.5,838.8 602.5,833.8 596.5,830.8 593.5,830.8 592.5,829.8 585.5,829.8 580.5,831.8 577.5,836.8 576.5,850.8 574.5,854.8 571.5,857.8 567.5,857.8 565.5,856.8 561.5,852.8 559.5,848.8 552.5,842.8 547.5,840.8 539.5,840.8 536.5,843.8 536.5,845.8 535.5,846.8 535.5,857.8 536.5,858.8 537.5,864.8 539.5,868.8 546.5,876.8 550.5,886.8 553.5,888.8 559.5,876.8 566.5,869.8 570.5,867.8 577.5,866.8 578.5,867.8 582.5,867.8 592.5,871.8 598.5,871.8 604.5,868.8 609.5,862.8 609.5,860.8 611.5,856.8 611.5,853.8 612.5,852.8 611.5,845.8ZM421.5,811.8 419.5,813.8 419.5,815.8 418.5,816.8 418.5,821.8 419.5,822.8 420.5,828.8 422.5,831.8 428.5,835.8 439.5,835.8 443.5,832.8 443.5,826.8 441.5,823.8 430.5,813.8 425.5,811.8ZM383.5,808.8 381.5,810.8 381.5,812.8 380.5,813.8 381.5,814.8 381.5,817.8 384.5,821.8 388.5,822.8 390.5,821.8 392.5,818.8 392.5,816.8 393.5,815.8 392.5,811.8 389.5,808.8ZM495.5,794.8 495.5,798.8 496.5,800.8 512.5,815.8 521.5,820.8 527.5,820.8 529.5,818.8 531.5,813.8 531.5,797.8 527.5,792.8 521.5,791.8 513.5,794.8 507.5,794.8 499.5,791.8ZM77.5,791.8 77.5,874.8 84.5,874.8 85.5,873.8 96.5,872.8 97.5,873.8 100.5,873.8 106.5,879.8 107.5,882.8 110.5,885.8 120.5,886.8 121.5,885.8 126.5,884.8 132.5,878.8 132.5,877.8 139.5,871.8 140.5,869.8 140.5,863.8 139.5,862.8 138.5,857.8 135.5,853.8 133.5,853.8 128.5,860.8 123.5,864.8 121.5,864.8 120.5,865.8 114.5,865.8 113.5,864.8 111.5,864.8 105.5,858.8 100.5,847.8 87.5,836.8 86.5,834.8 86.5,830.8 88.5,826.8 96.5,819.8 98.5,819.8 102.5,817.8 106.5,817.8 107.5,816.8 112.5,815.8 117.5,812.8 126.5,803.8 128.5,799.8 127.5,796.8 122.5,793.8 114.5,792.8 113.5,791.8 109.5,791.8 108.5,790.8 104.5,790.8 103.5,789.8 92.5,789.8 87.5,791.8ZM602.5,789.8 603.5,794.8 605.5,796.8 608.5,797.8 610.5,795.8 610.5,792.8 605.5,788.8ZM326.5,787.8 324.5,791.8 324.5,795.8 325.5,797.8 328.5,800.8 334.5,800.8 336.5,799.8 337.5,797.8 337.5,791.8 336.5,789.8 332.5,786.8 328.5,786.8ZM236.5,758.8 232.5,761.8 231.5,767.8 230.5,768.8 230.5,773.8 228.5,778.8 221.5,785.8 220.5,785.8 214.5,792.8 214.5,804.8 218.5,814.8 218.5,822.8 215.5,830.8 214.5,843.8 215.5,844.8 216.5,849.8 222.5,855.8 230.5,858.8 233.5,861.8 234.5,863.8 234.5,872.8 233.5,873.8 234.5,882.8 238.5,886.8 244.5,887.8 249.5,885.8 253.5,879.8 253.5,867.8 248.5,861.8 244.5,859.8 242.5,859.8 238.5,856.8 237.5,854.8 237.5,843.8 239.5,838.8 242.5,835.8 246.5,834.8 251.5,831.8 252.5,827.8 251.5,825.8 249.5,824.8 246.5,824.8 245.5,823.8 240.5,822.8 238.5,820.8 238.5,818.8 237.5,817.8 238.5,806.8 239.5,805.8 239.5,778.8 242.5,770.8 242.5,762.8 240.5,759.8ZM418.5,750.8 414.5,753.8 413.5,755.8 413.5,760.8 416.5,766.8 423.5,773.8 426.5,773.8 426.5,771.8 427.5,770.8 426.5,769.8 426.5,763.8 425.5,762.8 425.5,756.8 424.5,755.8 424.5,753.8 423.5,751.8ZM357.5,749.8 355.5,751.8 355.5,754.8 357.5,756.8 359.5,756.8 360.5,752.8 359.5,750.8ZM98.5,741.8 89.5,741.8 88.5,742.8 77.5,743.8 77.5,764.8 84.5,763.8 88.5,761.8 93.5,756.8 93.5,755.8 98.5,750.8 100.5,746.8 100.5,744.8ZM322.5,726.8 316.5,726.8 312.5,731.8 312.5,740.8 313.5,741.8 313.5,744.8 315.5,749.8 318.5,751.8 321.5,748.8 325.5,738.8 325.5,729.8ZM347.5,673.8 345.5,673.8 344.5,674.8 346.5,676.8 347.5,675.8ZM241.5,645.8 240.5,646.8 238.5,646.8 235.5,650.8 235.5,656.8 236.5,658.8 238.5,659.8 249.5,659.8 250.5,658.8 251.5,659.8 254.5,659.8 259.5,663.8 262.5,670.8 263.5,680.8 262.5,681.8 262.5,687.8 261.5,688.8 261.5,692.8 260.5,693.8 261.5,707.8 260.5,708.8 259.5,716.8 258.5,717.8 258.5,738.8 259.5,739.8 259.5,742.8 261.5,747.8 263.5,749.8 268.5,749.8 272.5,745.8 272.5,743.8 273.5,742.8 273.5,725.8 272.5,724.8 272.5,719.8 267.5,706.8 267.5,695.8 268.5,694.8 269.5,684.8 270.5,683.8 270.5,664.8 269.5,663.8 269.5,660.8 267.5,656.8 264.5,653.8 260.5,651.8 258.5,651.8 255.5,649.8 253.5,649.8 250.5,647.8ZM308.5,618.8 303.5,624.8 303.5,626.8 302.5,627.8 302.5,636.8 303.5,637.8 303.5,639.8 306.5,643.8 311.5,646.8 315.5,646.8 318.5,643.8 320.5,639.8 320.5,636.8 322.5,631.8 322.5,621.8 320.5,619.8 318.5,619.8 317.5,618.8ZM358.5,706.8 358.5,710.8 366.5,717.8 369.5,727.8 371.5,730.8 376.5,732.8 385.5,732.8 386.5,731.8 399.5,731.8 407.5,728.8 410.5,725.8 425.5,716.8 432.5,709.8 433.5,706.8 436.5,702.8 442.5,697.8 448.5,697.8 451.5,700.8 455.5,710.8 459.5,714.8 466.5,714.8 467.5,713.8 470.5,713.8 475.5,711.8 479.5,706.8 482.5,700.8 484.5,698.8 487.5,697.8 494.5,703.8 495.5,708.8 494.5,709.8 494.5,711.8 490.5,715.8 486.5,716.8 483.5,718.8 482.5,720.8 482.5,727.8 484.5,731.8 492.5,739.8 497.5,746.8 499.5,747.8 511.5,747.8 515.5,750.8 520.5,761.8 525.5,766.8 538.5,773.8 544.5,774.8 545.5,775.8 549.5,775.8 550.5,776.8 558.5,775.8 565.5,772.8 570.5,766.8 570.5,760.8 565.5,755.8 556.5,749.8 553.5,749.8 547.5,752.8 540.5,752.8 536.5,750.8 532.5,746.8 530.5,742.8 530.5,726.8 531.5,725.8 532.5,720.8 534.5,717.8 542.5,710.8 546.5,702.8 552.5,696.8 554.5,696.8 555.5,695.8 561.5,696.8 566.5,700.8 566.5,708.8 565.5,709.8 565.5,714.8 564.5,715.8 564.5,725.8 565.5,727.8 576.5,737.8 581.5,747.8 586.5,750.8 588.5,750.8 589.5,751.8 598.5,751.8 600.5,750.8 605.5,740.8 612.5,732.8 615.5,725.8 615.5,723.8 612.5,719.8 601.5,719.8 600.5,720.8 596.5,720.8 591.5,718.8 588.5,715.8 584.5,707.8 572.5,698.8 572.5,694.8 579.5,688.8 584.5,689.8 587.5,693.8 593.5,698.8 596.5,698.8 597.5,699.8 604.5,699.8 605.5,700.8 608.5,700.8 613.5,702.8 620.5,709.8 620.5,710.8 629.5,718.8 632.5,726.8 632.5,735.8 631.5,736.8 631.5,744.8 630.5,745.8 630.5,749.8 627.5,755.8 623.5,758.8 608.5,758.8 607.5,759.8 607.5,763.8 608.5,765.8 612.5,767.8 616.5,767.8 624.5,770.8 632.5,778.8 637.5,781.8 640.5,781.8 643.5,778.8 652.5,762.8 655.5,744.8 659.5,739.8 665.5,736.8 668.5,736.8 669.5,735.8 678.5,735.8 682.5,737.8 685.5,740.8 689.5,747.8 690.5,756.8 691.5,757.8 691.5,762.8 692.5,763.8 693.5,768.8 695.5,770.8 699.5,770.8 703.5,768.8 706.5,765.8 710.5,756.8 710.5,752.8 711.5,751.8 712.5,745.8 714.5,741.8 718.5,737.8 725.5,734.8 731.5,734.8 732.5,733.8 736.5,733.8 741.5,731.8 747.5,731.8 751.5,735.8 755.5,744.8 755.5,748.8 756.5,749.8 756.5,757.8 755.5,758.8 755.5,762.8 753.5,766.8 750.5,769.8 746.5,771.8 739.5,771.8 738.5,772.8 735.5,772.8 730.5,775.8 727.5,779.8 721.5,791.8 712.5,799.8 710.5,803.8 710.5,811.8 712.5,815.8 716.5,817.8 721.5,817.8 726.5,819.8 729.5,823.8 729.5,825.8 731.5,829.8 731.5,832.8 734.5,835.8 751.5,834.8 761.5,840.8 768.5,841.8 768.5,579.8 522.5,579.8 522.5,581.8 521.5,582.8 521.5,587.8 519.5,591.8 513.5,596.8 508.5,596.8 502.5,591.8 500.5,586.8 500.5,579.8 484.5,579.8 484.5,595.8 483.5,596.8 483.5,601.8 484.5,602.8 484.5,609.8 489.5,620.8 489.5,625.8 482.5,636.8 481.5,652.8 477.5,660.8 476.5,670.8 475.5,671.8 474.5,676.8 468.5,682.8 463.5,685.8 461.5,685.8 458.5,687.8 451.5,687.8 439.5,674.8 433.5,662.8 433.5,660.8 432.5,659.8 432.5,654.8 431.5,653.8 433.5,641.8 437.5,633.8 441.5,629.8 448.5,625.8 455.5,624.8 456.5,625.8 461.5,625.8 466.5,627.8 473.5,627.8 475.5,625.8 475.5,622.8 474.5,620.8 469.5,617.8 462.5,610.8 460.5,606.8 455.5,602.8 451.5,603.8 445.5,609.8 443.5,609.8 442.5,610.8 434.5,603.8 429.5,601.8 426.5,603.8 425.5,608.8 424.5,609.8 424.5,613.8 425.5,614.8 425.5,622.8 426.5,623.8 426.5,628.8 425.5,629.8 425.5,653.8 421.5,663.8 419.5,665.8 410.5,681.8 402.5,689.8 398.5,696.8 393.5,701.8 389.5,703.8 385.5,703.8 384.5,704.8 378.5,703.8 372.5,697.8 368.5,697.8 364.5,699.8ZM313.5,579.8 314.5,585.8 316.5,588.8 323.5,593.8 327.5,597.8 329.5,601.8 330.5,614.8 343.5,626.8 346.5,633.8 348.5,635.8 351.5,635.8 353.5,631.8 351.5,621.8 350.5,620.8 350.5,614.8 349.5,613.8 350.5,601.8 352.5,597.8 356.5,593.8 361.5,591.8 376.5,590.8 380.5,588.8 384.5,582.8 384.5,579.8ZM110.5,711.8 114.5,714.8 117.5,714.8 122.5,712.8 136.5,712.8 138.5,711.8 154.5,693.8 157.5,686.8 168.5,675.8 171.5,669.8 178.5,662.8 183.5,654.8 183.5,652.8 186.5,647.8 189.5,644.8 193.5,642.8 198.5,637.8 201.5,631.8 206.5,626.8 221.5,624.8 228.5,618.8 236.5,614.8 257.5,614.8 261.5,612.8 264.5,608.8 265.5,601.8 266.5,600.8 266.5,579.8 96.5,579.8 94.5,600.8 96.5,605.8 100.5,609.8 105.5,612.8 108.5,616.8 108.5,618.8 109.5,619.8 109.5,626.8 110.5,627.8 110.5,632.8 109.5,633.8 109.5,682.8 110.5,683.8 110.5,686.8 109.5,687.8 109.5,699.8 108.5,700.8 108.5,704.8 109.5,705.8 109.5,709.8Z" fill="#f8e43c" fill-rule="evenodd"/>
<path d="M754.5,1003.8 754.5,1005.8 753.5,1006.8 753.5,1014.8 768.5,1014.8 768.5,1002.8 758.5,1001.8ZM571.5,1010.8 571.5,1014.8 592.5,1014.8 591.5,1013.8 591.5,1009.8 582.5,999.8 579.5,999.8 574.5,1004.8ZM592.5,954.8 590.5,957.8 590.5,960.8 589.5,961.8 589.5,963.8 591.5,966.8 593.5,967.8 604.5,967.8 606.5,966.8 608.5,962.8 608.5,958.8 607.5,957.8 607.5,955.8 603.5,952.8 596.5,952.8ZM97.5,952.8 92.5,951.8 88.5,953.8 85.5,959.8 80.5,964.8 77.5,964.8 77.5,983.8 79.5,983.8 86.5,979.8 96.5,967.8 99.5,961.8 99.5,954.8ZM464.5,984.8 463.5,983.8 460.5,968.8 459.5,967.8 458.5,962.8 456.5,959.8 456.5,957.8 450.5,946.8 445.5,942.8 440.5,942.8 434.5,945.8 432.5,947.8 425.5,950.8 420.5,950.8 419.5,949.8 410.5,948.8 397.5,942.8 391.5,942.8 386.5,944.8 383.5,947.8 381.5,953.8 376.5,959.8 364.5,965.8 362.5,965.8 358.5,962.8 354.5,952.8 349.5,947.8 344.5,947.8 335.5,957.8 330.5,959.8 322.5,960.8 319.5,962.8 318.5,964.8 306.5,976.8 304.5,981.8 304.5,984.8 303.5,985.8 302.5,994.8 298.5,1003.8 295.5,1007.8 294.5,1014.8 460.5,1014.8 460.5,1002.8 461.5,1001.8 461.5,997.8 464.5,990.8ZM486.5,931.8 483.5,934.8 483.5,945.8 485.5,948.8 491.5,948.8 495.5,944.8 496.5,940.8 494.5,935.8 492.5,933.8ZM736.5,923.8 743.5,920.8 746.5,920.8 753.5,923.8 756.5,926.8 760.5,934.8 760.5,942.8 758.5,946.8 754.5,950.8 752.5,950.8 751.5,951.8 740.5,950.8 731.5,946.8 729.5,944.8 729.5,942.8 728.5,941.8 729.5,933.8 732.5,927.8ZM118.5,919.8 116.5,919.8 112.5,922.8 112.5,924.8 111.5,925.8 111.5,930.8 110.5,931.8 111.5,936.8 113.5,936.8 115.5,934.8 119.5,926.8 120.5,921.8ZM305.5,912.8 303.5,915.8 302.5,923.8 301.5,924.8 301.5,933.8 302.5,934.8 302.5,936.8 304.5,938.8 307.5,938.8 310.5,933.8 310.5,920.8 307.5,913.8ZM510.5,901.8 507.5,905.8 507.5,913.8 509.5,917.8 511.5,919.8 513.5,919.8 515.5,918.8 517.5,915.8 517.5,913.8 518.5,912.8 518.5,906.8 517.5,905.8 517.5,903.8 515.5,901.8ZM332.5,900.8 331.5,902.8 331.5,909.8 332.5,911.8 335.5,914.8 341.5,914.8 345.5,911.8 345.5,905.8 344.5,903.8 341.5,900.8 339.5,900.8 338.5,899.8 334.5,899.8ZM473.5,901.8 471.5,899.8 466.5,897.8 461.5,897.8 460.5,898.8 458.5,898.8 455.5,901.8 453.5,905.8 453.5,907.8 450.5,914.8 450.5,920.8 451.5,921.8 456.5,922.8 457.5,921.8 469.5,921.8 474.5,919.8 475.5,918.8 475.5,906.8ZM717.5,874.8 715.5,875.8 711.5,881.8 707.5,889.8 707.5,891.8 705.5,894.8 704.5,899.8 701.5,905.8 684.5,924.8 681.5,925.8 676.5,929.8 673.5,935.8 672.5,940.8 664.5,953.8 664.5,961.8 669.5,973.8 670.5,985.8 673.5,990.8 682.5,998.8 685.5,1006.8 685.5,1014.8 702.5,1014.8 702.5,1012.8 701.5,1011.8 701.5,998.8 700.5,997.8 701.5,988.8 702.5,987.8 703.5,982.8 705.5,979.8 710.5,962.8 715.5,952.8 720.5,947.8 722.5,946.8 726.5,946.8 728.5,948.8 730.5,958.8 733.5,965.8 738.5,970.8 746.5,975.8 748.5,975.8 749.5,976.8 751.5,975.8 760.5,965.8 764.5,963.8 768.5,963.8 768.5,899.8 760.5,899.8 748.5,905.8 742.5,906.8 741.5,907.8 735.5,907.8 734.5,906.8 732.5,906.8 730.5,905.8 725.5,899.8 721.5,879.8ZM110.5,873.8 112.5,879.8 115.5,881.8 121.5,881.8 125.5,878.8 125.5,876.8 126.5,875.8 126.5,873.8 124.5,871.8 112.5,871.8ZM278.5,866.8 275.5,869.8 275.5,871.8 274.5,872.8 274.5,878.8 276.5,883.8 278.5,885.8 281.5,885.8 285.5,880.8 285.5,872.8 284.5,871.8 284.5,869.8 281.5,866.8ZM434.5,867.8 433.5,870.8 439.5,875.8 444.5,875.8 447.5,872.8 447.5,869.8 442.5,865.8 438.5,865.8ZM241.5,863.8 238.5,866.8 238.5,868.8 237.5,869.8 237.5,880.8 240.5,883.8 246.5,883.8 250.5,879.8 250.5,877.8 251.5,876.8 251.5,869.8 247.5,864.8 245.5,863.8ZM391.5,855.8 390.5,856.8 390.5,859.8 392.5,859.8 392.5,856.8ZM165.5,846.8 163.5,848.8 161.5,853.8 161.5,866.8 163.5,869.8 168.5,869.8 171.5,867.8 173.5,863.8 173.5,855.8 172.5,854.8 171.5,849.8 168.5,846.8ZM542.5,844.8 539.5,848.8 539.5,857.8 540.5,858.8 540.5,860.8 548.5,869.8 554.5,872.8 557.5,870.8 561.5,865.8 560.5,858.8 556.5,850.8 551.5,845.8 549.5,845.8 548.5,844.8ZM77.5,844.8 77.5,869.8 78.5,868.8 98.5,868.8 103.5,866.8 102.5,857.8 100.5,854.8 99.5,850.8 95.5,846.8 91.5,844.8 86.5,844.8 85.5,843.8ZM586.5,833.8 581.5,837.8 581.5,841.8 580.5,842.8 580.5,855.8 579.5,857.8 580.5,858.8 580.5,860.8 583.5,863.8 592.5,867.8 597.5,867.8 601.5,865.8 604.5,861.8 604.5,859.8 605.5,858.8 605.5,853.8 604.5,852.8 602.5,844.8 598.5,837.8 594.5,834.8 592.5,834.8 591.5,833.8ZM224.5,827.8 221.5,829.8 219.5,833.8 219.5,835.8 218.5,836.8 218.5,844.8 222.5,850.8 226.5,852.8 230.5,852.8 232.5,850.8 232.5,848.8 233.5,847.8 233.5,837.8 230.5,830.8 228.5,828.8ZM423.5,818.8 423.5,825.8 426.5,830.8 430.5,832.8 437.5,832.8 439.5,831.8 440.5,829.8 439.5,828.8 439.5,826.8 435.5,821.8 431.5,818.8 426.5,816.8ZM520.5,795.8 516.5,797.8 512.5,801.8 511.5,806.8 512.5,807.8 512.5,809.8 517.5,814.8 521.5,816.8 525.5,816.8 527.5,814.8 529.5,809.8 529.5,800.8 525.5,795.8ZM120.5,799.8 116.5,796.8 114.5,796.8 113.5,795.8 108.5,795.8 107.5,794.8 77.5,795.8 77.5,828.8 82.5,826.8 92.5,817.8 112.5,810.8 119.5,803.8ZM330.5,792.8 329.5,793.8 329.5,795.8 330.5,796.8 332.5,796.8 333.5,795.8 333.5,793.8 332.5,792.8ZM237.5,762.8 236.5,762.8 233.5,766.8 233.5,775.8 232.5,776.8 232.5,778.8 230.5,781.8 219.5,791.8 217.5,796.8 217.5,800.8 220.5,807.8 227.5,813.8 231.5,813.8 235.5,809.8 236.5,804.8 237.5,803.8 237.5,785.8 236.5,784.8 236.5,777.8 239.5,770.8 239.5,764.8ZM77.5,748.8 77.5,758.8 80.5,758.8 86.5,754.8 87.5,752.8 87.5,750.8 86.5,749.8ZM264.5,716.8 260.5,722.8 260.5,737.8 263.5,744.8 267.5,745.8 270.5,741.8 271.5,731.8 270.5,730.8 270.5,725.8 269.5,724.8 268.5,719.8ZM573.5,712.8 571.5,714.8 571.5,717.8 570.5,718.8 571.5,723.8 578.5,730.8 584.5,742.8 589.5,746.8 595.5,746.8 597.5,745.8 610.5,728.8 609.5,724.8 607.5,723.8 602.5,723.8 601.5,724.8 589.5,724.8 583.5,719.8 579.5,713.8 577.5,712.8ZM477.5,687.8 470.5,688.8 462.5,693.8 460.5,696.8 460.5,699.8 459.5,700.8 460.5,701.8 460.5,704.8 462.5,706.8 468.5,706.8 472.5,703.8 477.5,693.8 477.5,690.8 478.5,689.8ZM428.5,667.8 426.5,667.8 421.5,672.8 415.5,684.8 405.5,693.8 401.5,700.8 396.5,705.8 388.5,708.8 382.5,709.8 376.5,712.8 372.5,716.8 372.5,724.8 375.5,728.8 377.5,729.8 384.5,729.8 385.5,728.8 392.5,727.8 398.5,724.8 407.5,716.8 420.5,712.8 427.5,706.8 431.5,698.8 437.5,690.8 437.5,683.8 436.5,682.8 436.5,680.8 431.5,670.8ZM310.5,623.8 308.5,624.8 306.5,627.8 306.5,635.8 309.5,639.8 313.5,640.8 317.5,635.8 317.5,627.8 316.5,625.8 312.5,623.8ZM491.5,579.8 491.5,583.8 490.5,584.8 490.5,588.8 489.5,589.8 489.5,593.8 488.5,594.8 488.5,602.8 495.5,617.8 495.5,620.8 496.5,621.8 496.5,628.8 495.5,629.8 494.5,634.8 492.5,636.8 489.5,643.8 489.5,656.8 488.5,657.8 488.5,660.8 482.5,672.8 480.5,684.8 483.5,686.8 486.5,686.8 493.5,690.8 499.5,697.8 501.5,701.8 501.5,703.8 502.5,704.8 502.5,710.8 499.5,718.8 494.5,725.8 494.5,731.8 500.5,739.8 502.5,740.8 508.5,740.8 516.5,743.8 518.5,745.8 521.5,751.8 521.5,754.8 524.5,760.8 529.5,765.8 537.5,769.8 543.5,770.8 544.5,771.8 550.5,771.8 558.5,768.8 560.5,766.8 561.5,763.8 556.5,757.8 554.5,756.8 539.5,755.8 533.5,752.8 527.5,744.8 527.5,724.8 528.5,723.8 528.5,717.8 531.5,711.8 539.5,704.8 542.5,698.8 542.5,696.8 548.5,689.8 553.5,688.8 554.5,687.8 556.5,688.8 567.5,688.8 579.5,682.8 585.5,682.8 591.5,688.8 591.5,689.8 598.5,695.8 607.5,696.8 618.5,700.8 626.5,707.8 630.5,709.8 635.5,715.8 635.5,717.8 636.5,718.8 636.5,727.8 635.5,728.8 634.5,742.8 633.5,743.8 633.5,752.8 632.5,753.8 632.5,760.8 631.5,762.8 632.5,763.8 632.5,766.8 634.5,769.8 636.5,770.8 639.5,770.8 647.5,762.8 650.5,755.8 651.5,747.8 652.5,746.8 653.5,741.8 656.5,737.8 662.5,734.8 670.5,733.8 671.5,732.8 679.5,732.8 683.5,734.8 690.5,742.8 693.5,748.8 694.5,754.8 696.5,759.8 698.5,761.8 701.5,761.8 705.5,756.8 707.5,746.8 709.5,743.8 710.5,739.8 716.5,732.8 720.5,730.8 724.5,730.8 725.5,729.8 733.5,729.8 739.5,726.8 745.5,720.8 748.5,720.8 751.5,723.8 754.5,729.8 754.5,731.8 756.5,734.8 756.5,736.8 758.5,739.8 758.5,741.8 760.5,745.8 760.5,761.8 759.5,762.8 759.5,766.8 757.5,771.8 754.5,774.8 750.5,776.8 736.5,776.8 732.5,779.8 730.5,782.8 730.5,784.8 728.5,788.8 728.5,791.8 727.5,792.8 727.5,801.8 735.5,803.8 740.5,807.8 741.5,809.8 741.5,823.8 743.5,825.8 750.5,827.8 761.5,834.8 768.5,835.8 768.5,579.8 526.5,579.8 525.5,581.8 525.5,588.8 522.5,595.8 517.5,600.8 513.5,602.8 506.5,602.8 505.5,601.8 503.5,601.8 499.5,598.8 495.5,592.8 495.5,590.8 492.5,584.8 492.5,579.8ZM187.5,579.8 188.5,589.8 192.5,595.8 208.5,595.8 211.5,598.8 212.5,600.8 212.5,617.8 214.5,619.8 221.5,619.8 233.5,612.8 250.5,612.8 251.5,611.8 255.5,611.8 259.5,608.8 261.5,604.8 262.5,597.8 261.5,596.8 261.5,590.8 260.5,589.8 260.5,585.8 259.5,584.8 259.5,579.8Z" fill="#ffc000" fill-rule="evenodd"/>
<path d="M310.5,987.8 310.5,999.8 312.5,1004.8 313.5,1014.8 393.5,1014.8 393.5,1010.8 394.5,1009.8 395.5,1004.8 405.5,993.8 408.5,988.8 408.5,984.8 409.5,983.8 409.5,971.8 408.5,970.8 408.5,966.8 405.5,963.8 395.5,961.8 382.5,966.8 379.5,966.8 378.5,967.8 373.5,968.8 362.5,974.8 356.5,975.8 353.5,973.8 348.5,963.8 344.5,961.8 329.5,968.8 317.5,980.8 313.5,982.8ZM742.5,959.8 741.5,961.8 742.5,962.8 744.5,962.8 745.5,961.8ZM440.5,950.8 438.5,951.8 434.5,956.8 434.5,965.8 435.5,966.8 436.5,976.8 437.5,977.8 436.5,978.8 436.5,1011.8 437.5,1012.8 437.5,1014.8 452.5,1014.8 452.5,997.8 451.5,996.8 452.5,967.8 451.5,966.8 450.5,958.8 448.5,954.8 444.5,950.8ZM710.5,910.8 707.5,910.8 701.5,914.8 696.5,920.8 695.5,923.8 690.5,928.8 683.5,930.8 678.5,934.8 676.5,938.8 675.5,943.8 669.5,954.8 669.5,959.8 674.5,967.8 676.5,975.8 678.5,979.8 681.5,981.8 686.5,981.8 690.5,978.8 697.5,975.8 703.5,969.8 705.5,965.8 705.5,963.8 708.5,956.8 709.5,949.8 711.5,945.8 711.5,942.8 713.5,937.8 713.5,933.8 714.5,932.8 714.5,922.8 713.5,921.8 713.5,916.8ZM767.5,904.8 766.5,905.8 762.5,905.8 758.5,907.8 753.5,913.8 754.5,914.8 754.5,916.8 760.5,922.8 763.5,927.8 767.5,931.8 768.5,931.8 768.5,904.8ZM463.5,902.8 459.5,905.8 458.5,911.8 459.5,913.8 462.5,915.8 467.5,915.8 469.5,914.8 470.5,912.8 470.5,906.8 469.5,904.8 465.5,902.8ZM279.5,872.8 278.5,873.8 278.5,876.8 280.5,877.8 281.5,876.8 281.5,873.8ZM243.5,868.8 241.5,871.8 241.5,877.8 242.5,878.8 245.5,878.8 248.5,874.8 248.5,871.8 246.5,868.8ZM165.5,850.8 163.5,854.8 163.5,863.8 165.5,865.8 168.5,865.8 170.5,863.8 171.5,856.8 169.5,851.8 168.5,850.8ZM89.5,850.8 85.5,855.8 85.5,859.8 88.5,862.8 95.5,862.8 97.5,861.8 97.5,854.8 95.5,851.8 93.5,850.8ZM546.5,849.8 544.5,851.8 544.5,856.8 547.5,859.8 550.5,860.8 552.5,859.8 553.5,857.8 552.5,852.8 550.5,850.8ZM524.5,800.8 521.5,800.8 518.5,803.8 518.5,808.8 522.5,811.8 525.5,809.8 525.5,807.8 526.5,806.8 526.5,804.8ZM77.5,819.8 78.5,818.8 84.5,817.8 91.5,812.8 104.5,806.8 106.5,804.8 106.5,802.8 91.5,801.8 90.5,800.8 77.5,800.8ZM233.5,786.8 228.5,787.8 221.5,795.8 221.5,800.8 223.5,804.8 228.5,807.8 232.5,806.8 235.5,801.8 235.5,790.8ZM740.5,783.8 737.5,784.8 737.5,788.8 739.5,789.8 742.5,787.8 742.5,784.8ZM530.5,757.8 530.5,759.8 536.5,764.8 538.5,764.8 539.5,765.8 544.5,765.8 546.5,763.8 543.5,760.8 537.5,759.8 533.5,757.8ZM597.5,733.8 592.5,733.8 590.5,735.8 591.5,738.8 594.5,738.8 596.5,736.8ZM264.5,726.8 263.5,727.8 263.5,735.8 264.5,737.8 266.5,738.8 267.5,736.8 267.5,729.8 266.5,727.8ZM766.5,717.8 765.5,718.8 763.5,718.8 760.5,721.8 759.5,728.8 762.5,736.8 765.5,739.8 768.5,740.8 768.5,717.8ZM392.5,716.8 390.5,714.8 384.5,715.8 378.5,720.8 378.5,723.8 379.5,724.8 384.5,724.8 385.5,723.8 387.5,723.8 391.5,720.8ZM734.5,670.8 736.5,670.8 740.5,672.8 743.5,676.8 743.5,682.8 740.5,685.8 735.5,685.8 730.5,679.8 730.5,673.8ZM492.5,670.8 492.5,675.8 502.5,689.8 507.5,694.8 510.5,700.8 510.5,704.8 503.5,722.8 503.5,730.8 504.5,732.8 508.5,735.8 514.5,736.8 515.5,737.8 521.5,737.8 523.5,734.8 523.5,729.8 524.5,728.8 524.5,723.8 523.5,722.8 523.5,716.8 521.5,711.8 521.5,705.8 524.5,701.8 528.5,699.8 533.5,694.8 536.5,686.8 541.5,681.8 547.5,678.8 553.5,678.8 556.5,680.8 558.5,680.8 562.5,682.8 569.5,682.8 579.5,677.8 586.5,676.8 591.5,678.8 593.5,680.8 596.5,687.8 599.5,690.8 603.5,692.8 617.5,694.8 624.5,697.8 634.5,699.8 642.5,705.8 646.5,712.8 646.5,717.8 645.5,718.8 645.5,721.8 641.5,727.8 637.5,737.8 637.5,744.8 636.5,746.8 637.5,747.8 637.5,752.8 639.5,755.8 641.5,756.8 646.5,752.8 649.5,739.8 653.5,733.8 655.5,732.8 660.5,732.8 661.5,731.8 666.5,731.8 667.5,730.8 675.5,729.8 676.5,728.8 682.5,729.8 685.5,731.8 696.5,743.8 701.5,744.8 704.5,740.8 711.5,725.8 711.5,723.8 710.5,722.8 710.5,713.8 715.5,708.8 721.5,705.8 723.5,705.8 733.5,701.8 737.5,701.8 738.5,700.8 740.5,700.8 741.5,701.8 753.5,701.8 754.5,700.8 759.5,700.8 760.5,699.8 768.5,699.8 768.5,579.8 532.5,579.8 531.5,580.8 531.5,586.8 530.5,587.8 530.5,589.8 521.5,607.8 522.5,624.8 518.5,634.8 516.5,645.8 515.5,647.8 511.5,650.8 508.5,650.8 507.5,649.8 500.5,649.8 498.5,650.8 495.5,657.8 495.5,660.8 493.5,665.8 493.5,669.8ZM233.5,579.8 231.5,585.8 221.5,596.8 220.5,602.8 219.5,603.8 219.5,608.8 221.5,611.8 227.5,611.8 228.5,610.8 232.5,610.8 233.5,609.8 250.5,609.8 251.5,608.8 253.5,608.8 257.5,604.8 257.5,600.8 258.5,599.8 257.5,598.8 257.5,594.8 253.5,587.8 251.5,579.8Z" fill="#ff9a00" fill-rule="evenodd"/>
<path d="M393.5,980.8 389.5,977.8 385.5,976.8 382.5,974.8 374.5,974.8 369.5,976.8 362.5,981.8 342.5,1002.8 340.5,1007.8 340.5,1014.8 364.5,1014.8 365.5,1008.8 370.5,1002.8 376.5,1001.8 377.5,1000.8 382.5,1000.8 383.5,999.8 385.5,999.8 389.5,996.8 392.5,992.8 394.5,987.8 394.5,982.8ZM685.5,941.8 684.5,942.8 684.5,947.8 686.5,952.8 687.5,960.8 690.5,963.8 696.5,963.8 701.5,957.8 701.5,948.8 696.5,944.8 690.5,943.8ZM231.5,792.8 229.5,792.8 226.5,795.8 226.5,799.8 228.5,801.8 230.5,801.8 232.5,799.8 232.5,793.8ZM512.5,717.8 509.5,721.8 509.5,726.8 511.5,729.8 516.5,730.8 518.5,728.8 518.5,721.8 515.5,717.8ZM506.5,663.8 504.5,665.8 504.5,673.8 506.5,678.8 511.5,683.8 513.5,684.8 517.5,684.8 520.5,680.8 520.5,676.8 517.5,668.8 514.5,665.8 510.5,663.8ZM228.5,600.8 228.5,603.8 230.5,605.8 234.5,605.8 235.5,606.8 248.5,606.8 253.5,602.8 253.5,597.8 248.5,591.8 246.5,590.8 239.5,590.8 231.5,595.8ZM530.5,604.8 530.5,622.8 529.5,623.8 529.5,626.8 524.5,636.8 524.5,645.8 526.5,649.8 534.5,656.8 537.5,661.8 543.5,667.8 553.5,669.8 564.5,676.8 571.5,676.8 583.5,670.8 586.5,670.8 594.5,667.8 599.5,661.8 603.5,652.8 607.5,649.8 609.5,649.8 610.5,648.8 644.5,648.8 645.5,649.8 650.5,649.8 651.5,648.8 664.5,647.8 669.5,649.8 671.5,651.8 671.5,653.8 672.5,654.8 672.5,657.8 669.5,664.8 666.5,668.8 652.5,681.8 651.5,681.8 646.5,687.8 646.5,694.8 647.5,696.8 657.5,708.8 656.5,724.8 659.5,727.8 668.5,727.8 678.5,722.8 682.5,721.8 684.5,722.8 694.5,733.8 698.5,733.8 700.5,731.8 700.5,725.8 699.5,723.8 694.5,720.8 688.5,720.8 686.5,719.8 683.5,715.8 684.5,711.8 690.5,706.8 692.5,706.8 693.5,705.8 701.5,705.8 702.5,706.8 709.5,705.8 717.5,701.8 719.5,701.8 727.5,696.8 729.5,692.8 729.5,690.8 728.5,689.8 728.5,686.8 724.5,679.8 723.5,673.8 722.5,672.8 722.5,669.8 725.5,665.8 727.5,664.8 736.5,664.8 737.5,665.8 741.5,665.8 744.5,667.8 746.5,667.8 749.5,669.8 752.5,669.8 753.5,670.8 756.5,670.8 757.5,669.8 768.5,669.8 768.5,579.8 562.5,579.8 562.5,585.8 558.5,591.8 556.5,592.8 541.5,592.8 540.5,593.8 538.5,593.8 533.5,597.8Z" fill="#ff7010" fill-rule="evenodd"/>
<path d="M380.5,983.8 376.5,981.8 374.5,981.8 370.5,983.8 367.5,987.8 367.5,992.8 369.5,993.8 375.5,993.8 376.5,992.8 378.5,992.8 381.5,989.8 381.5,985.8ZM659.5,689.8 659.5,693.8 661.5,696.8 668.5,702.8 672.5,704.8 679.5,704.8 689.5,700.8 708.5,700.8 709.5,699.8 712.5,699.8 718.5,696.8 722.5,692.8 722.5,690.8 723.5,689.8 722.5,688.8 721.5,682.8 717.5,676.8 710.5,670.8 704.5,669.8 703.5,668.8 697.5,668.8 696.5,669.8 695.5,668.8 688.5,668.8 687.5,667.8 682.5,667.8 676.5,670.8 663.5,682.8 660.5,686.8 660.5,688.8ZM541.5,600.8 537.5,604.8 537.5,606.8 536.5,607.8 536.5,627.8 533.5,635.8 533.5,640.8 534.5,642.8 542.5,651.8 542.5,652.8 549.5,659.8 556.5,661.8 564.5,665.8 566.5,667.8 572.5,667.8 585.5,661.8 589.5,657.8 589.5,655.8 590.5,654.8 589.5,645.8 588.5,644.8 588.5,641.8 587.5,640.8 586.5,635.8 563.5,611.8 561.5,606.8 558.5,602.8 550.5,599.8 544.5,599.8 543.5,600.8ZM743.5,579.8 742.5,586.8 738.5,590.8 729.5,595.8 725.5,601.8 722.5,611.8 719.5,615.8 714.5,626.8 714.5,638.8 716.5,643.8 724.5,654.8 730.5,658.8 732.5,658.8 733.5,659.8 738.5,659.8 739.5,660.8 750.5,660.8 751.5,661.8 768.5,661.8 768.5,579.8ZM659.5,579.8 659.5,584.8 657.5,589.8 646.5,600.8 645.5,602.8 645.5,609.8 646.5,611.8 652.5,614.8 654.5,614.8 655.5,613.8 666.5,613.8 668.5,614.8 671.5,618.8 672.5,622.8 676.5,629.8 684.5,632.8 687.5,632.8 692.5,630.8 696.5,626.8 698.5,622.8 699.5,615.8 700.5,614.8 700.5,607.8 699.5,606.8 699.5,603.8 697.5,600.8 692.5,597.8 686.5,591.8 685.5,589.8 685.5,585.8 684.5,584.8 684.5,579.8ZM633.5,579.8 590.5,579.8 589.5,624.8 590.5,625.8 590.5,627.8 592.5,629.8 598.5,629.8 602.5,625.8 604.5,621.8 604.5,619.8 609.5,611.8 614.5,606.8 626.5,598.8 631.5,593.8 633.5,588.8Z" fill="#ff4010" fill-rule="evenodd"/>
<path d="M672.5,686.8 672.5,692.8 677.5,696.8 684.5,696.8 685.5,695.8 691.5,695.8 692.5,694.8 705.5,695.8 706.5,694.8 712.5,693.8 715.5,690.8 715.5,685.8 711.5,681.8 709.5,680.8 705.5,680.8 704.5,679.8 683.5,679.8 682.5,680.8 677.5,681.8ZM565.5,628.8 558.5,629.8 552.5,632.8 548.5,636.8 548.5,643.8 549.5,644.8 549.5,646.8 555.5,651.8 563.5,651.8 564.5,650.8 574.5,647.8 575.5,645.8 575.5,640.8 574.5,639.8 574.5,637.8 572.5,634.8ZM768.5,597.8 758.5,597.8 757.5,596.8 743.5,597.8 735.5,600.8 731.5,604.8 729.5,609.8 728.5,616.8 727.5,617.8 726.5,625.8 725.5,626.8 725.5,634.8 726.5,635.8 726.5,638.8 729.5,644.8 729.5,646.8 733.5,651.8 737.5,653.8 741.5,653.8 749.5,650.8 753.5,645.8 754.5,638.8 756.5,634.8 762.5,629.8 768.5,629.8ZM602.5,579.8 602.5,587.8 603.5,588.8 603.5,592.8 606.5,596.8 613.5,596.8 621.5,593.8 626.5,588.8 626.5,586.8 627.5,585.8 627.5,579.8Z" fill="#f80808" fill-rule="evenodd"/>
<clipPath id="hclipC"><path d="M755.5,1002.8 755.5,1013.8 768.5,1013.8 768.5,1001.8 756.5,1001.8ZM579.5,999.8 575.5,1007.8 575.5,1013.8 592.5,1013.8 591.5,1009.8 587.5,1003.8 581.5,998.8ZM724.5,983.8 723.5,990.8 727.5,996.8 732.5,996.8 735.5,993.8 734.5,985.8 729.5,982.8ZM489.5,972.8 490.5,975.8 492.5,976.8 500.5,976.8 503.5,974.8 504.5,971.8 500.5,966.8 495.5,966.8ZM601.5,952.8 600.5,951.8 595.5,952.8 591.5,955.8 591.5,957.8 593.5,959.8 598.5,959.8 600.5,957.8ZM206.5,951.8 205.5,956.8 206.5,958.8 209.5,958.8 209.5,953.8 208.5,951.8ZM97.5,951.8 89.5,952.8 85.5,960.8 82.5,963.8 77.5,964.8 77.5,979.8 84.5,978.8 89.5,973.8 92.5,966.8 99.5,962.8 100.5,955.8ZM541.5,951.8 539.5,950.8 532.5,951.8 517.5,971.8 511.5,982.8 509.5,992.8 502.5,1006.8 501.5,1013.8 543.5,1013.8 543.5,1006.8 545.5,1002.8 556.5,991.8 558.5,987.8 558.5,983.8 551.5,973.8 548.5,967.8 546.5,959.8ZM465.5,987.8 458.5,963.8 453.5,959.8 447.5,948.8 442.5,945.8 434.5,945.8 428.5,949.8 421.5,950.8 407.5,947.8 398.5,942.8 390.5,942.8 384.5,945.8 380.5,955.8 375.5,960.8 365.5,965.8 359.5,964.8 352.5,949.8 346.5,946.8 334.5,958.8 320.5,961.8 307.5,974.8 304.5,980.8 302.5,994.8 298.5,1002.8 298.5,1013.8 460.5,1013.8 460.5,1002.8ZM77.5,935.8 77.5,940.8 78.5,940.8 79.5,937.8ZM488.5,931.8 484.5,931.8 482.5,938.8 483.5,942.8 488.5,941.8 490.5,938.8 490.5,933.8ZM571.5,928.8 568.5,928.8 564.5,931.8 561.5,939.8 561.5,953.8 565.5,960.8 569.5,960.8 573.5,956.8 578.5,947.8 578.5,936.8 576.5,932.8ZM98.5,917.8 93.5,917.8 91.5,919.8 90.5,925.8 92.5,932.8 101.5,923.8 100.5,919.8ZM307.5,912.8 303.5,912.8 301.5,926.8 306.5,925.8 310.5,921.8ZM508.5,902.8 508.5,905.8 511.5,907.8 514.5,907.8 517.5,904.8 517.5,902.8 514.5,900.8 511.5,900.8ZM340.5,899.8 337.5,898.8 333.5,899.8 330.5,903.8 330.5,906.8 331.5,907.8 336.5,906.8ZM453.5,905.8 456.5,908.8 459.5,909.8 469.5,909.8 472.5,908.8 475.5,905.8 474.5,902.8 470.5,898.8 467.5,897.8 459.5,897.8ZM119.5,897.8 120.5,904.8 124.5,904.8 128.5,900.8 124.5,896.8ZM768.5,898.8 767.5,899.8 757.5,900.8 745.5,906.8 732.5,908.8 728.5,904.8 724.5,896.8 720.5,894.8 715.5,898.8 713.5,903.8 705.5,910.8 696.5,910.8 684.5,924.8 678.5,927.8 675.5,930.8 671.5,942.8 666.5,948.8 663.5,955.8 664.5,962.8 669.5,973.8 670.5,985.8 672.5,989.8 680.5,995.8 683.5,992.8 686.5,985.8 693.5,979.8 705.5,979.8 710.5,962.8 713.5,956.8 713.5,952.8 718.5,946.8 726.5,946.8 728.5,948.8 730.5,959.8 733.5,966.8 737.5,970.8 747.5,976.8 750.5,976.8 753.5,973.8 756.5,967.8 761.5,962.8 768.5,961.8 768.5,945.8 758.5,945.8 754.5,950.8 745.5,951.8 735.5,948.8 729.5,943.8 730.5,931.8 733.5,926.8 740.5,921.8 746.5,920.8 753.5,923.8 756.5,926.8 768.5,926.8ZM391.5,884.8 389.5,890.8 390.5,895.8 393.5,900.8 397.5,903.8 411.5,909.8 419.5,908.8 422.5,905.8 421.5,900.8 414.5,898.8 407.5,893.8 403.5,883.8 400.5,880.8 396.5,880.8ZM569.5,880.8 566.5,885.8 566.5,890.8 573.5,896.8 575.5,900.8 575.5,905.8 588.5,918.8 587.5,930.8 586.5,931.8 588.5,937.8 590.5,932.8 595.5,927.8 600.5,926.8 609.5,927.8 615.5,932.8 617.5,938.8 617.5,944.8 624.5,958.8 630.5,964.8 635.5,966.8 640.5,966.8 647.5,963.8 652.5,954.8 653.5,945.8 657.5,934.8 656.5,927.8 647.5,927.8 643.5,932.8 637.5,933.8 633.5,931.8 622.5,921.8 611.5,915.8 606.5,910.8 606.5,907.8 603.5,903.8 603.5,899.8 610.5,892.8 612.5,885.8 612.5,882.8 610.5,880.8 604.5,880.8 599.5,882.8 593.5,882.8 582.5,878.8 573.5,878.8ZM126.5,876.8 124.5,876.8 119.5,882.8 123.5,881.8ZM251.5,874.8 245.5,879.8 243.5,884.8 249.5,881.8 251.5,877.8ZM211.5,871.8 214.5,874.8 216.5,880.8 213.5,888.8 203.5,897.8 197.5,899.8 194.5,898.8 188.5,892.8 185.5,884.8 186.5,877.8 189.5,874.8 198.5,871.8 203.5,871.8 204.5,870.8ZM436.5,865.8 442.5,873.8 445.5,874.8 447.5,873.8 447.5,868.8 444.5,865.8ZM278.5,865.8 276.5,866.8 274.5,870.8 274.5,880.8 276.5,884.8 280.5,886.8 283.5,884.8 284.5,880.8 284.5,869.8 282.5,866.8ZM182.5,858.8 182.5,871.8 181.5,873.8 176.5,877.8 169.5,880.8 163.5,886.8 157.5,898.8 157.5,902.8 161.5,909.8 198.5,909.8 204.5,914.8 207.5,921.8 208.5,931.8 215.5,940.8 218.5,947.8 220.5,959.8 226.5,973.8 225.5,980.8 221.5,983.8 218.5,983.8 207.5,977.8 200.5,971.8 185.5,941.8 185.5,927.8 172.5,927.8 177.5,936.8 177.5,943.8 174.5,946.8 166.5,946.8 162.5,944.8 152.5,933.8 144.5,931.8 134.5,931.8 132.5,932.8 132.5,942.8 135.5,944.8 140.5,945.8 145.5,950.8 146.5,961.8 150.5,969.8 160.5,981.8 160.5,991.8 156.5,996.8 152.5,998.8 143.5,998.8 138.5,996.8 131.5,996.8 130.5,997.8 125.5,996.8 119.5,988.8 118.5,971.8 113.5,964.8 111.5,965.8 109.5,970.8 108.5,982.8 105.5,990.8 105.5,1013.8 278.5,1013.8 279.5,993.8 281.5,985.8 281.5,970.8 280.5,969.8 280.5,951.8 282.5,945.8 281.5,935.8 270.5,925.8 261.5,907.8 256.5,900.8 251.5,898.8 245.5,898.8 237.5,896.8 227.5,889.8 223.5,882.8 221.5,871.8 206.5,858.8ZM173.5,858.8 165.5,859.8 161.5,864.8 162.5,869.8 164.5,870.8 169.5,869.8 173.5,864.8ZM541.5,844.8 538.5,851.8 539.5,857.8 545.5,861.8 550.5,871.8 553.5,873.8 561.5,866.8 562.5,863.8 556.5,849.8 553.5,846.8 546.5,843.8ZM77.5,844.8 77.5,857.8 90.5,857.8 91.5,858.8 92.5,868.8 100.5,868.8 103.5,866.8 100.5,860.8 90.5,857.8 90.5,850.8 86.5,843.8ZM219.5,843.8 218.5,845.8 221.5,850.8 228.5,853.8 228.5,848.8 226.5,844.8 223.5,842.8ZM580.5,840.8 579.5,857.8 592.5,857.8 596.5,856.8 600.5,852.8 601.5,847.8 596.5,841.8ZM106.5,829.8 106.5,834.8 109.5,837.8 113.5,837.8 116.5,834.8 116.5,832.8 114.5,830.8ZM501.5,825.8 495.5,831.8 486.5,851.8 468.5,864.8 465.5,870.8 465.5,874.8 489.5,873.8 496.5,879.8 496.5,881.8 500.5,888.8 507.5,889.8 512.5,888.8 519.5,883.8 523.5,874.8 523.5,865.8 520.5,862.8 511.5,861.8 505.5,856.8 504.5,854.8 504.5,844.8 506.5,840.8 515.5,833.8 515.5,830.8 508.5,825.8ZM437.5,823.8 436.5,833.8 440.5,831.8 440.5,826.8ZM404.5,821.8 400.5,826.8 399.5,833.8 404.5,839.8 411.5,839.8 408.5,832.8 407.5,825.8ZM368.5,818.8 356.5,818.8 354.5,819.8 355.5,850.8 353.5,854.8 348.5,858.8 344.5,857.8 343.5,858.8 330.5,858.8 328.5,861.8 325.5,869.8 325.5,875.8 327.5,880.8 331.5,884.8 348.5,889.8 359.5,889.8 361.5,887.8 374.5,861.8 380.5,840.8 379.5,830.8 374.5,823.8ZM352.5,816.8 348.5,806.8 345.5,806.8 342.5,808.8 334.5,810.8 320.5,809.8 317.5,812.8 316.5,822.8 344.5,822.8ZM522.5,794.8 521.5,798.8 523.5,802.8 529.5,807.8 528.5,797.8 526.5,795.8ZM117.5,796.8 109.5,794.8 91.5,794.8 91.5,804.8 90.5,805.8 77.5,805.8 77.5,822.8 81.5,822.8 87.5,819.8 90.5,812.8 90.5,805.8 91.5,804.8 111.5,804.8 115.5,801.8ZM539.5,792.8 539.5,815.8 540.5,819.8 546.5,828.8 552.5,832.8 558.5,834.8 562.5,834.8 564.5,832.8 566.5,822.8 569.5,819.8 580.5,819.8 581.5,820.8 592.5,819.8 602.5,822.8 608.5,822.8 612.5,824.8 621.5,834.8 624.5,834.8 628.5,830.8 630.5,825.8 638.5,817.8 640.5,811.8 638.5,802.8 626.5,790.8 623.5,791.8 621.5,803.8 617.5,808.8 605.5,808.8 594.5,802.8 583.5,800.8 577.5,796.8 574.5,790.8 571.5,787.8 562.5,787.8 557.5,789.8 541.5,788.8ZM240.5,766.8 232.5,774.8 232.5,777.8 229.5,781.8 230.5,798.8 236.5,805.8 237.5,805.8 237.5,800.8 238.5,799.8 237.5,776.8 240.5,769.8ZM458.5,753.8 454.5,753.8 452.5,755.8 444.5,769.8 442.5,778.8 439.5,784.8 428.5,793.8 429.5,800.8 453.5,824.8 455.5,832.8 454.5,835.8 449.5,840.8 445.5,842.8 429.5,846.8 423.5,845.8 424.5,851.8 426.5,853.8 432.5,852.8 439.5,854.8 455.5,854.8 459.5,851.8 465.5,819.8 474.5,801.8 474.5,793.8 473.5,790.8 465.5,781.8 463.5,777.8 465.5,770.8 465.5,761.8 462.5,756.8ZM674.5,744.8 667.5,745.8 663.5,752.8 663.5,769.8 660.5,778.8 661.5,795.8 660.5,796.8 660.5,803.8 658.5,812.8 658.5,831.8 657.5,834.8 652.5,839.8 649.5,848.8 644.5,854.8 636.5,858.8 627.5,859.8 621.5,865.8 621.5,871.8 631.5,881.8 633.5,886.8 635.5,900.8 637.5,904.8 642.5,909.8 666.5,909.8 671.5,903.8 671.5,896.8 667.5,887.8 667.5,883.8 669.5,879.8 675.5,875.8 694.5,873.8 697.5,870.8 699.5,864.8 699.5,860.8 697.5,858.8 692.5,856.8 686.5,856.8 680.5,854.8 676.5,850.8 673.5,842.8 673.5,833.8 676.5,823.8 676.5,817.8 669.5,792.8 670.5,787.8 678.5,772.8 680.5,764.8 680.5,752.8 678.5,747.8ZM374.5,742.8 372.5,745.8 372.5,749.8 378.5,760.8 378.5,765.8 369.5,770.8 355.5,771.8 346.5,773.8 344.5,775.8 344.5,781.8 346.5,786.8 350.5,791.8 362.5,788.8 371.5,790.8 376.5,787.8 386.5,787.8 389.5,788.8 394.5,793.8 395.5,799.8 400.5,801.8 404.5,798.8 409.5,786.8 408.5,776.8 398.5,762.8 395.5,755.8 395.5,751.8 392.5,745.8 385.5,741.8ZM539.5,735.8 541.5,740.8 545.5,736.8ZM290.5,735.8 288.5,735.8 286.5,737.8 283.5,750.8 281.5,754.8 274.5,761.8 266.5,766.8 263.5,766.8 256.5,762.8 253.5,763.8 245.5,783.8 245.5,803.8 246.5,807.8 249.5,811.8 255.5,810.8 265.5,800.8 267.5,800.8 271.5,806.8 272.5,818.8 263.5,840.8 260.5,843.8 252.5,844.8 248.5,847.8 249.5,851.8 259.5,859.8 263.5,871.8 266.5,861.8 269.5,856.8 272.5,854.8 284.5,853.8 287.5,851.8 287.5,848.8 279.5,834.8 279.5,827.8 283.5,822.8 292.5,818.8 297.5,813.8 301.5,804.8 310.5,796.8 311.5,792.8 310.5,783.8 308.5,779.8 297.5,767.8 295.5,763.8 294.5,756.8 296.5,749.8 296.5,742.8 294.5,738.8ZM185.5,726.8 186.5,730.8 183.5,738.8 172.5,749.8 167.5,751.8 156.5,751.8 148.5,745.8 148.5,742.8 151.5,738.8 166.5,730.8 175.5,722.8 181.5,722.8ZM342.5,726.8 342.5,730.8 344.5,733.8 352.5,733.8 356.5,731.8 357.5,729.8 355.5,724.8 349.5,722.8 345.5,723.8ZM264.5,719.8 261.5,719.8 259.5,726.8 260.5,738.8 266.5,733.8 269.5,727.8 268.5,723.8ZM249.5,719.8 245.5,723.8 243.5,728.8 243.5,751.8 251.5,755.8 253.5,745.8 252.5,744.8 252.5,735.8ZM77.5,730.8 85.5,729.8 92.5,726.8 95.5,722.8 95.5,719.8 94.5,718.8 77.5,718.8ZM573.5,711.8 570.5,715.8 571.5,724.8 588.5,741.8 590.5,746.8 592.5,747.8 596.5,746.8 602.5,739.8 602.5,723.8 594.5,725.8 589.5,724.8 584.5,720.8 582.5,716.8 579.5,716.8 576.5,711.8ZM477.5,686.8 469.5,688.8 461.5,694.8 459.5,698.8 459.5,703.8 462.5,707.8 465.5,707.8 467.5,703.8 476.5,695.8ZM438.5,685.8 437.5,684.8 414.5,684.8 409.5,689.8 408.5,694.8 405.5,698.8 401.5,699.8 394.5,706.8 382.5,709.8 380.5,718.8 371.5,718.8 372.5,726.8 376.5,729.8 382.5,729.8 380.5,719.8 382.5,717.8 406.5,717.8 424.5,710.8 427.5,707.8 432.5,697.8 438.5,688.8ZM288.5,653.8 285.5,661.8 285.5,673.8 287.5,678.8 291.5,682.8 297.5,682.8 298.5,683.8 298.5,709.8 303.5,713.8 318.5,712.8 325.5,709.8 334.5,703.8 343.5,701.8 348.5,697.8 350.5,692.8 348.5,690.8 341.5,688.8 332.5,688.8 325.5,695.8 317.5,696.8 310.5,691.8 302.5,683.8 298.5,683.8 297.5,682.8 298.5,673.8 302.5,666.8 302.5,660.8 295.5,652.8 290.5,651.8ZM452.5,648.8 451.5,648.8 451.5,655.8 453.5,652.8ZM331.5,638.8 328.5,646.8 328.5,653.8 331.5,659.8 337.5,660.8 339.5,656.8 339.5,643.8 335.5,638.8ZM222.5,637.8 217.5,637.8 212.5,639.8 200.5,651.8 194.5,655.8 192.5,658.8 188.5,671.8 182.5,678.8 179.5,685.8 168.5,695.8 164.5,704.8 160.5,708.8 158.5,713.8 154.5,717.8 147.5,718.8 140.5,724.8 132.5,727.8 129.5,730.8 129.5,735.8 131.5,739.8 130.5,746.8 125.5,751.8 114.5,756.8 106.5,763.8 107.5,766.8 116.5,774.8 118.5,778.8 118.5,782.8 133.5,785.8 140.5,788.8 145.5,792.8 147.5,795.8 147.5,799.8 142.5,807.8 147.5,816.8 151.5,820.8 156.5,819.8 159.5,813.8 158.5,794.8 162.5,789.8 169.5,786.8 182.5,786.8 183.5,787.8 193.5,787.8 196.5,785.8 196.5,780.8 199.5,774.8 203.5,770.8 209.5,769.8 214.5,762.8 214.5,730.8 215.5,725.8 227.5,712.8 229.5,690.8 239.5,680.8 241.5,676.8 240.5,670.8 232.5,668.8 229.5,665.8 226.5,659.8 225.5,654.8 226.5,642.8 225.5,639.8ZM309.5,623.8 306.5,626.8 305.5,633.8 307.5,638.8 312.5,641.8 315.5,640.8 317.5,637.8 318.5,630.8 313.5,626.8 312.5,623.8ZM403.5,614.8 375.5,614.8 370.5,618.8 371.5,622.8 371.5,639.8 370.5,642.8 362.5,651.8 354.5,653.8 354.5,660.8 359.5,664.8 362.5,673.8 366.5,679.8 377.5,681.8 386.5,686.8 388.5,686.8 393.5,677.8 401.5,670.8 406.5,657.8 405.5,619.8ZM291.5,597.8 286.5,599.8 283.5,602.8 280.5,608.8 280.5,620.8 283.5,627.8 286.5,630.8 290.5,629.8 293.5,622.8 295.5,612.8 298.5,606.8 296.5,601.8ZM494.5,601.8 490.5,608.8 495.5,617.8 496.5,627.8 495.5,631.8 489.5,641.8 489.5,657.8 482.5,671.8 480.5,683.8 484.5,683.8 492.5,689.8 499.5,697.8 502.5,703.8 502.5,711.8 498.5,720.8 493.5,726.8 494.5,730.8 498.5,734.8 501.5,735.8 512.5,735.8 518.5,740.8 519.5,743.8 518.5,746.8 520.5,749.8 521.5,755.8 526.5,763.8 536.5,769.8 543.5,771.8 555.5,770.8 552.5,769.8 548.5,764.8 548.5,759.8 551.5,755.8 539.5,755.8 535.5,753.8 529.5,747.8 527.5,743.8 528.5,716.8 533.5,710.8 534.5,706.8 538.5,702.8 541.5,701.8 543.5,694.8 549.5,688.8 552.5,687.8 567.5,688.8 582.5,681.8 587.5,683.8 593.5,692.8 598.5,695.8 611.5,697.8 617.5,700.8 622.5,700.8 627.5,703.8 629.5,706.8 629.5,709.8 634.5,713.8 636.5,718.8 636.5,726.8 635.5,727.8 632.5,752.8 648.5,752.8 650.5,753.8 652.5,743.8 656.5,737.8 666.5,733.8 680.5,732.8 688.5,739.8 693.5,735.8 713.5,735.8 720.5,730.8 725.5,730.8 728.5,723.8 733.5,719.8 737.5,720.8 740.5,724.8 746.5,719.8 748.5,719.8 753.5,726.8 760.5,746.8 759.5,765.8 754.5,774.8 750.5,776.8 738.5,775.8 735.5,776.8 731.5,780.8 727.5,791.8 727.5,801.8 736.5,803.8 740.5,806.8 741.5,808.8 741.5,820.8 740.5,822.8 747.5,822.8 757.5,832.8 762.5,835.8 768.5,836.8 768.5,579.8 561.5,579.8 561.5,588.8 554.5,595.8 550.5,593.8 547.5,588.8 547.5,579.8 534.5,579.8 533.5,589.8 528.5,595.8 521.5,596.8 513.5,602.8 503.5,601.8 499.5,597.8ZM465.5,579.8 465.5,593.8 471.5,599.8 473.5,594.8 473.5,579.8ZM215.5,579.8 215.5,601.8 217.5,608.8 221.5,612.8 224.5,613.8 232.5,613.8 238.5,611.8 242.5,604.8 242.5,579.8Z" clip-rule="evenodd"/></clipPath>
<path d="M83.3,577.3L-283.0,1016.8M96.4,577.3L-269.9,1016.8M109.5,577.3L-256.8,1016.8M122.6,577.3L-243.7,1016.8M135.7,577.3L-230.6,1016.8M148.8,577.3L-217.5,1016.8M161.9,577.3L-204.4,1016.8M175.0,577.3L-191.3,1016.8M188.1,577.3L-178.2,1016.8M201.2,577.3L-165.1,1016.8M214.3,577.3L-152.0,1016.8M227.4,577.3L-138.9,1016.8M240.5,577.3L-125.8,1016.8M253.6,577.3L-112.7,1016.8M266.7,577.3L-99.6,1016.8M279.8,577.3L-86.5,1016.8M292.9,577.3L-73.4,1016.8M306.0,577.3L-60.3,1016.8M319.1,577.3L-47.2,1016.8M332.2,577.3L-34.1,1016.8M345.3,577.3L-21.0,1016.8M358.4,577.3L-7.9,1016.8M371.5,577.3L5.2,1016.8M384.6,577.3L18.3,1016.8M397.7,577.3L31.4,1016.8M410.8,577.3L44.5,1016.8M423.9,577.3L57.6,1016.8M437.0,577.3L70.7,1016.8M450.1,577.3L83.8,1016.8M463.2,577.3L96.9,1016.8M476.3,577.3L110.0,1016.8M489.4,577.3L123.1,1016.8M502.5,577.3L136.2,1016.8M515.6,577.3L149.3,1016.8M528.7,577.3L162.4,1016.8M541.8,577.3L175.5,1016.8M554.9,577.3L188.6,1016.8M568.0,577.3L201.7,1016.8M581.1,577.3L214.8,1016.8M594.2,577.3L227.9,1016.8M607.3,577.3L241.0,1016.8M620.4,577.3L254.1,1016.8M633.5,577.3L267.2,1016.8M646.6,577.3L280.3,1016.8M659.7,577.3L293.4,1016.8M672.8,577.3L306.5,1016.8M685.9,577.3L319.6,1016.8M699.0,577.3L332.7,1016.8M712.1,577.3L345.8,1016.8M725.2,577.3L358.9,1016.8M738.3,577.3L372.0,1016.8M751.4,577.3L385.1,1016.8M764.5,577.3L398.2,1016.8M777.6,577.3L411.3,1016.8M790.7,577.3L424.4,1016.8M803.8,577.3L437.5,1016.8M816.9,577.3L450.6,1016.8M830.0,577.3L463.7,1016.8M843.1,577.3L476.8,1016.8M856.2,577.3L489.9,1016.8M869.3,577.3L503.0,1016.8M882.4,577.3L516.1,1016.8M895.5,577.3L529.2,1016.8M908.6,577.3L542.3,1016.8M921.7,577.3L555.4,1016.8M934.8,577.3L568.5,1016.8M947.9,577.3L581.6,1016.8M961.0,577.3L594.7,1016.8M974.1,577.3L607.8,1016.8M987.2,577.3L620.9,1016.8M1000.3,577.3L634.0,1016.8M1013.4,577.3L647.1,1016.8M1026.5,577.3L660.2,1016.8M1039.6,577.3L673.3,1016.8M1052.7,577.3L686.4,1016.8M1065.8,577.3L699.5,1016.8M1078.9,577.3L712.6,1016.8M1092.0,577.3L725.7,1016.8M1105.1,577.3L738.8,1016.8M1118.2,577.3L751.9,1016.8M1131.3,577.3L765.0,1016.8" clip-path="url(#hclipC)" stroke="#000" stroke-width="2.3" stroke-opacity="0.52" fill="none"/>
<path d="M70.1,570.6 L75.6,715.2 L82.5,713.4 L86.7,709.9 L93.6,708.2 L97.8,701.2 L103.3,697.8 L108.8,697.8 L117.1,704.7 L125.4,704.7 L135.1,697.8 L147.6,690.8 L154.5,682.1 L164.2,671.6 L176.6,659.4 L185.0,649.0 L191.9,638.5 L196.0,628.1 L204.3,615.9 L214.0,607.2 L219.6,598.5 L222.3,588.0 L223.7,578.4 Z" fill="#ffffff" stroke="none"/>
<path d="M75.6,715.2 L82.5,713.4 L86.7,709.9 L93.6,708.2 L97.8,701.2 L103.3,697.8 L108.8,697.8 L117.1,704.7 L125.4,704.7 L135.1,697.8 L147.6,690.8 L154.5,682.1 L164.2,671.6 L176.6,659.4 L185.0,649.0 L191.9,638.5 L196.0,628.1 L204.3,615.9 L214.0,607.2 L219.6,598.5 L222.3,588.0 L223.7,578.4" fill="none" stroke="#a9a9c4" stroke-width="1.2" stroke-linejoin="round"/>
<path d="M244.5,578.4 L244.5,593.2 L243.8,608.9 L242.4,622.8 L241.0,638.5 L242.4,649.9 L247.2,643.8 L251.4,637.7 L256.9,636.8 L261.1,642.0 L263.8,648.1 L265.9,642.0 L262.5,633.3 L256.9,622.8 L253.5,608.9 L258.3,596.7 L268.0,593.2 L274.9,596.7 L280.4,601.9 L276.3,591.5 L273.5,582.8 L272.1,578.4 Z" fill="#ffffff" stroke="none"/>
<path d="M244.5,578.4 L244.5,593.2 L243.8,608.9 L242.4,622.8 L241.0,638.5 L242.4,649.9 L247.2,643.8 L251.4,637.7 L256.9,636.8 L261.1,642.0 L263.8,648.1 L265.9,642.0 L262.5,633.3 L256.9,622.8 L253.5,608.9 L258.3,596.7 L268.0,593.2 L274.9,596.7 L280.4,601.9 L276.3,591.5 L273.5,582.8 L272.1,578.4" fill="none" stroke="#a9a9c4" stroke-width="1.2" stroke-linejoin="round"/>
<path d="M89.5,858.9 L103.3,858.9 L110.2,852.8 L122.7,850.2 L135.1,845.8 L146.2,846.7 L150.4,847.6 L147.6,858.0 L140.7,853.7 L128.2,852.8 L118.5,856.3 L114.4,859.8 L104.7,868.5 L100.5,865.0 L93.6,865.0 Z" fill="#ffffff" stroke="none"/>
<path d="M242.4,657.7 L250.0,666.4 L259.7,678.6 L270.8,682.9 L281.8,684.7 L288.8,678.6 L286.0,688.2 L289.4,691.7 L295.7,694.6 L288.8,697.8 L279.1,702.1 L268.0,708.2 L261.1,716.0 L260.4,719.9 L251.4,715.2 L241.7,709.1 L234.8,709.1 L229.2,712.6 L225.1,709.1 L220.9,713.4 L227.9,718.7 L231.3,722.1 L225.1,723.0 L218.2,729.1 L215.4,725.6 L215.4,715.2 L212.6,708.2 L220.9,703.0 L220.9,695.1 L229.2,697.8 L234.8,696.0 L237.5,685.6 L238.2,676.9 L239.6,662.9 L242.4,657.7 Z" fill="#ffffff" stroke="#a9a9c4" stroke-width="1.2" stroke-linejoin="round"/>
<path d="M220.2,731.7 L227.9,735.2 L227.9,727.4 L235.5,728.6 L234.8,743.0 L241.7,753.5 L243.8,762.2 L237.5,777.9 L236.2,783.1 L229.2,784.9 L229.2,797.0 L227.9,807.5 L223.7,818.0 L227.2,828.4 L219.6,838.9 L213.3,842.3 L212.6,831.9 L210.6,838.0 L205.7,835.4 L201.6,841.5 L199.5,847.6 L196.0,839.7 L190.5,847.6 L180.8,846.7 L173.9,847.6 L171.8,841.5 L168.3,847.6 L172.5,852.8 L164.2,859.8 L156.6,867.6 L147.6,859.8 L150.4,847.6 L146.2,846.7 L135.1,845.8 L122.7,850.2 L110.2,852.8 L103.3,858.9 L89.5,858.9 L90.8,851.9 L99.1,846.7 L111.6,834.5 L122.7,831.0 L136.5,830.1 L150.4,827.5 L155.9,831.9 L160.0,827.5 L161.4,818.8 L169.7,809.2 L169.7,802.3 L178.0,797.0 L173.9,805.8 L178.0,810.1 L185.0,805.8 L194.6,798.8 L202.9,788.3 L208.5,777.9 L214.0,762.2 L211.2,754.4 L215.4,746.5 L214.0,741.3 L219.6,732.6 L220.2,731.7 Z" fill="#ffffff" stroke="#a9a9c4" stroke-width="1.2" stroke-linejoin="round"/>
<path d="M140.7,853.7 L142.7,860.6 L134.4,871.1 L126.8,866.7 L121.3,870.2 L117.8,880.3 L111.6,875.4 L104.7,869.3 L114.4,859.8 L118.5,856.3 L128.2,852.8 L135.1,852.8 L140.7,853.7 Z" fill="#ffffff" stroke="#a9a9c4" stroke-width="1.2" stroke-linejoin="round"/>
<path d="M75.6,865.0 L82.5,864.1 L89.5,858.9 L93.6,865.0 L100.5,865.0 L99.1,871.1 L103.3,877.2 L99.1,887.6 L97.1,894.6 L95.7,903.3 L90.1,908.5 L86.0,910.3 L85.3,901.6 L79.8,905.1 L79.8,892.9 L82.5,884.1 L78.4,885.9 L75.6,880.7 L75.6,870.2 Z" fill="#ffffff" stroke="#a9a9c4" stroke-width="1.2" stroke-linejoin="round"/>
<path d="M291.5,690.8 L298.4,683.8 L306.7,676.0 L305.4,680.3 L297.1,687.3 L292.9,692.5 Z" fill="#ffffff" stroke="#a9a9c4" stroke-width="1.2" stroke-linejoin="round"/>
<path d="M310.9,674.2 L319.2,665.5 L328.9,660.3 L337.9,656.8 L337.2,662.9 L327.5,669.0 L317.8,676.0 Z" fill="#ffffff" stroke="#a9a9c4" stroke-width="1.2" stroke-linejoin="round"/>
<path d="M345.5,651.6 L352.4,646.4 L360.7,643.8 L360.7,648.1 L352.4,653.3 L346.9,655.1 Z" fill="#ffffff" stroke="#a9a9c4" stroke-width="1.2" stroke-linejoin="round"/>
<path d="M306.7,688.2 L310.9,686.4 L309.5,689.0 Z" fill="#ffffff" stroke="#a9a9c4" stroke-width="1.2" stroke-linejoin="round"/>
</g>
<rect x="77.0" y="579.3" width="692.0" height="435.5" fill="none" stroke="#a8a8a8" stroke-width="1.5"/>
<text x="67.3" y="591.5" text-anchor="end" font-family="Liberation Sans, Arial, sans-serif" font-size="29.3" fill="#262626">50°N</text>
<line x1="77.0" y1="579.3" x2="82.0" y2="579.3" stroke="#888" stroke-width="1"/>
<text x="67.3" y="678.6" text-anchor="end" font-family="Liberation Sans, Arial, sans-serif" font-size="29.3" fill="#262626">45°N</text>
<line x1="77.0" y1="666.4" x2="82.0" y2="666.4" stroke="#888" stroke-width="1"/>
<text x="67.3" y="765.7" text-anchor="end" font-family="Liberation Sans, Arial, sans-serif" font-size="29.3" fill="#262626">40°N</text>
<line x1="77.0" y1="753.5" x2="82.0" y2="753.5" stroke="#888" stroke-width="1"/>
<text x="67.3" y="852.8" text-anchor="end" font-family="Liberation Sans, Arial, sans-serif" font-size="29.3" fill="#262626">35°N</text>
<line x1="77.0" y1="840.6" x2="82.0" y2="840.6" stroke="#888" stroke-width="1"/>
<text x="67.3" y="939.9" text-anchor="end" font-family="Liberation Sans, Arial, sans-serif" font-size="29.3" fill="#262626">30°N</text>
<line x1="77.0" y1="927.7" x2="82.0" y2="927.7" stroke="#888" stroke-width="1"/>
<text x="67.3" y="1027.0" text-anchor="end" font-family="Liberation Sans, Arial, sans-serif" font-size="29.3" fill="#262626">25°N</text>
<line x1="77.0" y1="1014.8" x2="82.0" y2="1014.8" stroke="#888" stroke-width="1"/>
<line x1="215.4" y1="1014.8" x2="215.4" y2="1009.8" stroke="#888" stroke-width="1"/>
<line x1="353.8" y1="1014.8" x2="353.8" y2="1009.8" stroke="#888" stroke-width="1"/>
<line x1="492.2" y1="1014.8" x2="492.2" y2="1009.8" stroke="#888" stroke-width="1"/>
<line x1="630.6" y1="1014.8" x2="630.6" y2="1009.8" stroke="#888" stroke-width="1"/>
<text x="78.0" y="1045.4" text-anchor="middle" font-family="Liberation Sans, Arial, sans-serif" font-size="29.3" fill="#262626">130°E</text>
<text x="216.4" y="1045.4" text-anchor="middle" font-family="Liberation Sans, Arial, sans-serif" font-size="29.3" fill="#262626">140°E</text>
<text x="354.8" y="1045.4" text-anchor="middle" font-family="Liberation Sans, Arial, sans-serif" font-size="29.3" fill="#262626">150°E</text>
<text x="493.2" y="1045.4" text-anchor="middle" font-family="Liberation Sans, Arial, sans-serif" font-size="29.3" fill="#262626">160°E</text>
<text x="631.6" y="1045.4" text-anchor="middle" font-family="Liberation Sans, Arial, sans-serif" font-size="29.3" fill="#262626">170°E</text>
<text x="735.5" y="1045.4" font-family="Liberation Sans, Arial, sans-serif" font-size="29.3" fill="#262626">180°</text>
<rect x="775.5" y="993.02" width="12.5" height="22.07" fill="#7a30e0"/>
<rect x="775.5" y="971.25" width="12.5" height="22.07" fill="#3a10f0"/>
<rect x="775.5" y="949.47" width="12.5" height="22.07" fill="#1a1af0"/>
<rect x="775.5" y="927.70" width="12.5" height="22.07" fill="#2e60d8"/>
<rect x="775.5" y="905.92" width="12.5" height="22.07" fill="#2a78e0"/>
<rect x="775.5" y="884.15" width="12.5" height="22.07" fill="#1c90e8"/>
<rect x="775.5" y="862.38" width="12.5" height="22.07" fill="#14a6ec"/>
<rect x="775.5" y="840.60" width="12.5" height="22.07" fill="#40b4ee"/>
<rect x="775.5" y="818.82" width="12.5" height="22.07" fill="#92c8ec"/>
<rect x="775.5" y="797.05" width="12.5" height="22.07" fill="#b2e0f4"/>
<rect x="775.5" y="775.27" width="12.5" height="22.07" fill="#fff594"/>
<rect x="775.5" y="753.50" width="12.5" height="22.07" fill="#ffdc30"/>
<rect x="775.5" y="731.72" width="12.5" height="22.07" fill="#ffc000"/>
<rect x="775.5" y="709.95" width="12.5" height="22.07" fill="#ff9a00"/>
<rect x="775.5" y="688.17" width="12.5" height="22.07" fill="#ff7010"/>
<rect x="775.5" y="666.40" width="12.5" height="22.07" fill="#ff4010"/>
<rect x="775.5" y="644.62" width="12.5" height="22.07" fill="#f80808"/>
<rect x="775.5" y="622.85" width="12.5" height="22.07" fill="#d0000c"/>
<rect x="775.5" y="601.08" width="12.5" height="22.07" fill="#d83040"/>
<rect x="775.5" y="579.30" width="12.5" height="22.07" fill="#f4a8b4"/>
<rect x="775.5" y="579.3" width="12.5" height="435.5" fill="none" stroke="#c8c8c8" stroke-width="0.8"/>
<text x="794" y="589.8" font-family="Liberation Sans, Arial, sans-serif" font-size="26" fill="#262626">1</text>
<text x="794" y="698.7" font-family="Liberation Sans, Arial, sans-serif" font-size="26" fill="#262626">0.5</text>
<text x="794" y="807.5" font-family="Liberation Sans, Arial, sans-serif" font-size="26" fill="#262626">0</text>
<text x="794" y="916.4" font-family="Liberation Sans, Arial, sans-serif" font-size="26" fill="#262626">-0.5</text>
<text x="794" y="1025.3" font-family="Liberation Sans, Arial, sans-serif" font-size="26" fill="#262626">-1</text>
<text x="929" y="27.0" font-family="Liberation Sans, Arial, sans-serif" font-weight="bold" font-size="33" fill="#000">B</text>
<text x="980" y="32.5" font-family="Liberation Serif, Times New Roman, serif" font-size="44" fill="#000">2-10 d XCORR at 145°E, 38°N</text>
<line x1="1076.4" y1="51.2" x2="1076.4" y2="424.0" stroke="#ececec" stroke-width="1"/>
<line x1="1151.8" y1="51.2" x2="1151.8" y2="424.0" stroke="#ececec" stroke-width="1"/>
<line x1="1227.2" y1="51.2" x2="1227.2" y2="424.0" stroke="#ececec" stroke-width="1"/>
<line x1="1302.6" y1="51.2" x2="1302.6" y2="424.0" stroke="#ececec" stroke-width="1"/>
<line x1="1453.4" y1="51.2" x2="1453.4" y2="424.0" stroke="#ececec" stroke-width="1"/>
<line x1="1528.8" y1="51.2" x2="1528.8" y2="424.0" stroke="#ececec" stroke-width="1"/>
<line x1="1604.2" y1="51.2" x2="1604.2" y2="424.0" stroke="#ececec" stroke-width="1"/>
<line x1="1679.6" y1="51.2" x2="1679.6" y2="424.0" stroke="#ececec" stroke-width="1"/>
<line x1="1001.0" y1="144.4" x2="1755.0" y2="144.4" stroke="#ececec" stroke-width="1"/>
<line x1="1001.0" y1="330.8" x2="1755.0" y2="330.8" stroke="#ececec" stroke-width="1"/>
<line x1="1378.0" y1="51.2" x2="1378.0" y2="424.0" stroke="#a0a0a0" stroke-width="1.2"/>
<line x1="1001.0" y1="237.6" x2="1755.0" y2="237.6" stroke="#a8a8a8" stroke-width="1.2"/>
<rect x="1001.0" y="51.2" width="754.0" height="372.8" fill="none" stroke="#b0b0b0" stroke-width="1.3"/>
<line x1="1001.0" y1="424.0" x2="1001.0" y2="419.0" stroke="#999" stroke-width="1"/>
<text x="1001.0" y="458.5" text-anchor="middle" font-family="Liberation Sans, Arial, sans-serif" font-size="27.8" fill="#262626">-10</text>
<line x1="1076.4" y1="424.0" x2="1076.4" y2="419.0" stroke="#999" stroke-width="1"/>
<text x="1076.4" y="458.5" text-anchor="middle" font-family="Liberation Sans, Arial, sans-serif" font-size="27.8" fill="#262626">-8</text>
<line x1="1151.8" y1="424.0" x2="1151.8" y2="419.0" stroke="#999" stroke-width="1"/>
<text x="1151.8" y="458.5" text-anchor="middle" font-family="Liberation Sans, Arial, sans-serif" font-size="27.8" fill="#262626">-6</text>
<line x1="1227.2" y1="424.0" x2="1227.2" y2="419.0" stroke="#999" stroke-width="1"/>
<text x="1227.2" y="458.5" text-anchor="middle" font-family="Liberation Sans, Arial, sans-serif" font-size="27.8" fill="#262626">-4</text>
<line x1="1302.6" y1="424.0" x2="1302.6" y2="419.0" stroke="#999" stroke-width="1"/>
<text x="1302.6" y="458.5" text-anchor="middle" font-family="Liberation Sans, Arial, sans-serif" font-size="27.8" fill="#262626">-2</text>
<line x1="1378.0" y1="424.0" x2="1378.0" y2="419.0" stroke="#999" stroke-width="1"/>
<text x="1378.0" y="458.5" text-anchor="middle" font-family="Liberation Sans, Arial, sans-serif" font-size="27.8" fill="#262626">0</text>
<line x1="1453.4" y1="424.0" x2="1453.4" y2="419.0" stroke="#999" stroke-width="1"/>
<text x="1453.4" y="458.5" text-anchor="middle" font-family="Liberation Sans, Arial, sans-serif" font-size="27.8" fill="#262626">2</text>
<line x1="1528.8" y1="424.0" x2="1528.8" y2="419.0" stroke="#999" stroke-width="1"/>
<text x="1528.8" y="458.5" text-anchor="middle" font-family="Liberation Sans, Arial, sans-serif" font-size="27.8" fill="#262626">4</text>
<line x1="1604.2" y1="424.0" x2="1604.2" y2="419.0" stroke="#999" stroke-width="1"/>
<text x="1604.2" y="458.5" text-anchor="middle" font-family="Liberation Sans, Arial, sans-serif" font-size="27.8" fill="#262626">6</text>
<line x1="1679.6" y1="424.0" x2="1679.6" y2="419.0" stroke="#999" stroke-width="1"/>
<text x="1679.6" y="458.5" text-anchor="middle" font-family="Liberation Sans, Arial, sans-serif" font-size="27.8" fill="#262626">8</text>
<line x1="1755.0" y1="424.0" x2="1755.0" y2="419.0" stroke="#999" stroke-width="1"/>
<text x="1755.0" y="458.5" text-anchor="middle" font-family="Liberation Sans, Arial, sans-serif" font-size="27.8" fill="#262626">10</text>
<line x1="1001.0" y1="51.2" x2="1001.0" y2="56.2" stroke="#aaa" stroke-width="1"/>
<line x1="1076.4" y1="51.2" x2="1076.4" y2="56.2" stroke="#aaa" stroke-width="1"/>
<line x1="1151.8" y1="51.2" x2="1151.8" y2="56.2" stroke="#aaa" stroke-width="1"/>
<line x1="1227.2" y1="51.2" x2="1227.2" y2="56.2" stroke="#aaa" stroke-width="1"/>
<line x1="1302.6" y1="51.2" x2="1302.6" y2="56.2" stroke="#aaa" stroke-width="1"/>
<line x1="1378.0" y1="51.2" x2="1378.0" y2="56.2" stroke="#aaa" stroke-width="1"/>
<line x1="1453.4" y1="51.2" x2="1453.4" y2="56.2" stroke="#aaa" stroke-width="1"/>
<line x1="1528.8" y1="51.2" x2="1528.8" y2="56.2" stroke="#aaa" stroke-width="1"/>
<line x1="1604.2" y1="51.2" x2="1604.2" y2="56.2" stroke="#aaa" stroke-width="1"/>
<line x1="1679.6" y1="51.2" x2="1679.6" y2="56.2" stroke="#aaa" stroke-width="1"/>
<line x1="1755.0" y1="51.2" x2="1755.0" y2="56.2" stroke="#aaa" stroke-width="1"/>
<line x1="1001.0" y1="51.2" x2="1006.0" y2="51.2" stroke="#999" stroke-width="1"/>
<line x1="1755.0" y1="51.2" x2="1750.0" y2="51.2" stroke="#aaa" stroke-width="1"/>
<line x1="1001.0" y1="144.4" x2="1006.0" y2="144.4" stroke="#999" stroke-width="1"/>
<line x1="1755.0" y1="144.4" x2="1750.0" y2="144.4" stroke="#aaa" stroke-width="1"/>
<line x1="1001.0" y1="237.6" x2="1006.0" y2="237.6" stroke="#999" stroke-width="1"/>
<line x1="1755.0" y1="237.6" x2="1750.0" y2="237.6" stroke="#aaa" stroke-width="1"/>
<line x1="1001.0" y1="330.8" x2="1006.0" y2="330.8" stroke="#999" stroke-width="1"/>
<line x1="1755.0" y1="330.8" x2="1750.0" y2="330.8" stroke="#aaa" stroke-width="1"/>
<line x1="1001.0" y1="424.0" x2="1006.0" y2="424.0" stroke="#999" stroke-width="1"/>
<line x1="1755.0" y1="424.0" x2="1750.0" y2="424.0" stroke="#aaa" stroke-width="1"/>
<text x="994.5" y="61.0" text-anchor="end" font-family="Liberation Sans, Arial, sans-serif" font-size="27.8" fill="#262626">1</text>
<text x="994.5" y="154.2" text-anchor="end" font-family="Liberation Sans, Arial, sans-serif" font-size="27.8" fill="#262626">0.5</text>
<text x="994.5" y="247.4" text-anchor="end" font-family="Liberation Sans, Arial, sans-serif" font-size="27.8" fill="#262626">0</text>
<text x="994.5" y="340.6" text-anchor="end" font-family="Liberation Sans, Arial, sans-serif" font-size="27.8" fill="#262626">-0.5</text>
<text x="994.5" y="433.8" text-anchor="end" font-family="Liberation Sans, Arial, sans-serif" font-size="27.8" fill="#262626">-1</text>
<text x="1378" y="497.0" text-anchor="middle" font-family="Liberation Sans, Arial, sans-serif" font-size="29.8" fill="#262626">lag (days; positive=heat flux leads)</text>
<text transform="translate(940,237.2) rotate(-90)" text-anchor="middle" font-family="Liberation Sans, Arial, sans-serif" font-size="30.2" fill="#262626">correlation</text>
<polyline points="1001.0,238.3 1038.7,239.5 1076.4,225.1 1114.1,250.1 1151.8,254.4 1189.5,227.3 1227.2,223.6 1264.9,218.4 1302.6,250.6 1340.3,236.7 1378.0,221.8 1415.7,281.2 1453.4,261.3 1491.1,237.2 1528.8,189.5 1566.5,201.4 1604.2,254.0 1641.9,234.6 1679.6,265.2 1717.3,265.2 1755.0,263.1" fill="none" stroke="#7070f0" stroke-width="1.4" stroke-linejoin="round"/>
<polyline points="1001.0,237.6 1038.7,236.7 1076.4,225.7 1114.1,256.2 1151.8,241.3 1189.5,217.1 1227.2,233.5 1264.9,233.1 1302.6,261.3 1340.3,228.7 1378.0,226.8 1415.7,281.2 1453.4,222.3 1491.1,219.0 1528.8,203.7 1566.5,246.5 1604.2,276.0 1641.9,223.4 1679.6,260.2 1717.3,236.9 1755.0,236.9" fill="none" stroke="#f07080" stroke-width="1.4" stroke-linejoin="round"/>
<polyline points="1528.8,189.5 1566.5,201.4" fill="none" stroke="#1010e0" stroke-width="3.2" stroke-linejoin="round"/>
<line x1="1267.3" y1="70" x2="1287.6" y2="70" stroke="#8080f0" stroke-width="1.4"/>
<text x="1289" y="77.5" font-family="Liberation Sans, Arial, sans-serif" font-size="20.7" fill="#262626">SST</text>
<line x1="1333.3" y1="70" x2="1352.8" y2="70" stroke="#f08090" stroke-width="1.4"/>
<text x="1353.5" y="77.5" font-family="Liberation Sans, Arial, sans-serif" font-size="20.9" fill="#262626">SST Tendency</text>
<text x="929" y="557.1" font-family="Liberation Sans, Arial, sans-serif" font-weight="bold" font-size="33" fill="#000">D</text>
<text x="980" y="559.8" font-family="Liberation Serif, Times New Roman, serif" font-size="44" fill="#000">10-30 d XCORR at 145°E, 38°N</text>
<line x1="1076.4" y1="578.5" x2="1076.4" y2="951.3" stroke="#ececec" stroke-width="1"/>
<line x1="1151.8" y1="578.5" x2="1151.8" y2="951.3" stroke="#ececec" stroke-width="1"/>
<line x1="1227.2" y1="578.5" x2="1227.2" y2="951.3" stroke="#ececec" stroke-width="1"/>
<line x1="1302.6" y1="578.5" x2="1302.6" y2="951.3" stroke="#ececec" stroke-width="1"/>
<line x1="1453.4" y1="578.5" x2="1453.4" y2="951.3" stroke="#ececec" stroke-width="1"/>
<line x1="1528.8" y1="578.5" x2="1528.8" y2="951.3" stroke="#ececec" stroke-width="1"/>
<line x1="1604.2" y1="578.5" x2="1604.2" y2="951.3" stroke="#ececec" stroke-width="1"/>
<line x1="1679.6" y1="578.5" x2="1679.6" y2="951.3" stroke="#ececec" stroke-width="1"/>
<line x1="1001.0" y1="671.7" x2="1755.0" y2="671.7" stroke="#ececec" stroke-width="1"/>
<line x1="1001.0" y1="858.1" x2="1755.0" y2="858.1" stroke="#ececec" stroke-width="1"/>
<line x1="1378.0" y1="578.5" x2="1378.0" y2="951.3" stroke="#a0a0a0" stroke-width="1.2"/>
<line x1="1001.0" y1="764.9" x2="1755.0" y2="764.9" stroke="#a8a8a8" stroke-width="1.2"/>
<rect x="1001.0" y="578.5" width="754.0" height="372.79999999999995" fill="none" stroke="#b0b0b0" stroke-width="1.3"/>
<line x1="1001.0" y1="951.3" x2="1001.0" y2="946.3" stroke="#999" stroke-width="1"/>
<text x="1001.0" y="985.8" text-anchor="middle" font-family="Liberation Sans, Arial, sans-serif" font-size="27.8" fill="#262626">-10</text>
<line x1="1076.4" y1="951.3" x2="1076.4" y2="946.3" stroke="#999" stroke-width="1"/>
<text x="1076.4" y="985.8" text-anchor="middle" font-family="Liberation Sans, Arial, sans-serif" font-size="27.8" fill="#262626">-8</text>
<line x1="1151.8" y1="951.3" x2="1151.8" y2="946.3" stroke="#999" stroke-width="1"/>
<text x="1151.8" y="985.8" text-anchor="middle" font-family="Liberation Sans, Arial, sans-serif" font-size="27.8" fill="#262626">-6</text>
<line x1="1227.2" y1="951.3" x2="1227.2" y2="946.3" stroke="#999" stroke-width="1"/>
<text x="1227.2" y="985.8" text-anchor="middle" font-family="Liberation Sans, Arial, sans-serif" font-size="27.8" fill="#262626">-4</text>
<line x1="1302.6" y1="951.3" x2="1302.6" y2="946.3" stroke="#999" stroke-width="1"/>
<text x="1302.6" y="985.8" text-anchor="middle" font-family="Liberation Sans, Arial, sans-serif" font-size="27.8" fill="#262626">-2</text>
<line x1="1378.0" y1="951.3" x2="1378.0" y2="946.3" stroke="#999" stroke-width="1"/>
<text x="1378.0" y="985.8" text-anchor="middle" font-family="Liberation Sans, Arial, sans-serif" font-size="27.8" fill="#262626">0</text>
<line x1="1453.4" y1="951.3" x2="1453.4" y2="946.3" stroke="#999" stroke-width="1"/>
<text x="1453.4" y="985.8" text-anchor="middle" font-family="Liberation Sans, Arial, sans-serif" font-size="27.8" fill="#262626">2</text>
<line x1="1528.8" y1="951.3" x2="1528.8" y2="946.3" stroke="#999" stroke-width="1"/>
<text x="1528.8" y="985.8" text-anchor="middle" font-family="Liberation Sans, Arial, sans-serif" font-size="27.8" fill="#262626">4</text>
<line x1="1604.2" y1="951.3" x2="1604.2" y2="946.3" stroke="#999" stroke-width="1"/>
<text x="1604.2" y="985.8" text-anchor="middle" font-family="Liberation Sans, Arial, sans-serif" font-size="27.8" fill="#262626">6</text>
<line x1="1679.6" y1="951.3" x2="1679.6" y2="946.3" stroke="#999" stroke-width="1"/>
<text x="1679.6" y="985.8" text-anchor="middle" font-family="Liberation Sans, Arial, sans-serif" font-size="27.8" fill="#262626">8</text>
<line x1="1755.0" y1="951.3" x2="1755.0" y2="946.3" stroke="#999" stroke-width="1"/>
<text x="1755.0" y="985.8" text-anchor="middle" font-family="Liberation Sans, Arial, sans-serif" font-size="27.8" fill="#262626">10</text>
<line x1="1001.0" y1="578.5" x2="1001.0" y2="583.5" stroke="#aaa" stroke-width="1"/>
<line x1="1076.4" y1="578.5" x2="1076.4" y2="583.5" stroke="#aaa" stroke-width="1"/>
<line x1="1151.8" y1="578.5" x2="1151.8" y2="583.5" stroke="#aaa" stroke-width="1"/>
<line x1="1227.2" y1="578.5" x2="1227.2" y2="583.5" stroke="#aaa" stroke-width="1"/>
<line x1="1302.6" y1="578.5" x2="1302.6" y2="583.5" stroke="#aaa" stroke-width="1"/>
<line x1="1378.0" y1="578.5" x2="1378.0" y2="583.5" stroke="#aaa" stroke-width="1"/>
<line x1="1453.4" y1="578.5" x2="1453.4" y2="583.5" stroke="#aaa" stroke-width="1"/>
<line x1="1528.8" y1="578.5" x2="1528.8" y2="583.5" stroke="#aaa" stroke-width="1"/>
<line x1="1604.2" y1="578.5" x2="1604.2" y2="583.5" stroke="#aaa" stroke-width="1"/>
<line x1="1679.6" y1="578.5" x2="1679.6" y2="583.5" stroke="#aaa" stroke-width="1"/>
<line x1="1755.0" y1="578.5" x2="1755.0" y2="583.5" stroke="#aaa" stroke-width="1"/>
<line x1="1001.0" y1="578.5" x2="1006.0" y2="578.5" stroke="#999" stroke-width="1"/>
<line x1="1755.0" y1="578.5" x2="1750.0" y2="578.5" stroke="#aaa" stroke-width="1"/>
<line x1="1001.0" y1="671.7" x2="1006.0" y2="671.7" stroke="#999" stroke-width="1"/>
<line x1="1755.0" y1="671.7" x2="1750.0" y2="671.7" stroke="#aaa" stroke-width="1"/>
<line x1="1001.0" y1="764.9" x2="1006.0" y2="764.9" stroke="#999" stroke-width="1"/>
<line x1="1755.0" y1="764.9" x2="1750.0" y2="764.9" stroke="#aaa" stroke-width="1"/>
<line x1="1001.0" y1="858.1" x2="1006.0" y2="858.1" stroke="#999" stroke-width="1"/>
<line x1="1755.0" y1="858.1" x2="1750.0" y2="858.1" stroke="#aaa" stroke-width="1"/>
<line x1="1001.0" y1="951.3" x2="1006.0" y2="951.3" stroke="#999" stroke-width="1"/>
<line x1="1755.0" y1="951.3" x2="1750.0" y2="951.3" stroke="#aaa" stroke-width="1"/>
<text x="994.5" y="588.3" text-anchor="end" font-family="Liberation Sans, Arial, sans-serif" font-size="27.8" fill="#262626">1</text>
<text x="994.5" y="681.5" text-anchor="end" font-family="Liberation Sans, Arial, sans-serif" font-size="27.8" fill="#262626">0.5</text>
<text x="994.5" y="774.7" text-anchor="end" font-family="Liberation Sans, Arial, sans-serif" font-size="27.8" fill="#262626">0</text>
<text x="994.5" y="867.9" text-anchor="end" font-family="Liberation Sans, Arial, sans-serif" font-size="27.8" fill="#262626">-0.5</text>
<text x="994.5" y="961.1" text-anchor="end" font-family="Liberation Sans, Arial, sans-serif" font-size="27.8" fill="#262626">-1</text>
<text x="1378" y="1024.3" text-anchor="middle" font-family="Liberation Sans, Arial, sans-serif" font-size="29.8" fill="#262626">lag (days; positive=heat flux leads)</text>
<text transform="translate(940,764.5) rotate(-90)" text-anchor="middle" font-family="Liberation Sans, Arial, sans-serif" font-size="30.2" fill="#262626">correlation</text>
<polyline points="1001.0,756.5 1038.7,729.7 1076.4,706.6 1114.1,690.5 1151.8,683.8 1189.5,686.8 1227.2,702.5 1264.9,727.2 1302.6,757.6 1340.3,791.7 1378.0,822.7 1415.7,851.6 1453.4,866.5 1491.1,867.2 1528.8,850.8 1566.5,818.2 1604.2,776.1 1641.9,734.0 1679.6,694.3 1717.3,665.7 1755.0,654.6" fill="none" stroke="#7070f0" stroke-width="1.4" stroke-linejoin="round"/>
<polyline points="1001.0,704.5 1038.7,704.5 1076.4,711.0 1114.1,726.5 1151.8,747.6 1189.5,777.6 1227.2,807.8 1264.9,832.6 1302.6,851.2 1340.3,857.9 1378.0,851.9 1415.7,833.5 1453.4,802.2 1491.1,763.6 1528.8,720.4 1566.5,679.3 1604.2,651.6 1641.9,643.0 1679.6,657.2 1717.3,691.8 1755.0,740.9" fill="none" stroke="#f07080" stroke-width="1.4" stroke-linejoin="round"/>
<polyline points="1415.7,851.6 1453.4,866.5 1491.1,867.2" fill="none" stroke="#1010e0" stroke-width="3.2" stroke-linejoin="round"/>
<polyline points="1717.3,665.7 1755.0,654.6" fill="none" stroke="#1010e0" stroke-width="3.2" stroke-linejoin="round"/>
<polyline points="1604.2,651.6 1641.9,643.0 1679.6,657.2" fill="none" stroke="#e01020" stroke-width="3.2" stroke-linejoin="round"/>
<line x1="1267.3" y1="597.3" x2="1287.6" y2="597.3" stroke="#8080f0" stroke-width="1.4"/>
<text x="1289" y="604.8" font-family="Liberation Sans, Arial, sans-serif" font-size="20.7" fill="#262626">SST</text>
<line x1="1333.3" y1="597.3" x2="1352.8" y2="597.3" stroke="#f08090" stroke-width="1.4"/>
<text x="1353.5" y="604.8" font-family="Liberation Sans, Arial, sans-serif" font-size="20.9" fill="#262626">SST Tendency</text>
</svg></body></html>
